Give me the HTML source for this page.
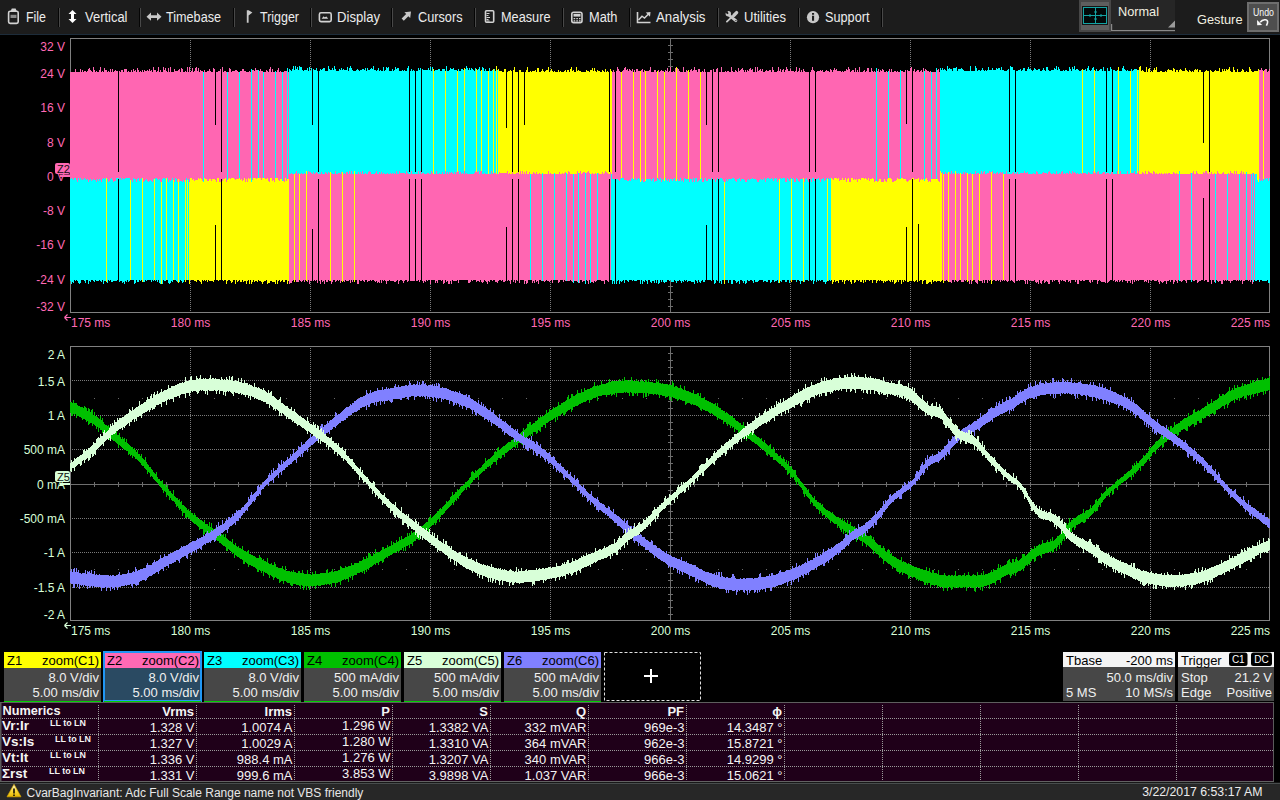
<!DOCTYPE html>
<html><head><meta charset="utf-8"><title>Scope</title>
<style>
html,body{margin:0;padding:0;background:#000;width:1280px;height:800px;overflow:hidden}
svg{position:absolute;left:0;top:0;display:block}
svg text{font-family:'Liberation Sans',sans-serif}
</style></head><body>
<svg width="1280" height="800" viewBox="0 0 1280 800">
<rect x="0" y="0" width="1280" height="34" fill="#1c1c1c"/>
<rect x="0" y="34" width="1280" height="1" fill="#1d2c3a"/>
<text x="26" y="22" font-size="14" fill="#ececec" text-anchor="start" textLength="20" lengthAdjust="spacingAndGlyphs">File</text>
<text x="85" y="22" font-size="14" fill="#ececec" text-anchor="start" textLength="42.5" lengthAdjust="spacingAndGlyphs">Vertical</text>
<text x="166" y="22" font-size="14" fill="#ececec" text-anchor="start" textLength="55" lengthAdjust="spacingAndGlyphs">Timebase</text>
<text x="260" y="22" font-size="14" fill="#ececec" text-anchor="start" textLength="39" lengthAdjust="spacingAndGlyphs">Trigger</text>
<text x="337" y="22" font-size="14" fill="#ececec" text-anchor="start" textLength="43" lengthAdjust="spacingAndGlyphs">Display</text>
<text x="418" y="22" font-size="14" fill="#ececec" text-anchor="start" textLength="44.5" lengthAdjust="spacingAndGlyphs">Cursors</text>
<text x="501" y="22" font-size="14" fill="#ececec" text-anchor="start" textLength="49.5" lengthAdjust="spacingAndGlyphs">Measure</text>
<text x="589" y="22" font-size="14" fill="#ececec" text-anchor="start" textLength="28.5" lengthAdjust="spacingAndGlyphs">Math</text>
<text x="656" y="22" font-size="14" fill="#ececec" text-anchor="start" textLength="49.5" lengthAdjust="spacingAndGlyphs">Analysis</text>
<text x="744" y="22" font-size="14" fill="#ececec" text-anchor="start" textLength="42" lengthAdjust="spacingAndGlyphs">Utilities</text>
<text x="825" y="22" font-size="14" fill="#ececec" text-anchor="start" textLength="44.5" lengthAdjust="spacingAndGlyphs">Support</text>
<rect x="58" y="8" width="1" height="19" fill="#050505"/>
<rect x="59" y="8" width="1" height="19" fill="#484848"/>
<rect x="139" y="8" width="1" height="19" fill="#050505"/>
<rect x="140" y="8" width="1" height="19" fill="#484848"/>
<rect x="233" y="8" width="1" height="19" fill="#050505"/>
<rect x="234" y="8" width="1" height="19" fill="#484848"/>
<rect x="310" y="8" width="1" height="19" fill="#050505"/>
<rect x="311" y="8" width="1" height="19" fill="#484848"/>
<rect x="391" y="8" width="1" height="19" fill="#050505"/>
<rect x="392" y="8" width="1" height="19" fill="#484848"/>
<rect x="474" y="8" width="1" height="19" fill="#050505"/>
<rect x="475" y="8" width="1" height="19" fill="#484848"/>
<rect x="562" y="8" width="1" height="19" fill="#050505"/>
<rect x="563" y="8" width="1" height="19" fill="#484848"/>
<rect x="629" y="8" width="1" height="19" fill="#050505"/>
<rect x="630" y="8" width="1" height="19" fill="#484848"/>
<rect x="717" y="8" width="1" height="19" fill="#050505"/>
<rect x="718" y="8" width="1" height="19" fill="#484848"/>
<rect x="798" y="8" width="1" height="19" fill="#050505"/>
<rect x="799" y="8" width="1" height="19" fill="#484848"/>
<rect x="881" y="8" width="1" height="19" fill="#050505"/>
<rect x="882" y="8" width="1" height="19" fill="#484848"/>

<g fill="none" stroke="#d2d2d2" stroke-width="1.6">
 <rect x="8.6" y="11.2" width="9.6" height="12.2" rx="1.6"/>
 <rect x="66" y="0" width="0" height="0"/>
 <rect x="319.4" y="12.8" width="11.8" height="8.8" rx="1.6"/>
 <rect x="485.5" y="10.8" width="8.2" height="11.4" rx="1"/>
 <rect x="571.8" y="12.2" width="10.2" height="10.4" rx="1.8"/>
 <path d="M637.5 12V22.5H650.5"/>
</g>
<path fill="#d2d2d2" d="M10.3 11.8L11.8 8.6H15.6L17 11.8Z"/>
<rect x="10.5" y="14.8" width="6" height="3.2" fill="#8a8a8a"/>
<path fill="#ffffff" d="M72.5 10L76.5 14H74V19H76.5L72.5 23L68.5 19H71V14H68.5Z"/>
<path fill="#c8c8c8" d="M146.5 16.7L151 12.6V15.3H157V12.6L161.5 16.7L157 20.8V18.1H151V20.8Z"/>
<path fill="#c8c8c8" d="M246.8 10.2H248.6V22.8H246.8Z M248.6 10.2L252.4 12.4L248.6 15.6Z"/>
<path fill="#cfcfcf" d="M326.5 16.6L328.2 18.8H321.6L323.6 16.2L324.6 17.2Z"/>
<path fill="#c8c8c8" d="M411 11.6L410.2 18L408.3 16.2L403.8 20.8L401.6 18.6L406.2 14.1L404.4 12.2Z"/>
<path stroke="#d2d2d2" stroke-width="1" d="M486.5 13.5h3M486.5 15.5h2M486.5 17.5h3.5M486.5 19.5h2M486.5 21h3"/>
<rect x="573.5" y="13.8" width="7" height="2.8" fill="#d2d2d2"/>
<path fill="#d2d2d2" d="M573.6 18h1.6v1.3h-1.6Z M576.3 18h1.6v1.3h-1.6Z M579 18h1.6v1.3h-1.6Z M573.6 20.2h1.6v1.3h-1.6Z M576.3 20.2h1.6v1.3h-1.6Z M579 20.2h1.6v1.3h-1.6Z"/>
<path fill="none" stroke="#d2d2d2" stroke-width="1.5" d="M638.5 20L642 16.2L644.5 18L649 13.5"/>
<path fill="#d2d2d2" d="M650.5 12L650 16.8L645.8 12.6Z"/>
<path fill="none" stroke="#c8c8c8" stroke-width="3.4" stroke-linecap="round" d="M734 15.2L736.6 12.6"/>
<path fill="none" stroke="#c8c8c8" stroke-width="1.8" stroke-linecap="round" d="M726.9 21.6L733 15.8"/>
<path fill="none" stroke="#c8c8c8" stroke-width="3" stroke-linecap="round" d="M729.6 15.6L735.8 20.6"/>
<circle cx="728.3" cy="13.8" r="2.7" fill="#c8c8c8"/>
<path fill="#1c1c1c" d="M725 12.2L727.2 10.6L728.6 13.2L727.4 14.2Z"/>
<circle cx="735.9" cy="20.6" r="0.65" fill="#1c1c1c"/>
<circle cx="813" cy="17.2" r="6.1" fill="#c8c8c8"/>
<path fill="#1c1c1c" d="M812 15.8h2.1v5h-2.1Z M812 13h2.1v1.8h-2.1Z"/>

<rect x="1079" y="0" width="32" height="32" fill="#474747"/>
<rect x="1081" y="2" width="28" height="28" fill="#5e5e5e"/>
<rect x="1082" y="6" width="26" height="19" fill="#151515"/>
<rect x="1083.5" y="7.5" width="23" height="16" fill="#020808" stroke="#13a3a3" stroke-width="1"/>
<path d="M1095.5 8V23M1084 15.5H1106" stroke="#13a3a3" stroke-width="1"/>
<path d="M1094.5 11h2v2h-2Z M1094.5 18h2v2h-2Z M1089 14.5h2v2h-2Z M1100 14.5h2v2h-2Z" fill="#13a3a3"/>
<rect x="1111" y="0" width="64" height="31" fill="#262626"/>
<rect x="1111" y="30" width="64" height="1.2" fill="#8a8a8a"/>
<rect x="1111" y="24" width="1.2" height="7" fill="#8a8a8a"/>
<path d="M1175 20.5V27.5H1168Z" fill="#9a9a9a"/>
<text x="1118" y="15.5" font-size="13.5" fill="#f2f0e0" text-anchor="start" textLength="41" lengthAdjust="spacingAndGlyphs">Normal</text>
<text x="1197" y="24" font-size="13.5" fill="#f2f0e0" text-anchor="start" textLength="45.5" lengthAdjust="spacingAndGlyphs">Gesture</text>
<rect x="1247" y="2" width="32" height="30" fill="#6e6e6e"/>
<rect x="1249" y="4" width="28" height="26" fill="#4e4e4e"/>
<text x="1263.5" y="16" font-size="10" fill="#f8f8f8" text-anchor="middle" textLength="21" lengthAdjust="spacingAndGlyphs">Undo</text>
<path d="M1260.2 22.2C1262.5 19.5 1267.2 18.6 1267.6 21.6C1267.8 23.2 1267 24.4 1266.4 25.6" fill="none" stroke="#f8f8f8" stroke-width="1.6"/><path d="M1257 20L1257.2 25.2L1262.2 25Z" fill="#f8f8f8"/>
<g shape-rendering="crispEdges">
<path d="M190.5 40V312M310.5 40V312M430.5 40V312M550.5 40V312M790.5 40V312M910.5 40V312M1030.5 40V312M1150.5 40V312M72 72.5H1269M72 107.5H1269M72 141.5H1269M72 210.5H1269M72 244.5H1269M72 279.5H1269" stroke="#7a7a7a" stroke-width="1" stroke-dasharray="1 1" fill="none"/>
<path d="" fill="#6a6a6a"/>
<path d="M670 38h1V312h-1ZM70 176H1269v1H70ZM668 45h5v1h-5ZM668 52h5v1h-5ZM668 59h5v1h-5ZM668 66h5v1h-5ZM668 72h5v1h-5ZM668 79h5v1h-5ZM668 86h5v1h-5ZM668 93h5v1h-5ZM668 100h5v1h-5ZM668 107h5v1h-5ZM668 114h5v1h-5ZM668 121h5v1h-5ZM668 127h5v1h-5ZM668 134h5v1h-5ZM668 141h5v1h-5ZM668 148h5v1h-5ZM668 155h5v1h-5ZM668 162h5v1h-5ZM668 169h5v1h-5ZM668 176h5v1h-5ZM668 182h5v1h-5ZM668 189h5v1h-5ZM668 196h5v1h-5ZM668 203h5v1h-5ZM668 210h5v1h-5ZM668 217h5v1h-5ZM668 224h5v1h-5ZM668 231h5v1h-5ZM668 237h5v1h-5ZM668 244h5v1h-5ZM668 251h5v1h-5ZM668 258h5v1h-5ZM668 265h5v1h-5ZM668 272h5v1h-5ZM668 279h5v1h-5ZM668 286h5v1h-5ZM668 292h5v1h-5ZM668 299h5v1h-5ZM668 306h5v1h-5ZM94 174h1v5h-1ZM118 174h1v5h-1ZM142 174h1v5h-1ZM166 174h1v5h-1ZM190 174h1v5h-1ZM214 174h1v5h-1ZM238 174h1v5h-1ZM262 174h1v5h-1ZM286 174h1v5h-1ZM310 174h1v5h-1ZM334 174h1v5h-1ZM358 174h1v5h-1ZM382 174h1v5h-1ZM406 174h1v5h-1ZM430 174h1v5h-1ZM454 174h1v5h-1ZM478 174h1v5h-1ZM502 174h1v5h-1ZM526 174h1v5h-1ZM550 174h1v5h-1ZM574 174h1v5h-1ZM598 174h1v5h-1ZM622 174h1v5h-1ZM646 174h1v5h-1ZM670 174h1v5h-1ZM694 174h1v5h-1ZM718 174h1v5h-1ZM742 174h1v5h-1ZM766 174h1v5h-1ZM790 174h1v5h-1ZM814 174h1v5h-1ZM838 174h1v5h-1ZM862 174h1v5h-1ZM886 174h1v5h-1ZM910 174h1v5h-1ZM934 174h1v5h-1ZM958 174h1v5h-1ZM982 174h1v5h-1ZM1006 174h1v5h-1ZM1030 174h1v5h-1ZM1054 174h1v5h-1ZM1078 174h1v5h-1ZM1102 174h1v5h-1ZM1126 174h1v5h-1ZM1150 174h1v5h-1ZM1174 174h1v5h-1ZM1198 174h1v5h-1ZM1222 174h1v5h-1ZM1246 174h1v5h-1Z" fill="#6e6e6e"/>
<rect x="70.5" y="38.5" width="1199" height="274" fill="none" stroke="#808080" stroke-width="1"/>
<path fill="#ff66b2" d="M289 168h1V284h-1ZM290 168h1V283h-1ZM291 168h1V283h-1ZM292 168h1V281h-1ZM293 168h1V280h-1ZM295 168h1V280h-1ZM296 168h1V282h-1ZM297 168h1V282h-1ZM298 168h1V282h-1ZM300 168h1V281h-1ZM301 168h1V282h-1ZM302 168h1V281h-1ZM303 168h1V280h-1ZM304 168h1V282h-1ZM305 168h1V280h-1ZM307 168h1V282h-1ZM308 168h1V280h-1ZM309 168h1V284h-1ZM310 168h1V281h-1ZM311 168h1V281h-1ZM312 168h1V280h-1ZM313 168h1V281h-1ZM314 168h1V280h-1ZM315 168h1V281h-1ZM316 168h1V280h-1ZM317 168h1V283h-1ZM318 168h1V281h-1ZM319 168h1V281h-1ZM320 168h1V284h-1ZM321 168h1V280h-1ZM322 168h1V282h-1ZM323 168h1V281h-1ZM324 168h1V284h-1ZM325 168h1V280h-1ZM326 168h1V282h-1ZM327 168h1V282h-1ZM328 168h1V280h-1ZM329 168h1V281h-1ZM331 168h1V284h-1ZM332 168h1V282h-1ZM333 168h1V280h-1ZM334 168h1V280h-1ZM335 168h1V282h-1ZM336 168h1V281h-1ZM337 168h1V280h-1ZM338 168h1V281h-1ZM339 168h1V280h-1ZM340 168h1V283h-1ZM341 168h1V281h-1ZM343 168h1V281h-1ZM344 168h1V282h-1ZM345 168h1V280h-1ZM346 168h1V281h-1ZM347 168h1V281h-1ZM348 168h1V281h-1ZM349 168h1V280h-1ZM350 168h1V283h-1ZM351 168h1V280h-1ZM352 168h1V282h-1ZM353 168h1V280h-1ZM355 168h1V280h-1ZM356 168h1V280h-1ZM357 168h1V284h-1ZM358 168h1V284h-1ZM359 168h1V280h-1ZM360 168h1V281h-1ZM361 168h1V281h-1ZM362 168h1V280h-1ZM363 168h1V281h-1ZM364 168h1V282h-1ZM365 168h1V280h-1ZM366 168h1V280h-1ZM367 168h1V282h-1ZM368 168h1V281h-1ZM369 168h1V281h-1ZM370 168h1V280h-1ZM371 168h1V281h-1ZM372 168h1V280h-1ZM373 168h1V280h-1ZM374 168h1V281h-1ZM375 168h1V282h-1ZM376 168h1V281h-1ZM377 168h1V283h-1ZM378 168h1V282h-1ZM379 168h1V283h-1ZM380 168h1V280h-1ZM381 168h1V283h-1ZM382 168h1V280h-1ZM383 168h1V281h-1ZM384 168h1V280h-1ZM385 168h1V281h-1ZM386 168h1V284h-1ZM387 168h1V281h-1ZM388 168h1V281h-1ZM389 168h1V280h-1ZM390 168h1V281h-1ZM391 168h1V281h-1ZM392 168h1V281h-1ZM393 168h1V281h-1ZM394 168h1V282h-1ZM395 168h1V282h-1ZM396 168h1V281h-1ZM397 168h1V280h-1ZM398 168h1V284h-1ZM399 168h1V281h-1ZM400 168h1V280h-1ZM401 168h1V280h-1ZM402 168h1V281h-1ZM403 168h1V283h-1ZM404 168h1V281h-1ZM405 168h1V280h-1ZM406 168h1V280h-1ZM407 168h1V282h-1ZM408 168h1V281h-1ZM409 168h1V282h-1ZM410 168h1V281h-1ZM411 168h1V281h-1ZM412 168h1V281h-1ZM413 168h1V281h-1ZM414 168h1V281h-1ZM415 168h1V282h-1ZM416 168h1V281h-1ZM417 168h1V281h-1ZM418 168h1V280h-1ZM419 168h1V282h-1ZM420 168h1V280h-1ZM421 168h1V283h-1ZM422 168h1V281h-1ZM423 168h1V283h-1ZM424 168h1V281h-1ZM425 168h1V282h-1ZM426 168h1V280h-1ZM427 168h1V281h-1ZM428 168h1V280h-1ZM429 168h1V280h-1ZM430 168h1V284h-1ZM431 168h1V280h-1ZM432 168h1V280h-1ZM433 168h1V280h-1ZM434 168h1V280h-1ZM435 168h1V283h-1ZM436 168h1V281h-1ZM437 168h1V283h-1ZM438 168h1V280h-1ZM439 168h1V280h-1ZM440 168h1V280h-1ZM441 168h1V281h-1ZM442 168h1V280h-1ZM443 168h1V284h-1ZM444 168h1V283h-1ZM445 168h1V280h-1ZM446 168h1V282h-1ZM447 168h1V281h-1ZM448 168h1V284h-1ZM449 168h1V284h-1ZM450 168h1V281h-1ZM451 168h1V284h-1ZM452 168h1V280h-1ZM453 168h1V281h-1ZM454 168h1V281h-1ZM455 168h1V281h-1ZM456 168h1V281h-1ZM457 168h1V280h-1ZM458 168h1V283h-1ZM459 168h1V280h-1ZM460 168h1V280h-1ZM461 168h1V280h-1ZM462 168h1V280h-1ZM463 168h1V280h-1ZM464 168h1V280h-1ZM465 168h1V280h-1ZM466 168h1V280h-1ZM467 168h1V280h-1ZM468 168h1V283h-1ZM469 168h1V283h-1ZM470 168h1V282h-1ZM471 168h1V280h-1ZM472 168h1V281h-1ZM473 168h1V280h-1ZM474 168h1V280h-1ZM475 168h1V280h-1ZM476 168h1V282h-1ZM477 168h1V281h-1ZM478 168h1V281h-1ZM479 168h1V282h-1ZM480 168h1V280h-1ZM481 168h1V282h-1ZM482 168h1V283h-1ZM483 168h1V282h-1ZM484 168h1V280h-1ZM485 168h1V281h-1ZM486 168h1V282h-1ZM487 168h1V284h-1ZM488 168h1V281h-1ZM489 168h1V282h-1ZM490 168h1V280h-1ZM491 168h1V280h-1ZM492 168h1V281h-1ZM493 168h1V280h-1ZM494 168h1V280h-1ZM495 168h1V282h-1ZM496 168h1V282h-1ZM497 168h1V283h-1ZM498 168h1V281h-1ZM499 168h1V280h-1ZM500 168h1V280h-1ZM501 168h1V281h-1ZM502 168h1V280h-1ZM503 168h1V282h-1ZM504 168h1V282h-1ZM505 168h1V281h-1ZM506 168h1V283h-1ZM507 168h1V281h-1ZM508 168h1V280h-1ZM509 168h1V281h-1ZM510 168h1V284h-1ZM511 168h1V280h-1ZM512 168h1V281h-1ZM513 168h1V282h-1ZM514 168h1V280h-1ZM515 168h1V283h-1ZM516 168h1V280h-1ZM517 168h1V281h-1ZM518 168h1V282h-1ZM519 168h1V283h-1ZM520 168h1V280h-1ZM521 168h1V280h-1ZM522 168h1V280h-1ZM523 168h1V280h-1ZM524 168h1V284h-1ZM525 168h1V281h-1ZM526 168h1V284h-1ZM527 168h1V283h-1ZM528 168h1V280h-1ZM529 168h1V280h-1ZM531 168h1V280h-1ZM532 168h1V283h-1ZM533 168h1V281h-1ZM534 168h1V283h-1ZM535 168h1V280h-1ZM536 168h1V282h-1ZM537 168h1V281h-1ZM538 168h1V284h-1ZM539 168h1V280h-1ZM540 168h1V280h-1ZM541 168h1V281h-1ZM543 168h1V281h-1ZM544 168h1V282h-1ZM545 168h1V281h-1ZM546 168h1V280h-1ZM547 168h1V281h-1ZM548 168h1V281h-1ZM549 168h1V282h-1ZM550 168h1V281h-1ZM551 168h1V280h-1ZM552 168h1V283h-1ZM553 168h1V280h-1ZM555 168h1V280h-1ZM556 168h1V280h-1ZM557 168h1V280h-1ZM558 168h1V283h-1ZM559 168h1V282h-1ZM560 168h1V280h-1ZM561 168h1V280h-1ZM562 168h1V280h-1ZM563 168h1V282h-1ZM564 168h1V280h-1ZM565 168h1V281h-1ZM567 168h1V281h-1ZM568 168h1V281h-1ZM569 168h1V281h-1ZM570 168h1V280h-1ZM571 168h1V281h-1ZM572 168h1V282h-1ZM574 168h1V281h-1ZM575 168h1V281h-1ZM576 168h1V281h-1ZM577 168h1V282h-1ZM579 168h1V283h-1ZM580 168h1V280h-1ZM581 168h1V280h-1ZM582 168h1V282h-1ZM583 168h1V281h-1ZM584 168h1V281h-1ZM586 168h1V280h-1ZM587 168h1V281h-1ZM588 168h1V284h-1ZM589 168h1V280h-1ZM591 168h1V282h-1ZM592 168h1V282h-1ZM593 168h1V283h-1ZM594 168h1V281h-1ZM595 168h1V282h-1ZM596 168h1V281h-1ZM598 168h1V280h-1ZM599 168h1V280h-1ZM600 168h1V280h-1ZM601 168h1V281h-1ZM602 168h1V281h-1ZM603 168h1V281h-1ZM604 168h1V284h-1ZM605 168h1V280h-1ZM606 168h1V280h-1ZM607 168h1V281h-1ZM608 168h1V282h-1ZM609 168h1V281h-1ZM610 168h1V280h-1ZM942 168h1V280h-1ZM944 168h1V281h-1ZM945 168h1V281h-1ZM946 168h1V280h-1ZM947 168h1V281h-1ZM949 168h1V282h-1ZM950 168h1V282h-1ZM951 168h1V283h-1ZM952 168h1V280h-1ZM953 168h1V280h-1ZM954 168h1V282h-1ZM956 168h1V281h-1ZM957 168h1V282h-1ZM958 168h1V281h-1ZM959 168h1V280h-1ZM961 168h1V282h-1ZM962 168h1V282h-1ZM963 168h1V282h-1ZM964 168h1V280h-1ZM965 168h1V281h-1ZM966 168h1V280h-1ZM968 168h1V281h-1ZM969 168h1V284h-1ZM970 168h1V280h-1ZM971 168h1V284h-1ZM973 168h1V280h-1ZM974 168h1V280h-1ZM975 168h1V282h-1ZM976 168h1V283h-1ZM977 168h1V284h-1ZM978 168h1V280h-1ZM980 168h1V281h-1ZM981 168h1V281h-1ZM982 168h1V283h-1ZM983 168h1V280h-1ZM984 168h1V283h-1ZM985 168h1V280h-1ZM986 168h1V280h-1ZM987 168h1V283h-1ZM988 168h1V280h-1ZM989 168h1V281h-1ZM990 168h1V280h-1ZM992 168h1V281h-1ZM993 168h1V280h-1ZM994 168h1V280h-1ZM995 168h1V281h-1ZM996 168h1V281h-1ZM997 168h1V280h-1ZM998 168h1V281h-1ZM999 168h1V280h-1ZM1000 168h1V282h-1ZM1001 168h1V280h-1ZM1002 168h1V281h-1ZM1004 168h1V281h-1ZM1005 168h1V280h-1ZM1006 168h1V281h-1ZM1007 168h1V282h-1ZM1008 168h1V281h-1ZM1009 168h1V281h-1ZM1010 168h1V281h-1ZM1011 168h1V280h-1ZM1012 168h1V281h-1ZM1013 168h1V282h-1ZM1014 168h1V283h-1ZM1015 168h1V280h-1ZM1016 168h1V281h-1ZM1017 168h1V281h-1ZM1018 168h1V280h-1ZM1019 168h1V281h-1ZM1020 168h1V280h-1ZM1021 168h1V280h-1ZM1022 168h1V280h-1ZM1023 168h1V280h-1ZM1024 168h1V281h-1ZM1025 168h1V284h-1ZM1026 168h1V280h-1ZM1027 168h1V284h-1ZM1028 168h1V280h-1ZM1029 168h1V281h-1ZM1030 168h1V280h-1ZM1031 168h1V281h-1ZM1032 168h1V281h-1ZM1033 168h1V281h-1ZM1034 168h1V280h-1ZM1035 168h1V282h-1ZM1036 168h1V283h-1ZM1037 168h1V282h-1ZM1038 168h1V284h-1ZM1039 168h1V280h-1ZM1040 168h1V283h-1ZM1041 168h1V284h-1ZM1042 168h1V281h-1ZM1043 168h1V280h-1ZM1044 168h1V283h-1ZM1045 168h1V282h-1ZM1046 168h1V281h-1ZM1047 168h1V282h-1ZM1048 168h1V284h-1ZM1049 168h1V284h-1ZM1050 168h1V280h-1ZM1051 168h1V280h-1ZM1052 168h1V282h-1ZM1053 168h1V280h-1ZM1054 168h1V281h-1ZM1055 168h1V280h-1ZM1056 168h1V280h-1ZM1057 168h1V280h-1ZM1058 168h1V282h-1ZM1059 168h1V284h-1ZM1060 168h1V280h-1ZM1061 168h1V281h-1ZM1062 168h1V280h-1ZM1063 168h1V281h-1ZM1064 168h1V281h-1ZM1065 168h1V282h-1ZM1066 168h1V280h-1ZM1067 168h1V280h-1ZM1068 168h1V282h-1ZM1069 168h1V281h-1ZM1070 168h1V283h-1ZM1071 168h1V280h-1ZM1072 168h1V280h-1ZM1073 168h1V280h-1ZM1074 168h1V280h-1ZM1075 168h1V282h-1ZM1076 168h1V280h-1ZM1077 168h1V284h-1ZM1078 168h1V284h-1ZM1079 168h1V280h-1ZM1080 168h1V281h-1ZM1081 168h1V281h-1ZM1082 168h1V280h-1ZM1083 168h1V281h-1ZM1084 168h1V281h-1ZM1085 168h1V280h-1ZM1086 168h1V280h-1ZM1087 168h1V280h-1ZM1088 168h1V280h-1ZM1089 168h1V282h-1ZM1090 168h1V283h-1ZM1091 168h1V280h-1ZM1092 168h1V282h-1ZM1093 168h1V280h-1ZM1094 168h1V280h-1ZM1095 168h1V280h-1ZM1096 168h1V280h-1ZM1097 168h1V284h-1ZM1098 168h1V281h-1ZM1099 168h1V280h-1ZM1100 168h1V281h-1ZM1101 168h1V282h-1ZM1102 168h1V282h-1ZM1103 168h1V282h-1ZM1104 168h1V282h-1ZM1105 168h1V283h-1ZM1106 168h1V284h-1ZM1107 168h1V283h-1ZM1108 168h1V282h-1ZM1109 168h1V281h-1ZM1110 168h1V280h-1ZM1111 168h1V280h-1ZM1112 168h1V281h-1ZM1113 168h1V281h-1ZM1114 168h1V280h-1ZM1115 168h1V282h-1ZM1116 168h1V281h-1ZM1117 168h1V282h-1ZM1118 168h1V280h-1ZM1119 168h1V282h-1ZM1120 168h1V281h-1ZM1121 168h1V280h-1ZM1122 168h1V282h-1ZM1123 168h1V280h-1ZM1124 168h1V280h-1ZM1125 168h1V281h-1ZM1126 168h1V281h-1ZM1127 168h1V283h-1ZM1128 168h1V281h-1ZM1129 168h1V281h-1ZM1130 168h1V283h-1ZM1131 168h1V280h-1ZM1132 168h1V284h-1ZM1133 168h1V280h-1ZM1134 168h1V282h-1ZM1135 168h1V280h-1ZM1136 168h1V281h-1ZM1137 168h1V280h-1ZM1138 168h1V281h-1ZM1139 168h1V280h-1ZM1140 168h1V280h-1ZM1141 168h1V280h-1ZM1142 168h1V280h-1ZM1143 168h1V280h-1ZM1144 168h1V282h-1ZM1145 168h1V281h-1ZM1146 168h1V282h-1ZM1147 168h1V280h-1ZM1148 168h1V283h-1ZM1149 168h1V280h-1ZM1150 168h1V280h-1ZM1151 168h1V281h-1ZM1152 168h1V280h-1ZM1153 168h1V280h-1ZM1154 168h1V281h-1ZM1155 168h1V281h-1ZM1156 168h1V281h-1ZM1157 168h1V280h-1ZM1158 168h1V282h-1ZM1159 168h1V284h-1ZM1160 168h1V281h-1ZM1161 168h1V282h-1ZM1162 168h1V283h-1ZM1163 168h1V282h-1ZM1164 168h1V281h-1ZM1165 168h1V281h-1ZM1166 168h1V284h-1ZM1167 168h1V281h-1ZM1168 168h1V281h-1ZM1169 168h1V280h-1ZM1170 168h1V282h-1ZM1171 168h1V280h-1ZM1172 168h1V280h-1ZM1173 168h1V284h-1ZM1174 168h1V282h-1ZM1175 168h1V280h-1ZM1176 168h1V281h-1ZM1177 168h1V283h-1ZM1178 168h1V280h-1ZM1180 168h1V281h-1ZM1181 168h1V282h-1ZM1182 168h1V281h-1ZM1183 168h1V280h-1ZM1184 168h1V280h-1ZM1185 168h1V281h-1ZM1186 168h1V283h-1ZM1187 168h1V280h-1ZM1188 168h1V280h-1ZM1189 168h1V280h-1ZM1190 168h1V280h-1ZM1192 168h1V280h-1ZM1193 168h1V281h-1ZM1194 168h1V281h-1ZM1195 168h1V280h-1ZM1196 168h1V280h-1ZM1197 168h1V283h-1ZM1198 168h1V282h-1ZM1199 168h1V281h-1ZM1200 168h1V281h-1ZM1201 168h1V280h-1ZM1202 168h1V280h-1ZM1203 168h1V281h-1ZM1204 168h1V281h-1ZM1205 168h1V280h-1ZM1206 168h1V280h-1ZM1207 168h1V282h-1ZM1208 168h1V282h-1ZM1209 168h1V281h-1ZM1210 168h1V280h-1ZM1211 168h1V284h-1ZM1212 168h1V280h-1ZM1213 168h1V280h-1ZM1214 168h1V282h-1ZM1216 168h1V280h-1ZM1217 168h1V281h-1ZM1218 168h1V282h-1ZM1219 168h1V281h-1ZM1220 168h1V281h-1ZM1221 168h1V284h-1ZM1222 168h1V284h-1ZM1223 168h1V280h-1ZM1224 168h1V281h-1ZM1225 168h1V280h-1ZM1226 168h1V281h-1ZM1228 168h1V281h-1ZM1229 168h1V281h-1ZM1230 168h1V283h-1ZM1231 168h1V281h-1ZM1232 168h1V281h-1ZM1233 168h1V280h-1ZM1234 168h1V280h-1ZM1235 168h1V280h-1ZM1236 168h1V281h-1ZM1237 168h1V280h-1ZM1238 168h1V281h-1ZM1240 168h1V281h-1ZM1241 168h1V280h-1ZM1242 168h1V284h-1ZM1243 168h1V281h-1ZM1244 168h1V281h-1ZM1245 168h1V280h-1ZM1247 168h1V280h-1ZM1248 168h1V281h-1ZM1249 168h1V280h-1ZM1250 168h1V282h-1ZM1252 168h1V284h-1ZM1254 168h1V280h-1Z"/>
<path fill="#00ffff" d="M70 168h1V281h-1ZM71 168h1V284h-1ZM72 168h1V282h-1ZM73 168h1V283h-1ZM74 168h1V280h-1ZM75 168h1V281h-1ZM76 168h1V280h-1ZM77 168h1V281h-1ZM78 168h1V283h-1ZM79 168h1V284h-1ZM80 168h1V283h-1ZM81 168h1V280h-1ZM82 168h1V280h-1ZM83 168h1V280h-1ZM84 168h1V281h-1ZM85 168h1V283h-1ZM86 168h1V280h-1ZM87 168h1V280h-1ZM88 168h1V284h-1ZM89 168h1V281h-1ZM90 168h1V282h-1ZM91 168h1V280h-1ZM92 168h1V280h-1ZM93 168h1V281h-1ZM94 168h1V282h-1ZM95 168h1V280h-1ZM96 168h1V281h-1ZM97 168h1V281h-1ZM98 168h1V281h-1ZM99 168h1V280h-1ZM100 168h1V281h-1ZM101 168h1V282h-1ZM102 168h1V280h-1ZM103 168h1V284h-1ZM104 168h1V281h-1ZM105 168h1V281h-1ZM107 168h1V283h-1ZM108 168h1V280h-1ZM109 168h1V281h-1ZM110 168h1V280h-1ZM111 168h1V282h-1ZM112 168h1V282h-1ZM113 168h1V281h-1ZM114 168h1V281h-1ZM115 168h1V281h-1ZM116 168h1V281h-1ZM117 168h1V280h-1ZM118 168h1V280h-1ZM119 168h1V282h-1ZM120 168h1V281h-1ZM121 168h1V281h-1ZM122 168h1V283h-1ZM123 168h1V282h-1ZM124 168h1V284h-1ZM125 168h1V281h-1ZM126 168h1V282h-1ZM127 168h1V280h-1ZM128 168h1V282h-1ZM129 168h1V281h-1ZM131 168h1V280h-1ZM132 168h1V280h-1ZM133 168h1V280h-1ZM134 168h1V284h-1ZM135 168h1V283h-1ZM136 168h1V280h-1ZM137 168h1V282h-1ZM138 168h1V282h-1ZM139 168h1V280h-1ZM140 168h1V281h-1ZM141 168h1V280h-1ZM143 168h1V282h-1ZM144 168h1V282h-1ZM145 168h1V280h-1ZM146 168h1V281h-1ZM147 168h1V280h-1ZM148 168h1V280h-1ZM149 168h1V280h-1ZM150 168h1V280h-1ZM151 168h1V282h-1ZM152 168h1V280h-1ZM153 168h1V281h-1ZM155 168h1V281h-1ZM156 168h1V280h-1ZM157 168h1V282h-1ZM158 168h1V280h-1ZM159 168h1V283h-1ZM160 168h1V284h-1ZM162 168h1V284h-1ZM163 168h1V280h-1ZM164 168h1V281h-1ZM165 168h1V281h-1ZM167 168h1V280h-1ZM168 168h1V283h-1ZM169 168h1V284h-1ZM170 168h1V283h-1ZM171 168h1V281h-1ZM172 168h1V282h-1ZM174 168h1V280h-1ZM175 168h1V280h-1ZM176 168h1V281h-1ZM177 168h1V282h-1ZM179 168h1V282h-1ZM180 168h1V280h-1ZM181 168h1V281h-1ZM182 168h1V283h-1ZM183 168h1V282h-1ZM184 168h1V280h-1ZM186 168h1V280h-1ZM188 168h1V280h-1ZM530 168h1V280h-1ZM542 168h1V281h-1ZM554 168h1V280h-1ZM566 168h1V281h-1ZM573 168h1V283h-1ZM578 168h1V283h-1ZM585 168h1V284h-1ZM590 168h1V283h-1ZM597 168h1V280h-1ZM611 168h1V280h-1ZM612 168h1V284h-1ZM613 168h1V281h-1ZM614 168h1V284h-1ZM615 168h1V280h-1ZM616 168h1V284h-1ZM617 168h1V281h-1ZM618 168h1V280h-1ZM619 168h1V284h-1ZM620 168h1V281h-1ZM621 168h1V282h-1ZM622 168h1V281h-1ZM623 168h1V280h-1ZM624 168h1V283h-1ZM625 168h1V280h-1ZM626 168h1V280h-1ZM627 168h1V281h-1ZM628 168h1V282h-1ZM629 168h1V280h-1ZM630 168h1V280h-1ZM631 168h1V280h-1ZM632 168h1V281h-1ZM633 168h1V280h-1ZM634 168h1V281h-1ZM635 168h1V281h-1ZM636 168h1V281h-1ZM637 168h1V280h-1ZM638 168h1V280h-1ZM639 168h1V280h-1ZM640 168h1V284h-1ZM641 168h1V280h-1ZM642 168h1V284h-1ZM643 168h1V281h-1ZM644 168h1V282h-1ZM645 168h1V280h-1ZM646 168h1V281h-1ZM647 168h1V284h-1ZM648 168h1V280h-1ZM649 168h1V280h-1ZM650 168h1V282h-1ZM651 168h1V283h-1ZM652 168h1V281h-1ZM653 168h1V281h-1ZM654 168h1V283h-1ZM655 168h1V280h-1ZM656 168h1V283h-1ZM657 168h1V280h-1ZM658 168h1V284h-1ZM659 168h1V283h-1ZM660 168h1V280h-1ZM661 168h1V282h-1ZM662 168h1V280h-1ZM663 168h1V282h-1ZM664 168h1V283h-1ZM665 168h1V282h-1ZM666 168h1V282h-1ZM667 168h1V280h-1ZM668 168h1V280h-1ZM669 168h1V281h-1ZM670 168h1V280h-1ZM671 168h1V282h-1ZM672 168h1V282h-1ZM673 168h1V282h-1ZM674 168h1V280h-1ZM675 168h1V281h-1ZM676 168h1V283h-1ZM677 168h1V281h-1ZM678 168h1V281h-1ZM679 168h1V280h-1ZM680 168h1V281h-1ZM681 168h1V283h-1ZM682 168h1V281h-1ZM683 168h1V282h-1ZM684 168h1V280h-1ZM685 168h1V281h-1ZM686 168h1V280h-1ZM687 168h1V282h-1ZM688 168h1V281h-1ZM689 168h1V281h-1ZM690 168h1V281h-1ZM691 168h1V282h-1ZM692 168h1V282h-1ZM693 168h1V282h-1ZM694 168h1V284h-1ZM695 168h1V280h-1ZM696 168h1V281h-1ZM697 168h1V283h-1ZM698 168h1V280h-1ZM699 168h1V282h-1ZM700 168h1V283h-1ZM701 168h1V281h-1ZM702 168h1V280h-1ZM703 168h1V282h-1ZM704 168h1V282h-1ZM705 168h1V280h-1ZM706 168h1V280h-1ZM707 168h1V280h-1ZM708 168h1V280h-1ZM709 168h1V280h-1ZM710 168h1V280h-1ZM711 168h1V281h-1ZM712 168h1V281h-1ZM713 168h1V280h-1ZM714 168h1V284h-1ZM715 168h1V283h-1ZM716 168h1V280h-1ZM717 168h1V281h-1ZM718 168h1V280h-1ZM719 168h1V283h-1ZM720 168h1V281h-1ZM721 168h1V284h-1ZM722 168h1V280h-1ZM723 168h1V280h-1ZM725 168h1V280h-1ZM726 168h1V280h-1ZM727 168h1V280h-1ZM728 168h1V283h-1ZM729 168h1V280h-1ZM730 168h1V280h-1ZM731 168h1V284h-1ZM732 168h1V284h-1ZM733 168h1V280h-1ZM734 168h1V280h-1ZM735 168h1V281h-1ZM736 168h1V283h-1ZM737 168h1V282h-1ZM738 168h1V281h-1ZM739 168h1V284h-1ZM740 168h1V280h-1ZM741 168h1V280h-1ZM742 168h1V281h-1ZM743 168h1V283h-1ZM744 168h1V281h-1ZM745 168h1V284h-1ZM746 168h1V283h-1ZM747 168h1V280h-1ZM748 168h1V281h-1ZM749 168h1V281h-1ZM750 168h1V280h-1ZM751 168h1V280h-1ZM752 168h1V281h-1ZM753 168h1V283h-1ZM754 168h1V280h-1ZM755 168h1V282h-1ZM756 168h1V282h-1ZM757 168h1V282h-1ZM758 168h1V281h-1ZM759 168h1V280h-1ZM760 168h1V280h-1ZM761 168h1V280h-1ZM762 168h1V280h-1ZM763 168h1V282h-1ZM764 168h1V281h-1ZM765 168h1V281h-1ZM766 168h1V282h-1ZM767 168h1V282h-1ZM768 168h1V280h-1ZM769 168h1V280h-1ZM770 168h1V283h-1ZM771 168h1V282h-1ZM772 168h1V280h-1ZM773 168h1V280h-1ZM774 168h1V282h-1ZM775 168h1V281h-1ZM776 168h1V281h-1ZM777 168h1V280h-1ZM778 168h1V283h-1ZM780 168h1V281h-1ZM781 168h1V282h-1ZM782 168h1V280h-1ZM783 168h1V280h-1ZM784 168h1V280h-1ZM785 168h1V282h-1ZM786 168h1V282h-1ZM787 168h1V280h-1ZM788 168h1V280h-1ZM789 168h1V283h-1ZM790 168h1V280h-1ZM792 168h1V280h-1ZM793 168h1V280h-1ZM794 168h1V280h-1ZM795 168h1V280h-1ZM796 168h1V282h-1ZM797 168h1V280h-1ZM798 168h1V280h-1ZM799 168h1V281h-1ZM800 168h1V284h-1ZM801 168h1V281h-1ZM802 168h1V281h-1ZM804 168h1V282h-1ZM805 168h1V280h-1ZM806 168h1V280h-1ZM807 168h1V280h-1ZM808 168h1V281h-1ZM809 168h1V282h-1ZM810 168h1V280h-1ZM811 168h1V281h-1ZM812 168h1V280h-1ZM813 168h1V284h-1ZM814 168h1V281h-1ZM815 168h1V280h-1ZM816 168h1V282h-1ZM817 168h1V280h-1ZM818 168h1V281h-1ZM819 168h1V280h-1ZM820 168h1V281h-1ZM821 168h1V280h-1ZM822 168h1V280h-1ZM823 168h1V282h-1ZM824 168h1V282h-1ZM825 168h1V284h-1ZM826 168h1V282h-1ZM828 168h1V281h-1ZM829 168h1V280h-1ZM830 168h1V281h-1ZM1179 168h1V281h-1ZM1191 168h1V282h-1ZM1215 168h1V283h-1ZM1227 168h1V280h-1ZM1239 168h1V280h-1ZM1246 168h1V280h-1ZM1251 168h1V280h-1ZM1253 168h1V282h-1ZM1255 168h1V281h-1ZM1256 168h1V281h-1ZM1257 168h1V280h-1ZM1258 168h1V280h-1ZM1259 168h1V282h-1ZM1260 168h1V280h-1ZM1261 168h1V280h-1ZM1262 168h1V281h-1ZM1263 168h1V281h-1ZM1264 168h1V281h-1ZM1265 168h1V281h-1ZM1266 168h1V281h-1ZM1267 168h1V280h-1ZM1268 168h1V283h-1ZM1269 168h1V283h-1Z"/>
<path fill="#ffff00" d="M106 168h1V282h-1ZM130 168h1V280h-1ZM142 168h1V282h-1ZM154 168h1V280h-1ZM161 168h1V284h-1ZM166 168h1V280h-1ZM173 168h1V280h-1ZM178 168h1V283h-1ZM185 168h1V282h-1ZM187 168h1V280h-1ZM189 168h1V284h-1ZM190 168h1V280h-1ZM191 168h1V280h-1ZM192 168h1V280h-1ZM193 168h1V280h-1ZM194 168h1V281h-1ZM195 168h1V281h-1ZM196 168h1V282h-1ZM197 168h1V280h-1ZM198 168h1V280h-1ZM199 168h1V281h-1ZM200 168h1V282h-1ZM201 168h1V284h-1ZM202 168h1V280h-1ZM203 168h1V281h-1ZM204 168h1V280h-1ZM205 168h1V281h-1ZM206 168h1V280h-1ZM207 168h1V282h-1ZM208 168h1V280h-1ZM209 168h1V281h-1ZM210 168h1V281h-1ZM211 168h1V281h-1ZM212 168h1V281h-1ZM213 168h1V282h-1ZM214 168h1V280h-1ZM215 168h1V282h-1ZM216 168h1V280h-1ZM217 168h1V280h-1ZM218 168h1V281h-1ZM219 168h1V280h-1ZM220 168h1V280h-1ZM221 168h1V284h-1ZM222 168h1V280h-1ZM223 168h1V281h-1ZM224 168h1V280h-1ZM225 168h1V280h-1ZM226 168h1V284h-1ZM227 168h1V281h-1ZM228 168h1V280h-1ZM229 168h1V280h-1ZM230 168h1V281h-1ZM231 168h1V283h-1ZM232 168h1V282h-1ZM233 168h1V280h-1ZM234 168h1V280h-1ZM235 168h1V284h-1ZM236 168h1V280h-1ZM237 168h1V282h-1ZM238 168h1V281h-1ZM239 168h1V280h-1ZM240 168h1V282h-1ZM241 168h1V282h-1ZM242 168h1V280h-1ZM243 168h1V282h-1ZM244 168h1V281h-1ZM245 168h1V281h-1ZM246 168h1V284h-1ZM247 168h1V281h-1ZM248 168h1V280h-1ZM249 168h1V284h-1ZM250 168h1V280h-1ZM251 168h1V284h-1ZM252 168h1V282h-1ZM253 168h1V280h-1ZM254 168h1V282h-1ZM255 168h1V281h-1ZM256 168h1V281h-1ZM257 168h1V282h-1ZM258 168h1V280h-1ZM259 168h1V281h-1ZM260 168h1V281h-1ZM261 168h1V282h-1ZM262 168h1V284h-1ZM263 168h1V282h-1ZM264 168h1V281h-1ZM265 168h1V281h-1ZM266 168h1V280h-1ZM267 168h1V284h-1ZM268 168h1V283h-1ZM269 168h1V283h-1ZM270 168h1V281h-1ZM271 168h1V281h-1ZM272 168h1V282h-1ZM273 168h1V282h-1ZM274 168h1V282h-1ZM275 168h1V284h-1ZM276 168h1V280h-1ZM277 168h1V284h-1ZM278 168h1V281h-1ZM279 168h1V280h-1ZM280 168h1V282h-1ZM281 168h1V281h-1ZM282 168h1V280h-1ZM283 168h1V282h-1ZM284 168h1V282h-1ZM285 168h1V280h-1ZM286 168h1V280h-1ZM287 168h1V284h-1ZM288 168h1V281h-1ZM294 168h1V282h-1ZM299 168h1V280h-1ZM306 168h1V281h-1ZM330 168h1V281h-1ZM342 168h1V282h-1ZM354 168h1V282h-1ZM724 168h1V284h-1ZM779 168h1V283h-1ZM791 168h1V282h-1ZM803 168h1V282h-1ZM827 168h1V281h-1ZM831 168h1V280h-1ZM832 168h1V284h-1ZM833 168h1V282h-1ZM834 168h1V280h-1ZM835 168h1V282h-1ZM836 168h1V281h-1ZM837 168h1V281h-1ZM838 168h1V283h-1ZM839 168h1V280h-1ZM840 168h1V280h-1ZM841 168h1V280h-1ZM842 168h1V282h-1ZM843 168h1V280h-1ZM844 168h1V284h-1ZM845 168h1V281h-1ZM846 168h1V280h-1ZM847 168h1V280h-1ZM848 168h1V281h-1ZM849 168h1V280h-1ZM850 168h1V282h-1ZM851 168h1V284h-1ZM852 168h1V280h-1ZM853 168h1V280h-1ZM854 168h1V283h-1ZM855 168h1V282h-1ZM856 168h1V280h-1ZM857 168h1V280h-1ZM858 168h1V281h-1ZM859 168h1V280h-1ZM860 168h1V282h-1ZM861 168h1V282h-1ZM862 168h1V280h-1ZM863 168h1V283h-1ZM864 168h1V280h-1ZM865 168h1V282h-1ZM866 168h1V280h-1ZM867 168h1V280h-1ZM868 168h1V280h-1ZM869 168h1V281h-1ZM870 168h1V280h-1ZM871 168h1V280h-1ZM872 168h1V283h-1ZM873 168h1V280h-1ZM874 168h1V280h-1ZM875 168h1V280h-1ZM876 168h1V283h-1ZM877 168h1V281h-1ZM878 168h1V280h-1ZM879 168h1V281h-1ZM880 168h1V280h-1ZM881 168h1V281h-1ZM882 168h1V281h-1ZM883 168h1V283h-1ZM884 168h1V281h-1ZM885 168h1V282h-1ZM886 168h1V281h-1ZM887 168h1V281h-1ZM888 168h1V280h-1ZM889 168h1V281h-1ZM890 168h1V282h-1ZM891 168h1V280h-1ZM892 168h1V282h-1ZM893 168h1V280h-1ZM894 168h1V284h-1ZM895 168h1V283h-1ZM896 168h1V282h-1ZM897 168h1V280h-1ZM898 168h1V282h-1ZM899 168h1V280h-1ZM900 168h1V280h-1ZM901 168h1V284h-1ZM902 168h1V280h-1ZM903 168h1V282h-1ZM904 168h1V280h-1ZM905 168h1V281h-1ZM906 168h1V280h-1ZM907 168h1V282h-1ZM908 168h1V282h-1ZM909 168h1V281h-1ZM910 168h1V281h-1ZM911 168h1V281h-1ZM912 168h1V281h-1ZM913 168h1V281h-1ZM914 168h1V282h-1ZM915 168h1V281h-1ZM916 168h1V280h-1ZM917 168h1V282h-1ZM918 168h1V281h-1ZM919 168h1V281h-1ZM920 168h1V280h-1ZM921 168h1V280h-1ZM922 168h1V284h-1ZM923 168h1V281h-1ZM924 168h1V280h-1ZM925 168h1V280h-1ZM926 168h1V284h-1ZM927 168h1V284h-1ZM928 168h1V283h-1ZM929 168h1V282h-1ZM930 168h1V282h-1ZM931 168h1V284h-1ZM932 168h1V280h-1ZM933 168h1V282h-1ZM934 168h1V281h-1ZM935 168h1V281h-1ZM936 168h1V282h-1ZM937 168h1V281h-1ZM938 168h1V281h-1ZM939 168h1V281h-1ZM940 168h1V282h-1ZM941 168h1V281h-1ZM943 168h1V283h-1ZM948 168h1V282h-1ZM955 168h1V280h-1ZM960 168h1V280h-1ZM967 168h1V282h-1ZM972 168h1V281h-1ZM979 168h1V281h-1ZM991 168h1V284h-1ZM1003 168h1V280h-1Z"/>
<path fill="#ff66b2" d="M70 72h1V179h-1ZM71 72h1V178h-1ZM72 72h1V179h-1ZM73 72h1V180h-1ZM74 72h1V178h-1ZM75 69h1V178h-1ZM76 72h1V180h-1ZM77 72h1V182h-1ZM78 72h1V178h-1ZM79 72h1V180h-1ZM80 69h1V178h-1ZM81 72h1V180h-1ZM82 70h1V179h-1ZM83 72h1V180h-1ZM84 71h1V178h-1ZM85 71h1V179h-1ZM86 72h1V180h-1ZM87 71h1V179h-1ZM88 69h1V182h-1ZM89 68h1V180h-1ZM90 70h1V179h-1ZM91 71h1V181h-1ZM92 72h1V180h-1ZM93 67h1V179h-1ZM94 70h1V180h-1ZM95 72h1V180h-1ZM96 71h1V182h-1ZM97 72h1V179h-1ZM98 72h1V181h-1ZM99 70h1V179h-1ZM100 67h1V180h-1ZM101 72h1V182h-1ZM102 71h1V179h-1ZM103 72h1V178h-1ZM104 68h1V179h-1ZM105 70h1V178h-1ZM106 70h1V178h-1ZM107 72h1V179h-1ZM108 71h1V182h-1ZM109 72h1V181h-1ZM110 69h1V179h-1ZM111 72h1V178h-1ZM112 69h1V180h-1ZM113 72h1V182h-1ZM114 71h1V181h-1ZM115 70h1V181h-1ZM116 71h1V178h-1ZM117 71h1V178h-1ZM118 71h1V178h-1ZM119 71h1V179h-1ZM120 72h1V178h-1ZM121 70h1V180h-1ZM122 70h1V178h-1ZM123 72h1V179h-1ZM124 69h1V179h-1ZM125 69h1V178h-1ZM126 69h1V178h-1ZM127 72h1V178h-1ZM128 71h1V178h-1ZM129 72h1V178h-1ZM130 72h1V180h-1ZM131 70h1V180h-1ZM132 72h1V182h-1ZM133 69h1V178h-1ZM134 71h1V179h-1ZM135 70h1V179h-1ZM136 72h1V182h-1ZM137 68h1V179h-1ZM138 70h1V178h-1ZM139 72h1V181h-1ZM140 71h1V179h-1ZM141 72h1V178h-1ZM142 70h1V178h-1ZM143 72h1V182h-1ZM144 70h1V181h-1ZM145 71h1V180h-1ZM146 71h1V179h-1ZM147 70h1V181h-1ZM148 71h1V182h-1ZM149 69h1V181h-1ZM150 71h1V180h-1ZM151 70h1V181h-1ZM152 72h1V182h-1ZM153 67h1V179h-1ZM154 70h1V179h-1ZM155 70h1V178h-1ZM156 72h1V178h-1ZM157 71h1V179h-1ZM158 67h1V180h-1ZM159 72h1V179h-1ZM160 70h1V182h-1ZM161 72h1V182h-1ZM162 72h1V179h-1ZM163 67h1V178h-1ZM164 70h1V178h-1ZM165 68h1V179h-1ZM166 71h1V178h-1ZM167 72h1V178h-1ZM168 68h1V182h-1ZM169 72h1V180h-1ZM170 67h1V181h-1ZM171 72h1V180h-1ZM172 72h1V178h-1ZM173 72h1V180h-1ZM174 69h1V182h-1ZM175 71h1V178h-1ZM176 71h1V179h-1ZM177 71h1V182h-1ZM178 70h1V179h-1ZM179 69h1V182h-1ZM180 72h1V181h-1ZM181 68h1V181h-1ZM182 69h1V182h-1ZM183 72h1V180h-1ZM184 72h1V182h-1ZM185 71h1V180h-1ZM186 72h1V178h-1ZM187 67h1V180h-1ZM188 72h1V179h-1ZM189 67h1V182h-1ZM190 72h1V178h-1ZM191 71h1V178h-1ZM192 68h1V180h-1ZM193 72h1V179h-1ZM194 71h1V181h-1ZM195 68h1V180h-1ZM196 67h1V180h-1ZM197 71h1V180h-1ZM198 68h1V178h-1ZM199 72h1V179h-1ZM200 70h1V178h-1ZM201 71h1V179h-1ZM202 71h1V181h-1ZM204 70h1V178h-1ZM205 72h1V179h-1ZM206 72h1V179h-1ZM207 71h1V181h-1ZM208 71h1V181h-1ZM209 69h1V179h-1ZM210 71h1V179h-1ZM211 72h1V181h-1ZM212 72h1V179h-1ZM213 68h1V179h-1ZM214 69h1V179h-1ZM215 70h1V180h-1ZM216 72h1V182h-1ZM217 72h1V178h-1ZM218 71h1V178h-1ZM219 71h1V182h-1ZM220 69h1V182h-1ZM221 71h1V179h-1ZM222 67h1V181h-1ZM223 72h1V179h-1ZM224 71h1V179h-1ZM225 71h1V178h-1ZM226 72h1V182h-1ZM228 72h1V179h-1ZM229 68h1V178h-1ZM230 69h1V179h-1ZM231 72h1V178h-1ZM232 71h1V178h-1ZM233 71h1V178h-1ZM234 71h1V179h-1ZM235 70h1V180h-1ZM236 70h1V179h-1ZM237 71h1V179h-1ZM238 72h1V179h-1ZM240 71h1V180h-1ZM241 71h1V179h-1ZM242 69h1V181h-1ZM243 69h1V180h-1ZM244 71h1V178h-1ZM245 71h1V182h-1ZM246 72h1V179h-1ZM247 72h1V182h-1ZM248 72h1V178h-1ZM249 71h1V179h-1ZM250 72h1V178h-1ZM252 70h1V180h-1ZM253 70h1V178h-1ZM254 71h1V178h-1ZM255 68h1V178h-1ZM256 70h1V179h-1ZM257 70h1V178h-1ZM259 71h1V178h-1ZM260 69h1V178h-1ZM261 71h1V180h-1ZM262 71h1V178h-1ZM264 72h1V178h-1ZM265 72h1V179h-1ZM266 70h1V179h-1ZM267 71h1V178h-1ZM268 72h1V181h-1ZM269 69h1V182h-1ZM270 67h1V178h-1ZM271 72h1V178h-1ZM272 69h1V181h-1ZM273 72h1V180h-1ZM274 72h1V182h-1ZM276 72h1V178h-1ZM277 70h1V178h-1ZM278 68h1V180h-1ZM279 72h1V181h-1ZM280 71h1V179h-1ZM281 72h1V179h-1ZM283 72h1V181h-1ZM284 71h1V182h-1ZM285 71h1V178h-1ZM286 71h1V181h-1ZM288 72h1V179h-1ZM612 72h1V179h-1ZM613 70h1V179h-1ZM614 72h1V179h-1ZM615 69h1V181h-1ZM616 71h1V179h-1ZM617 67h1V179h-1ZM618 69h1V180h-1ZM619 71h1V181h-1ZM620 72h1V179h-1ZM622 71h1V178h-1ZM623 70h1V178h-1ZM624 68h1V180h-1ZM625 67h1V180h-1ZM626 70h1V180h-1ZM627 69h1V181h-1ZM628 71h1V181h-1ZM629 69h1V180h-1ZM630 70h1V181h-1ZM631 71h1V179h-1ZM632 69h1V178h-1ZM634 70h1V180h-1ZM635 72h1V178h-1ZM636 69h1V180h-1ZM637 69h1V179h-1ZM638 71h1V178h-1ZM639 71h1V179h-1ZM641 70h1V181h-1ZM642 69h1V179h-1ZM643 72h1V182h-1ZM644 70h1V182h-1ZM646 71h1V179h-1ZM647 71h1V179h-1ZM648 71h1V179h-1ZM649 70h1V179h-1ZM650 67h1V179h-1ZM651 72h1V181h-1ZM652 72h1V179h-1ZM653 72h1V178h-1ZM654 70h1V182h-1ZM655 70h1V181h-1ZM656 72h1V181h-1ZM658 70h1V179h-1ZM659 72h1V180h-1ZM660 71h1V178h-1ZM661 70h1V182h-1ZM662 71h1V179h-1ZM663 71h1V180h-1ZM665 70h1V178h-1ZM666 71h1V180h-1ZM667 68h1V181h-1ZM668 72h1V179h-1ZM669 71h1V182h-1ZM670 67h1V179h-1ZM671 72h1V179h-1ZM672 72h1V181h-1ZM673 71h1V179h-1ZM674 72h1V178h-1ZM675 68h1V181h-1ZM677 68h1V179h-1ZM678 69h1V181h-1ZM679 71h1V181h-1ZM680 72h1V178h-1ZM681 72h1V181h-1ZM682 72h1V180h-1ZM683 67h1V182h-1ZM684 72h1V178h-1ZM685 72h1V179h-1ZM686 70h1V179h-1ZM687 71h1V179h-1ZM689 72h1V182h-1ZM690 70h1V179h-1ZM691 69h1V179h-1ZM692 71h1V182h-1ZM693 70h1V178h-1ZM694 67h1V182h-1ZM695 70h1V178h-1ZM696 70h1V178h-1ZM697 72h1V182h-1ZM698 69h1V181h-1ZM699 69h1V180h-1ZM701 72h1V178h-1ZM702 71h1V182h-1ZM703 72h1V182h-1ZM704 69h1V180h-1ZM705 72h1V178h-1ZM706 68h1V181h-1ZM707 72h1V181h-1ZM708 72h1V179h-1ZM709 72h1V179h-1ZM710 70h1V180h-1ZM711 70h1V178h-1ZM712 72h1V179h-1ZM713 69h1V180h-1ZM714 72h1V179h-1ZM715 72h1V182h-1ZM716 69h1V180h-1ZM717 68h1V178h-1ZM718 69h1V180h-1ZM719 72h1V179h-1ZM720 72h1V178h-1ZM721 67h1V178h-1ZM722 72h1V179h-1ZM723 72h1V181h-1ZM724 72h1V182h-1ZM725 71h1V182h-1ZM726 72h1V179h-1ZM727 71h1V181h-1ZM728 71h1V179h-1ZM729 72h1V179h-1ZM730 72h1V179h-1ZM731 67h1V179h-1ZM732 71h1V178h-1ZM733 72h1V178h-1ZM734 72h1V179h-1ZM735 70h1V181h-1ZM736 71h1V182h-1ZM737 72h1V179h-1ZM738 68h1V179h-1ZM739 71h1V178h-1ZM740 70h1V181h-1ZM741 69h1V179h-1ZM742 68h1V179h-1ZM743 70h1V179h-1ZM744 72h1V180h-1ZM745 70h1V182h-1ZM746 72h1V182h-1ZM747 70h1V180h-1ZM748 71h1V179h-1ZM749 69h1V180h-1ZM750 68h1V179h-1ZM751 70h1V179h-1ZM752 69h1V178h-1ZM753 72h1V179h-1ZM754 72h1V179h-1ZM755 67h1V179h-1ZM756 72h1V180h-1ZM757 67h1V182h-1ZM758 71h1V182h-1ZM759 70h1V180h-1ZM760 69h1V179h-1ZM761 71h1V180h-1ZM762 69h1V179h-1ZM763 72h1V180h-1ZM764 72h1V178h-1ZM765 71h1V182h-1ZM766 70h1V179h-1ZM767 71h1V178h-1ZM768 71h1V178h-1ZM769 70h1V179h-1ZM770 70h1V179h-1ZM771 72h1V178h-1ZM772 67h1V179h-1ZM773 70h1V181h-1ZM774 72h1V178h-1ZM775 72h1V179h-1ZM776 72h1V178h-1ZM777 71h1V182h-1ZM778 67h1V180h-1ZM779 71h1V179h-1ZM780 69h1V178h-1ZM781 72h1V179h-1ZM782 70h1V178h-1ZM783 69h1V178h-1ZM784 72h1V178h-1ZM785 70h1V182h-1ZM786 67h1V182h-1ZM787 69h1V178h-1ZM788 71h1V179h-1ZM789 71h1V181h-1ZM790 69h1V178h-1ZM791 71h1V179h-1ZM792 71h1V178h-1ZM793 71h1V179h-1ZM794 72h1V182h-1ZM795 71h1V182h-1ZM796 67h1V178h-1ZM797 72h1V179h-1ZM798 71h1V181h-1ZM799 68h1V182h-1ZM800 72h1V179h-1ZM801 70h1V179h-1ZM802 72h1V179h-1ZM803 69h1V178h-1ZM804 71h1V182h-1ZM805 72h1V179h-1ZM806 72h1V178h-1ZM807 72h1V180h-1ZM808 72h1V182h-1ZM809 72h1V179h-1ZM810 72h1V179h-1ZM811 70h1V182h-1ZM812 67h1V178h-1ZM813 70h1V178h-1ZM814 71h1V181h-1ZM815 71h1V181h-1ZM816 72h1V179h-1ZM817 71h1V179h-1ZM818 71h1V178h-1ZM819 71h1V180h-1ZM820 70h1V182h-1ZM821 71h1V179h-1ZM822 70h1V179h-1ZM823 72h1V178h-1ZM824 72h1V181h-1ZM825 71h1V180h-1ZM826 70h1V178h-1ZM827 71h1V179h-1ZM828 71h1V178h-1ZM829 72h1V179h-1ZM830 69h1V178h-1ZM831 70h1V178h-1ZM832 72h1V179h-1ZM833 70h1V180h-1ZM834 68h1V178h-1ZM835 70h1V178h-1ZM836 69h1V178h-1ZM837 71h1V179h-1ZM838 71h1V178h-1ZM839 71h1V181h-1ZM840 71h1V180h-1ZM841 72h1V180h-1ZM842 71h1V178h-1ZM843 72h1V180h-1ZM844 71h1V180h-1ZM845 71h1V178h-1ZM846 69h1V182h-1ZM847 70h1V179h-1ZM848 67h1V178h-1ZM849 69h1V182h-1ZM850 72h1V182h-1ZM851 71h1V178h-1ZM852 70h1V178h-1ZM853 70h1V180h-1ZM854 72h1V179h-1ZM855 68h1V180h-1ZM856 72h1V179h-1ZM857 70h1V182h-1ZM858 72h1V179h-1ZM859 67h1V179h-1ZM860 72h1V180h-1ZM861 72h1V178h-1ZM862 72h1V178h-1ZM863 71h1V178h-1ZM864 70h1V179h-1ZM865 72h1V178h-1ZM866 71h1V179h-1ZM867 68h1V180h-1ZM868 68h1V178h-1ZM869 72h1V181h-1ZM870 72h1V179h-1ZM871 68h1V179h-1ZM872 71h1V178h-1ZM873 72h1V179h-1ZM874 71h1V182h-1ZM875 72h1V181h-1ZM877 71h1V182h-1ZM878 69h1V181h-1ZM879 72h1V179h-1ZM880 70h1V179h-1ZM881 71h1V182h-1ZM882 69h1V182h-1ZM883 70h1V182h-1ZM884 72h1V179h-1ZM885 72h1V181h-1ZM886 71h1V182h-1ZM887 72h1V179h-1ZM889 69h1V178h-1ZM890 72h1V178h-1ZM891 69h1V179h-1ZM892 72h1V182h-1ZM893 72h1V182h-1ZM894 71h1V181h-1ZM895 71h1V181h-1ZM896 72h1V180h-1ZM897 71h1V178h-1ZM898 72h1V179h-1ZM899 72h1V179h-1ZM901 71h1V178h-1ZM902 71h1V178h-1ZM903 72h1V179h-1ZM904 72h1V179h-1ZM905 70h1V179h-1ZM906 72h1V181h-1ZM907 70h1V182h-1ZM908 71h1V181h-1ZM909 71h1V180h-1ZM910 68h1V180h-1ZM911 67h1V179h-1ZM912 72h1V178h-1ZM913 71h1V178h-1ZM914 69h1V180h-1ZM915 72h1V179h-1ZM916 71h1V179h-1ZM917 70h1V179h-1ZM918 70h1V178h-1ZM919 72h1V182h-1ZM920 71h1V180h-1ZM921 70h1V179h-1ZM922 72h1V180h-1ZM923 68h1V179h-1ZM925 69h1V179h-1ZM926 70h1V178h-1ZM927 71h1V180h-1ZM928 71h1V182h-1ZM929 72h1V181h-1ZM930 71h1V182h-1ZM932 72h1V179h-1ZM933 72h1V179h-1ZM934 72h1V179h-1ZM935 72h1V179h-1ZM937 70h1V179h-1ZM938 69h1V181h-1ZM939 72h1V182h-1ZM1259 70h1V179h-1ZM1260 70h1V181h-1ZM1261 68h1V180h-1ZM1262 70h1V181h-1ZM1264 70h1V180h-1ZM1265 69h1V178h-1ZM1266 69h1V179h-1ZM1267 72h1V178h-1ZM1268 71h1V181h-1ZM1269 69h1V178h-1Z"/>
<path fill="#00ffff" d="M203 72h1V182h-1ZM227 72h1V180h-1ZM239 72h1V178h-1ZM251 69h1V182h-1ZM258 70h1V178h-1ZM263 72h1V178h-1ZM275 71h1V178h-1ZM282 72h1V181h-1ZM287 68h1V179h-1ZM289 69h1V174h-1ZM290 70h1V174h-1ZM291 71h1V173h-1ZM292 69h1V174h-1ZM293 66h1V174h-1ZM294 70h1V174h-1ZM295 66h1V173h-1ZM296 69h1V171h-1ZM297 67h1V174h-1ZM298 70h1V173h-1ZM299 66h1V174h-1ZM300 67h1V174h-1ZM301 67h1V173h-1ZM302 70h1V174h-1ZM303 71h1V174h-1ZM304 70h1V173h-1ZM305 70h1V174h-1ZM306 70h1V171h-1ZM307 68h1V174h-1ZM308 71h1V171h-1ZM309 67h1V172h-1ZM310 71h1V172h-1ZM311 68h1V173h-1ZM312 69h1V174h-1ZM313 69h1V172h-1ZM314 70h1V174h-1ZM315 70h1V173h-1ZM316 68h1V172h-1ZM317 71h1V173h-1ZM318 70h1V174h-1ZM319 71h1V174h-1ZM320 69h1V174h-1ZM321 70h1V172h-1ZM322 69h1V174h-1ZM323 68h1V174h-1ZM324 68h1V174h-1ZM325 71h1V172h-1ZM326 71h1V173h-1ZM327 71h1V174h-1ZM328 66h1V172h-1ZM329 69h1V173h-1ZM330 70h1V172h-1ZM331 70h1V173h-1ZM332 68h1V174h-1ZM333 70h1V174h-1ZM334 66h1V174h-1ZM335 69h1V171h-1ZM336 71h1V174h-1ZM337 71h1V174h-1ZM338 71h1V173h-1ZM339 69h1V173h-1ZM340 70h1V174h-1ZM341 68h1V172h-1ZM342 70h1V172h-1ZM343 69h1V174h-1ZM344 70h1V173h-1ZM345 70h1V174h-1ZM346 70h1V172h-1ZM347 67h1V172h-1ZM348 71h1V174h-1ZM349 68h1V171h-1ZM350 66h1V174h-1ZM351 68h1V171h-1ZM352 70h1V174h-1ZM353 71h1V174h-1ZM354 71h1V171h-1ZM355 71h1V174h-1ZM356 70h1V174h-1ZM357 69h1V174h-1ZM358 70h1V172h-1ZM359 71h1V174h-1ZM360 70h1V172h-1ZM361 70h1V174h-1ZM362 69h1V171h-1ZM363 69h1V174h-1ZM364 70h1V174h-1ZM365 68h1V173h-1ZM366 71h1V174h-1ZM367 68h1V174h-1ZM368 70h1V172h-1ZM369 70h1V171h-1ZM370 69h1V172h-1ZM371 68h1V174h-1ZM372 69h1V174h-1ZM373 66h1V174h-1ZM374 70h1V174h-1ZM375 70h1V173h-1ZM376 71h1V171h-1ZM377 70h1V174h-1ZM378 68h1V174h-1ZM379 71h1V172h-1ZM380 70h1V174h-1ZM381 71h1V172h-1ZM382 71h1V174h-1ZM383 67h1V173h-1ZM384 71h1V174h-1ZM385 70h1V174h-1ZM386 67h1V174h-1ZM387 68h1V173h-1ZM388 67h1V174h-1ZM389 71h1V174h-1ZM390 71h1V173h-1ZM391 71h1V174h-1ZM392 69h1V173h-1ZM393 71h1V174h-1ZM394 70h1V173h-1ZM395 67h1V174h-1ZM396 69h1V171h-1ZM397 68h1V174h-1ZM398 68h1V174h-1ZM399 71h1V171h-1ZM400 71h1V173h-1ZM401 71h1V173h-1ZM402 70h1V173h-1ZM403 71h1V173h-1ZM404 70h1V173h-1ZM405 71h1V174h-1ZM406 71h1V171h-1ZM407 68h1V173h-1ZM408 66h1V174h-1ZM409 70h1V174h-1ZM410 71h1V174h-1ZM411 69h1V171h-1ZM412 71h1V174h-1ZM413 70h1V174h-1ZM414 71h1V174h-1ZM415 69h1V174h-1ZM416 71h1V174h-1ZM417 71h1V174h-1ZM418 68h1V171h-1ZM419 70h1V174h-1ZM420 68h1V171h-1ZM421 70h1V174h-1ZM422 69h1V173h-1ZM423 70h1V173h-1ZM424 70h1V174h-1ZM425 70h1V174h-1ZM426 70h1V174h-1ZM427 70h1V173h-1ZM428 68h1V173h-1ZM429 70h1V174h-1ZM430 67h1V174h-1ZM431 71h1V171h-1ZM432 67h1V173h-1ZM434 71h1V174h-1ZM435 70h1V174h-1ZM436 70h1V171h-1ZM437 70h1V174h-1ZM438 69h1V174h-1ZM439 69h1V173h-1ZM440 71h1V174h-1ZM441 71h1V174h-1ZM442 69h1V172h-1ZM443 69h1V174h-1ZM444 69h1V174h-1ZM446 66h1V174h-1ZM447 71h1V172h-1ZM448 71h1V174h-1ZM449 70h1V172h-1ZM450 68h1V173h-1ZM451 69h1V172h-1ZM452 69h1V173h-1ZM453 68h1V174h-1ZM454 70h1V172h-1ZM455 70h1V174h-1ZM456 70h1V172h-1ZM458 69h1V171h-1ZM459 71h1V174h-1ZM460 71h1V172h-1ZM461 69h1V174h-1ZM462 69h1V173h-1ZM463 70h1V174h-1ZM465 69h1V174h-1ZM466 66h1V173h-1ZM467 68h1V174h-1ZM468 70h1V174h-1ZM469 68h1V174h-1ZM470 70h1V174h-1ZM471 68h1V174h-1ZM472 69h1V174h-1ZM473 70h1V174h-1ZM474 71h1V173h-1ZM475 68h1V171h-1ZM477 70h1V172h-1ZM478 69h1V171h-1ZM479 67h1V174h-1ZM480 71h1V171h-1ZM482 67h1V174h-1ZM483 68h1V174h-1ZM484 71h1V173h-1ZM485 69h1V174h-1ZM486 71h1V174h-1ZM487 71h1V174h-1ZM489 68h1V174h-1ZM490 71h1V174h-1ZM491 71h1V171h-1ZM492 70h1V174h-1ZM494 69h1V173h-1ZM495 71h1V173h-1ZM497 70h1V174h-1ZM876 68h1V181h-1ZM888 71h1V178h-1ZM900 70h1V179h-1ZM924 71h1V181h-1ZM931 72h1V179h-1ZM936 68h1V179h-1ZM940 68h1V171h-1ZM941 70h1V173h-1ZM942 68h1V172h-1ZM943 70h1V174h-1ZM944 69h1V174h-1ZM945 70h1V172h-1ZM946 71h1V174h-1ZM947 66h1V173h-1ZM948 69h1V172h-1ZM949 68h1V172h-1ZM950 69h1V174h-1ZM951 69h1V171h-1ZM952 71h1V174h-1ZM953 68h1V173h-1ZM954 68h1V174h-1ZM955 68h1V171h-1ZM956 67h1V173h-1ZM957 71h1V174h-1ZM958 69h1V173h-1ZM959 69h1V174h-1ZM960 69h1V173h-1ZM961 68h1V174h-1ZM962 69h1V174h-1ZM963 70h1V172h-1ZM964 71h1V174h-1ZM965 71h1V172h-1ZM966 71h1V173h-1ZM967 71h1V173h-1ZM968 71h1V174h-1ZM969 71h1V174h-1ZM970 66h1V173h-1ZM971 71h1V174h-1ZM972 71h1V174h-1ZM973 71h1V174h-1ZM974 71h1V174h-1ZM975 66h1V171h-1ZM976 68h1V174h-1ZM977 71h1V173h-1ZM978 70h1V173h-1ZM979 70h1V174h-1ZM980 71h1V174h-1ZM981 70h1V171h-1ZM982 68h1V174h-1ZM983 70h1V172h-1ZM984 71h1V171h-1ZM985 70h1V174h-1ZM986 71h1V174h-1ZM987 70h1V173h-1ZM988 67h1V173h-1ZM989 70h1V171h-1ZM990 70h1V172h-1ZM991 70h1V172h-1ZM992 68h1V171h-1ZM993 70h1V174h-1ZM994 70h1V173h-1ZM995 70h1V174h-1ZM996 68h1V173h-1ZM997 69h1V172h-1ZM998 68h1V174h-1ZM999 68h1V173h-1ZM1000 70h1V172h-1ZM1001 67h1V173h-1ZM1002 70h1V172h-1ZM1003 70h1V174h-1ZM1004 71h1V174h-1ZM1005 71h1V174h-1ZM1006 71h1V171h-1ZM1007 70h1V174h-1ZM1008 69h1V174h-1ZM1009 68h1V174h-1ZM1010 66h1V174h-1ZM1011 67h1V174h-1ZM1012 67h1V173h-1ZM1013 70h1V172h-1ZM1014 70h1V174h-1ZM1015 71h1V173h-1ZM1016 71h1V174h-1ZM1017 71h1V172h-1ZM1018 70h1V174h-1ZM1019 70h1V174h-1ZM1020 69h1V173h-1ZM1021 71h1V173h-1ZM1022 70h1V173h-1ZM1023 68h1V173h-1ZM1024 68h1V171h-1ZM1025 71h1V173h-1ZM1026 71h1V173h-1ZM1027 69h1V172h-1ZM1028 67h1V174h-1ZM1029 69h1V174h-1ZM1030 69h1V174h-1ZM1031 70h1V174h-1ZM1032 71h1V174h-1ZM1033 70h1V173h-1ZM1034 68h1V174h-1ZM1035 69h1V174h-1ZM1036 70h1V171h-1ZM1037 70h1V172h-1ZM1038 69h1V174h-1ZM1039 69h1V174h-1ZM1040 71h1V174h-1ZM1041 71h1V174h-1ZM1042 70h1V173h-1ZM1043 68h1V172h-1ZM1044 70h1V173h-1ZM1045 71h1V173h-1ZM1046 67h1V173h-1ZM1047 67h1V174h-1ZM1048 70h1V172h-1ZM1049 71h1V171h-1ZM1050 71h1V173h-1ZM1051 70h1V174h-1ZM1052 70h1V174h-1ZM1053 70h1V173h-1ZM1054 68h1V174h-1ZM1055 69h1V174h-1ZM1056 66h1V171h-1ZM1057 70h1V174h-1ZM1058 67h1V174h-1ZM1059 69h1V173h-1ZM1060 71h1V174h-1ZM1061 71h1V172h-1ZM1062 71h1V171h-1ZM1063 70h1V174h-1ZM1064 71h1V173h-1ZM1065 70h1V174h-1ZM1066 70h1V173h-1ZM1067 71h1V173h-1ZM1068 71h1V174h-1ZM1069 67h1V171h-1ZM1070 69h1V173h-1ZM1071 71h1V174h-1ZM1072 67h1V171h-1ZM1073 69h1V173h-1ZM1074 66h1V172h-1ZM1075 70h1V173h-1ZM1076 69h1V174h-1ZM1077 69h1V173h-1ZM1078 70h1V174h-1ZM1079 71h1V174h-1ZM1080 71h1V173h-1ZM1081 70h1V174h-1ZM1083 70h1V173h-1ZM1084 70h1V173h-1ZM1085 69h1V173h-1ZM1086 71h1V174h-1ZM1087 68h1V174h-1ZM1088 66h1V172h-1ZM1089 70h1V173h-1ZM1090 71h1V174h-1ZM1091 70h1V174h-1ZM1092 68h1V174h-1ZM1093 67h1V171h-1ZM1095 71h1V172h-1ZM1096 69h1V174h-1ZM1097 71h1V172h-1ZM1098 71h1V171h-1ZM1099 70h1V174h-1ZM1100 69h1V174h-1ZM1101 69h1V174h-1ZM1102 71h1V173h-1ZM1103 67h1V172h-1ZM1104 71h1V172h-1ZM1105 71h1V174h-1ZM1106 69h1V173h-1ZM1107 68h1V173h-1ZM1108 71h1V173h-1ZM1109 71h1V174h-1ZM1110 67h1V174h-1ZM1111 69h1V172h-1ZM1112 70h1V171h-1ZM1113 70h1V174h-1ZM1114 70h1V174h-1ZM1115 71h1V174h-1ZM1116 71h1V174h-1ZM1117 70h1V171h-1ZM1119 71h1V174h-1ZM1120 71h1V171h-1ZM1121 71h1V174h-1ZM1122 68h1V174h-1ZM1123 66h1V174h-1ZM1124 69h1V174h-1ZM1125 70h1V174h-1ZM1126 71h1V174h-1ZM1127 70h1V171h-1ZM1128 71h1V174h-1ZM1129 71h1V174h-1ZM1131 69h1V173h-1ZM1132 71h1V173h-1ZM1133 70h1V173h-1ZM1134 69h1V171h-1ZM1135 69h1V174h-1ZM1136 69h1V174h-1ZM1138 70h1V171h-1Z"/>
<path fill="#ffff00" d="M433 69h1V174h-1ZM445 71h1V171h-1ZM457 71h1V172h-1ZM464 68h1V171h-1ZM476 69h1V172h-1ZM481 70h1V171h-1ZM488 71h1V174h-1ZM493 69h1V173h-1ZM496 66h1V174h-1ZM498 69h1V174h-1ZM499 71h1V172h-1ZM500 71h1V173h-1ZM501 71h1V173h-1ZM502 72h1V173h-1ZM503 72h1V173h-1ZM504 69h1V173h-1ZM505 69h1V173h-1ZM506 72h1V173h-1ZM507 72h1V171h-1ZM508 71h1V174h-1ZM509 71h1V173h-1ZM510 70h1V174h-1ZM511 71h1V174h-1ZM512 69h1V172h-1ZM513 70h1V174h-1ZM514 67h1V174h-1ZM515 72h1V174h-1ZM516 72h1V173h-1ZM517 72h1V173h-1ZM518 71h1V172h-1ZM519 70h1V174h-1ZM520 70h1V171h-1ZM521 72h1V174h-1ZM522 72h1V171h-1ZM523 72h1V174h-1ZM524 71h1V172h-1ZM525 72h1V174h-1ZM526 70h1V171h-1ZM527 67h1V174h-1ZM528 72h1V174h-1ZM529 72h1V172h-1ZM530 71h1V174h-1ZM531 72h1V174h-1ZM532 71h1V174h-1ZM533 71h1V172h-1ZM534 71h1V173h-1ZM535 70h1V174h-1ZM536 72h1V172h-1ZM537 68h1V174h-1ZM538 68h1V174h-1ZM539 72h1V173h-1ZM540 72h1V174h-1ZM541 71h1V174h-1ZM542 69h1V173h-1ZM543 71h1V174h-1ZM544 72h1V174h-1ZM545 71h1V174h-1ZM546 70h1V174h-1ZM547 70h1V174h-1ZM548 67h1V171h-1ZM549 72h1V174h-1ZM550 71h1V173h-1ZM551 69h1V174h-1ZM552 71h1V174h-1ZM553 72h1V174h-1ZM554 71h1V173h-1ZM555 72h1V174h-1ZM556 72h1V174h-1ZM557 72h1V174h-1ZM558 70h1V174h-1ZM559 72h1V172h-1ZM560 71h1V174h-1ZM561 72h1V174h-1ZM562 72h1V173h-1ZM563 72h1V174h-1ZM564 71h1V173h-1ZM565 70h1V172h-1ZM566 72h1V173h-1ZM567 70h1V174h-1ZM568 70h1V171h-1ZM569 72h1V172h-1ZM570 69h1V174h-1ZM571 67h1V174h-1ZM572 71h1V174h-1ZM573 70h1V174h-1ZM574 72h1V174h-1ZM575 72h1V174h-1ZM576 67h1V174h-1ZM577 71h1V171h-1ZM578 70h1V173h-1ZM579 71h1V173h-1ZM580 71h1V171h-1ZM581 72h1V174h-1ZM582 72h1V173h-1ZM583 72h1V172h-1ZM584 72h1V172h-1ZM585 72h1V173h-1ZM586 70h1V173h-1ZM587 71h1V172h-1ZM588 71h1V171h-1ZM589 72h1V173h-1ZM590 70h1V174h-1ZM591 70h1V174h-1ZM592 68h1V173h-1ZM593 71h1V174h-1ZM594 68h1V174h-1ZM595 71h1V173h-1ZM596 72h1V174h-1ZM597 70h1V173h-1ZM598 71h1V173h-1ZM599 71h1V174h-1ZM600 72h1V174h-1ZM601 72h1V174h-1ZM602 70h1V172h-1ZM603 71h1V174h-1ZM604 72h1V173h-1ZM605 69h1V171h-1ZM606 72h1V172h-1ZM607 71h1V173h-1ZM608 72h1V174h-1ZM609 69h1V174h-1ZM610 69h1V172h-1ZM611 71h1V174h-1ZM621 72h1V178h-1ZM633 72h1V179h-1ZM640 71h1V182h-1ZM645 71h1V181h-1ZM657 71h1V178h-1ZM664 72h1V181h-1ZM676 67h1V181h-1ZM688 70h1V179h-1ZM700 72h1V179h-1ZM1082 69h1V173h-1ZM1094 70h1V173h-1ZM1118 67h1V174h-1ZM1130 71h1V173h-1ZM1137 70h1V173h-1ZM1139 67h1V174h-1ZM1140 66h1V174h-1ZM1141 71h1V174h-1ZM1142 70h1V172h-1ZM1143 71h1V173h-1ZM1144 72h1V174h-1ZM1145 72h1V171h-1ZM1146 67h1V174h-1ZM1147 72h1V174h-1ZM1148 69h1V171h-1ZM1149 68h1V172h-1ZM1150 72h1V173h-1ZM1151 71h1V173h-1ZM1152 72h1V174h-1ZM1153 70h1V171h-1ZM1154 68h1V172h-1ZM1155 70h1V174h-1ZM1156 67h1V173h-1ZM1157 72h1V174h-1ZM1158 72h1V174h-1ZM1159 72h1V173h-1ZM1160 71h1V174h-1ZM1161 71h1V173h-1ZM1162 72h1V174h-1ZM1163 72h1V174h-1ZM1164 72h1V173h-1ZM1165 71h1V174h-1ZM1166 72h1V173h-1ZM1167 70h1V174h-1ZM1168 69h1V173h-1ZM1169 70h1V173h-1ZM1170 70h1V174h-1ZM1171 70h1V174h-1ZM1172 71h1V174h-1ZM1173 68h1V172h-1ZM1174 69h1V173h-1ZM1175 72h1V174h-1ZM1176 70h1V173h-1ZM1177 70h1V174h-1ZM1178 72h1V174h-1ZM1179 70h1V171h-1ZM1180 69h1V174h-1ZM1181 70h1V174h-1ZM1182 71h1V174h-1ZM1183 71h1V174h-1ZM1184 71h1V174h-1ZM1185 68h1V174h-1ZM1186 70h1V174h-1ZM1187 71h1V174h-1ZM1188 72h1V174h-1ZM1189 70h1V174h-1ZM1190 71h1V173h-1ZM1191 72h1V173h-1ZM1192 71h1V173h-1ZM1193 72h1V171h-1ZM1194 70h1V174h-1ZM1195 69h1V174h-1ZM1196 70h1V171h-1ZM1197 69h1V173h-1ZM1198 72h1V174h-1ZM1199 70h1V174h-1ZM1200 70h1V174h-1ZM1201 72h1V174h-1ZM1202 72h1V174h-1ZM1203 70h1V172h-1ZM1204 72h1V173h-1ZM1205 71h1V171h-1ZM1206 70h1V171h-1ZM1207 71h1V173h-1ZM1208 71h1V174h-1ZM1209 72h1V171h-1ZM1210 70h1V174h-1ZM1211 71h1V172h-1ZM1212 72h1V174h-1ZM1213 72h1V174h-1ZM1214 71h1V173h-1ZM1215 70h1V174h-1ZM1216 71h1V174h-1ZM1217 71h1V171h-1ZM1218 71h1V173h-1ZM1219 68h1V174h-1ZM1220 72h1V174h-1ZM1221 72h1V174h-1ZM1222 69h1V173h-1ZM1223 71h1V172h-1ZM1224 69h1V174h-1ZM1225 71h1V174h-1ZM1226 69h1V174h-1ZM1227 70h1V174h-1ZM1228 69h1V173h-1ZM1229 67h1V174h-1ZM1230 71h1V171h-1ZM1231 72h1V173h-1ZM1232 72h1V173h-1ZM1233 67h1V174h-1ZM1234 70h1V171h-1ZM1235 72h1V174h-1ZM1236 72h1V171h-1ZM1237 69h1V174h-1ZM1238 72h1V174h-1ZM1239 72h1V174h-1ZM1240 72h1V173h-1ZM1241 71h1V171h-1ZM1242 69h1V174h-1ZM1243 70h1V172h-1ZM1244 72h1V174h-1ZM1245 72h1V174h-1ZM1246 71h1V172h-1ZM1247 72h1V174h-1ZM1248 72h1V174h-1ZM1249 67h1V174h-1ZM1250 69h1V174h-1ZM1251 71h1V174h-1ZM1252 72h1V173h-1ZM1253 72h1V173h-1ZM1254 71h1V174h-1ZM1255 71h1V174h-1ZM1256 71h1V174h-1ZM1257 71h1V180h-1ZM1258 69h1V182h-1ZM1263 71h1V179h-1Z"/>
<path fill="#000" d="M118 68h1V172h-1Z M118 179h1V285h-1ZM221 68h1V172h-1Z M221 179h1V285h-1ZM318 68h1V172h-1Z M318 179h1V285h-1ZM409 68h1V172h-1Z M409 179h1V285h-1ZM415 68h1V172h-1Z M415 179h1V285h-1ZM421 68h1V172h-1Z M421 179h1V285h-1ZM512 68h1V172h-1Z M512 179h1V285h-1ZM518 68h1V172h-1Z M518 179h1V285h-1ZM609 68h1V172h-1Z M609 179h1V285h-1ZM615 68h1V172h-1Z M615 179h1V285h-1ZM712 68h1V172h-1Z M712 179h1V285h-1ZM718 68h1V172h-1Z M718 179h1V285h-1ZM809 68h1V172h-1Z M809 179h1V285h-1ZM815 68h1V172h-1Z M815 179h1V285h-1ZM912 68h1V172h-1Z M912 179h1V285h-1ZM1009 68h1V172h-1Z M1009 179h1V285h-1ZM1015 68h1V172h-1Z M1015 179h1V285h-1ZM1106 68h1V172h-1Z M1106 179h1V285h-1ZM1112 68h1V172h-1Z M1112 179h1V285h-1ZM1209 68h1V172h-1Z M1209 179h1V285h-1ZM215 68h1V125h-1Z M215 225h1V285h-1ZM312 68h1V125h-1Z M312 229h1V285h-1ZM506 68h1V128h-1Z M506 227h1V285h-1ZM706 68h1V125h-1Z M706 225h1V285h-1ZM906 68h1V124h-1Z M906 227h1V285h-1ZM1203 68h1V143h-1Z M1203 198h1V285h-1ZM524 68h1V125h-1ZM918 224h1V285h-1Z"/>
<path d="M190.5 348V620M310.5 348V620M430.5 348V620M550.5 348V620M790.5 348V620M910.5 348V620M1030.5 348V620M1150.5 348V620M72 380.5H1269M72 415.5H1269M72 449.5H1269M72 518.5H1269M72 552.5H1269M72 587.5H1269" stroke="#7a7a7a" stroke-width="1" stroke-dasharray="1 1" fill="none"/>
<path d="M94 398h1v1h-1ZM118 398h1v1h-1ZM142 398h1v1h-1ZM166 398h1v1h-1ZM190 398h1v1h-1ZM214 398h1v1h-1ZM238 398h1v1h-1ZM262 398h1v1h-1ZM286 398h1v1h-1ZM310 398h1v1h-1ZM334 398h1v1h-1ZM358 398h1v1h-1ZM382 398h1v1h-1ZM406 398h1v1h-1ZM430 398h1v1h-1ZM454 398h1v1h-1ZM478 398h1v1h-1ZM502 398h1v1h-1ZM526 398h1v1h-1ZM550 398h1v1h-1ZM574 398h1v1h-1ZM598 398h1v1h-1ZM622 398h1v1h-1ZM646 398h1v1h-1ZM670 398h1v1h-1ZM694 398h1v1h-1ZM718 398h1v1h-1ZM742 398h1v1h-1ZM766 398h1v1h-1ZM790 398h1v1h-1ZM814 398h1v1h-1ZM838 398h1v1h-1ZM862 398h1v1h-1ZM886 398h1v1h-1ZM910 398h1v1h-1ZM934 398h1v1h-1ZM958 398h1v1h-1ZM982 398h1v1h-1ZM1006 398h1v1h-1ZM1030 398h1v1h-1ZM1054 398h1v1h-1ZM1078 398h1v1h-1ZM1102 398h1v1h-1ZM1126 398h1v1h-1ZM1150 398h1v1h-1ZM1174 398h1v1h-1ZM1198 398h1v1h-1ZM1222 398h1v1h-1ZM1246 398h1v1h-1ZM94 569h1v1h-1ZM118 569h1v1h-1ZM142 569h1v1h-1ZM166 569h1v1h-1ZM190 569h1v1h-1ZM214 569h1v1h-1ZM238 569h1v1h-1ZM262 569h1v1h-1ZM286 569h1v1h-1ZM310 569h1v1h-1ZM334 569h1v1h-1ZM358 569h1v1h-1ZM382 569h1v1h-1ZM406 569h1v1h-1ZM430 569h1v1h-1ZM454 569h1v1h-1ZM478 569h1v1h-1ZM502 569h1v1h-1ZM526 569h1v1h-1ZM550 569h1v1h-1ZM574 569h1v1h-1ZM598 569h1v1h-1ZM622 569h1v1h-1ZM646 569h1v1h-1ZM670 569h1v1h-1ZM694 569h1v1h-1ZM718 569h1v1h-1ZM742 569h1v1h-1ZM766 569h1v1h-1ZM790 569h1v1h-1ZM814 569h1v1h-1ZM838 569h1v1h-1ZM862 569h1v1h-1ZM886 569h1v1h-1ZM910 569h1v1h-1ZM934 569h1v1h-1ZM958 569h1v1h-1ZM982 569h1v1h-1ZM1006 569h1v1h-1ZM1030 569h1v1h-1ZM1054 569h1v1h-1ZM1078 569h1v1h-1ZM1102 569h1v1h-1ZM1126 569h1v1h-1ZM1150 569h1v1h-1ZM1174 569h1v1h-1ZM1198 569h1v1h-1ZM1222 569h1v1h-1ZM1246 569h1v1h-1Z" fill="#6a6a6a"/>
<path d="M670 346h1V620h-1ZM70 484H1269v1H70ZM668 353h5v1h-5ZM668 360h5v1h-5ZM668 367h5v1h-5ZM668 374h5v1h-5ZM668 380h5v1h-5ZM668 387h5v1h-5ZM668 394h5v1h-5ZM668 401h5v1h-5ZM668 408h5v1h-5ZM668 415h5v1h-5ZM668 422h5v1h-5ZM668 429h5v1h-5ZM668 435h5v1h-5ZM668 442h5v1h-5ZM668 449h5v1h-5ZM668 456h5v1h-5ZM668 463h5v1h-5ZM668 470h5v1h-5ZM668 477h5v1h-5ZM668 484h5v1h-5ZM668 490h5v1h-5ZM668 497h5v1h-5ZM668 504h5v1h-5ZM668 511h5v1h-5ZM668 518h5v1h-5ZM668 525h5v1h-5ZM668 532h5v1h-5ZM668 539h5v1h-5ZM668 545h5v1h-5ZM668 552h5v1h-5ZM668 559h5v1h-5ZM668 566h5v1h-5ZM668 573h5v1h-5ZM668 580h5v1h-5ZM668 587h5v1h-5ZM668 594h5v1h-5ZM668 600h5v1h-5ZM668 607h5v1h-5ZM668 614h5v1h-5ZM94 482h1v5h-1ZM118 482h1v5h-1ZM142 482h1v5h-1ZM166 482h1v5h-1ZM190 482h1v5h-1ZM214 482h1v5h-1ZM238 482h1v5h-1ZM262 482h1v5h-1ZM286 482h1v5h-1ZM310 482h1v5h-1ZM334 482h1v5h-1ZM358 482h1v5h-1ZM382 482h1v5h-1ZM406 482h1v5h-1ZM430 482h1v5h-1ZM454 482h1v5h-1ZM478 482h1v5h-1ZM502 482h1v5h-1ZM526 482h1v5h-1ZM550 482h1v5h-1ZM574 482h1v5h-1ZM598 482h1v5h-1ZM622 482h1v5h-1ZM646 482h1v5h-1ZM670 482h1v5h-1ZM694 482h1v5h-1ZM718 482h1v5h-1ZM742 482h1v5h-1ZM766 482h1v5h-1ZM790 482h1v5h-1ZM814 482h1v5h-1ZM838 482h1v5h-1ZM862 482h1v5h-1ZM886 482h1v5h-1ZM910 482h1v5h-1ZM934 482h1v5h-1ZM958 482h1v5h-1ZM982 482h1v5h-1ZM1006 482h1v5h-1ZM1030 482h1v5h-1ZM1054 482h1v5h-1ZM1078 482h1v5h-1ZM1102 482h1v5h-1ZM1126 482h1v5h-1ZM1150 482h1v5h-1ZM1174 482h1v5h-1ZM1198 482h1v5h-1ZM1222 482h1v5h-1ZM1246 482h1v5h-1Z" fill="#6e6e6e"/>
<rect x="70.5" y="346.5" width="1199" height="274" fill="none" stroke="#808080" stroke-width="1"/>
<path fill="#00c000" d="M70 401.8h1V412.6h-1ZM71 402.3h1V416.1h-1ZM72 402.5h1V415.9h-1ZM73 399.5h1V413.5h-1ZM74 403.3h1V414.7h-1ZM75 402.9h1V414.4h-1ZM76 402.7h1V418.2h-1ZM77 404.9h1V416.0h-1ZM78 405.6h1V416.0h-1ZM79 405.6h1V417.0h-1ZM80 407.0h1V416.7h-1ZM81 407.3h1V417.5h-1ZM82 407.3h1V420.2h-1ZM83 408.3h1V418.5h-1ZM84 405.5h1V418.8h-1ZM85 406.9h1V419.9h-1ZM86 407.7h1V421.7h-1ZM87 410.8h1V420.7h-1ZM88 407.5h1V424.6h-1ZM89 409.0h1V424.1h-1ZM90 412.0h1V423.0h-1ZM91 410.4h1V423.3h-1ZM92 409.4h1V426.0h-1ZM93 414.7h1V424.0h-1ZM94 412.0h1V425.3h-1ZM95 416.0h1V425.9h-1ZM96 416.3h1V428.5h-1ZM97 417.1h1V427.0h-1ZM98 417.8h1V432.4h-1ZM99 419.0h1V428.4h-1ZM100 415.6h1V429.9h-1ZM101 420.4h1V430.2h-1ZM102 418.0h1V433.3h-1ZM103 422.0h1V431.7h-1ZM104 423.6h1V435.0h-1ZM105 424.7h1V436.1h-1ZM106 425.4h1V434.9h-1ZM107 425.7h1V435.3h-1ZM108 425.2h1V440.2h-1ZM109 427.1h1V440.2h-1ZM110 428.2h1V438.3h-1ZM111 426.3h1V439.0h-1ZM112 430.0h1V439.9h-1ZM113 430.9h1V440.6h-1ZM114 431.6h1V441.1h-1ZM115 433.0h1V441.9h-1ZM116 430.4h1V443.1h-1ZM117 434.7h1V443.5h-1ZM118 435.0h1V447.9h-1ZM119 433.1h1V444.7h-1ZM120 437.1h1V446.4h-1ZM121 438.6h1V446.9h-1ZM122 436.9h1V447.6h-1ZM123 439.2h1V448.5h-1ZM124 437.8h1V449.6h-1ZM125 441.5h1V449.6h-1ZM126 439.4h1V451.1h-1ZM127 442.6h1V451.1h-1ZM128 444.3h1V455.0h-1ZM129 444.9h1V453.6h-1ZM130 445.8h1V455.5h-1ZM131 447.2h1V454.9h-1ZM132 447.2h1V457.5h-1ZM133 449.1h1V456.3h-1ZM134 447.9h1V457.4h-1ZM135 450.2h1V458.9h-1ZM136 451.7h1V458.9h-1ZM137 449.5h1V459.8h-1ZM138 453.5h1V461.2h-1ZM139 454.1h1V462.4h-1ZM140 455.9h1V463.3h-1ZM141 453.7h1V464.6h-1ZM142 457.5h1V465.5h-1ZM143 458.8h1V465.8h-1ZM144 459.5h1V467.6h-1ZM145 457.1h1V469.1h-1ZM146 462.1h1V470.2h-1ZM147 463.9h1V473.6h-1ZM148 464.7h1V471.5h-1ZM149 466.9h1V473.0h-1ZM150 467.3h1V476.5h-1ZM151 468.7h1V476.1h-1ZM152 470.3h1V476.6h-1ZM153 471.6h1V478.7h-1ZM154 473.0h1V479.7h-1ZM155 474.4h1V481.3h-1ZM156 471.6h1V482.1h-1ZM157 477.2h1V483.3h-1ZM158 478.7h1V484.4h-1ZM159 478.9h1V485.6h-1ZM160 481.0h1V486.6h-1ZM161 481.1h1V487.8h-1ZM162 480.0h1V489.5h-1ZM163 484.0h1V493.4h-1ZM164 485.3h1V490.8h-1ZM165 483.9h1V492.3h-1ZM166 486.9h1V497.3h-1ZM167 485.2h1V494.5h-1ZM168 489.3h1V495.9h-1ZM169 490.7h1V500.4h-1ZM170 491.4h1V498.4h-1ZM171 492.8h1V499.8h-1ZM172 493.8h1V501.1h-1ZM173 490.3h1V501.3h-1ZM174 495.5h1V502.4h-1ZM175 496.9h1V503.6h-1ZM176 497.6h1V507.1h-1ZM177 498.4h1V505.8h-1ZM178 499.6h1V507.6h-1ZM179 499.4h1V510.0h-1ZM180 502.0h1V509.1h-1ZM181 501.0h1V511.2h-1ZM182 504.5h1V516.0h-1ZM183 504.7h1V512.7h-1ZM184 506.1h1V513.2h-1ZM185 506.6h1V517.6h-1ZM186 508.1h1V517.8h-1ZM187 509.5h1V517.3h-1ZM188 509.4h1V517.8h-1ZM189 510.8h1V519.2h-1ZM190 511.2h1V520.2h-1ZM191 512.7h1V521.3h-1ZM192 513.2h1V521.6h-1ZM193 514.9h1V522.6h-1ZM194 512.7h1V523.7h-1ZM195 515.4h1V524.2h-1ZM196 516.7h1V525.1h-1ZM197 517.3h1V526.3h-1ZM198 518.8h1V527.1h-1ZM199 519.1h1V529.6h-1ZM200 520.2h1V528.8h-1ZM201 520.4h1V529.2h-1ZM202 520.9h1V529.3h-1ZM203 521.5h1V534.8h-1ZM204 519.7h1V534.2h-1ZM205 523.7h1V531.9h-1ZM206 523.7h1V532.5h-1ZM207 524.4h1V533.7h-1ZM208 525.8h1V533.6h-1ZM209 522.2h1V535.3h-1ZM210 527.1h1V536.1h-1ZM211 523.1h1V536.3h-1ZM212 528.2h1V537.5h-1ZM213 528.6h1V538.1h-1ZM214 529.7h1V538.4h-1ZM215 528.4h1V538.8h-1ZM216 530.5h1V539.7h-1ZM217 531.6h1V540.8h-1ZM218 531.7h1V541.3h-1ZM219 528.9h1V542.5h-1ZM220 534.0h1V543.3h-1ZM221 534.3h1V543.6h-1ZM222 534.6h1V545.2h-1ZM223 534.4h1V545.5h-1ZM224 537.2h1V545.9h-1ZM225 534.1h1V547.4h-1ZM226 538.3h1V550.5h-1ZM227 538.6h1V550.6h-1ZM228 539.6h1V549.3h-1ZM229 540.8h1V550.3h-1ZM230 540.7h1V551.3h-1ZM231 541.5h1V551.8h-1ZM232 538.7h1V554.4h-1ZM233 543.5h1V553.3h-1ZM234 544.7h1V557.7h-1ZM235 542.6h1V555.3h-1ZM236 546.0h1V556.1h-1ZM237 546.7h1V556.6h-1ZM238 546.4h1V557.2h-1ZM239 547.8h1V557.8h-1ZM240 547.8h1V558.5h-1ZM241 549.0h1V559.2h-1ZM242 546.4h1V560.0h-1ZM243 550.0h1V564.3h-1ZM244 551.0h1V564.2h-1ZM245 551.2h1V562.1h-1ZM246 552.4h1V562.8h-1ZM247 550.8h1V563.6h-1ZM248 549.7h1V567.3h-1ZM249 553.9h1V564.6h-1ZM250 553.8h1V564.7h-1ZM251 554.5h1V565.5h-1ZM252 555.0h1V565.9h-1ZM253 555.5h1V567.0h-1ZM254 555.8h1V567.3h-1ZM255 556.5h1V567.6h-1ZM256 557.7h1V568.8h-1ZM257 558.2h1V571.5h-1ZM258 557.7h1V571.6h-1ZM259 555.4h1V569.5h-1ZM260 556.5h1V570.9h-1ZM261 558.0h1V572.9h-1ZM262 560.0h1V571.0h-1ZM263 558.5h1V575.6h-1ZM264 561.1h1V572.4h-1ZM265 561.2h1V572.7h-1ZM266 561.6h1V573.0h-1ZM267 558.3h1V573.7h-1ZM268 563.0h1V574.9h-1ZM269 563.8h1V577.6h-1ZM270 563.6h1V575.4h-1ZM271 562.5h1V575.5h-1ZM272 564.8h1V576.9h-1ZM273 565.2h1V580.4h-1ZM274 561.9h1V577.6h-1ZM275 563.9h1V577.2h-1ZM276 566.6h1V578.2h-1ZM277 567.2h1V578.5h-1ZM278 567.9h1V578.6h-1ZM279 567.8h1V583.3h-1ZM280 568.4h1V582.2h-1ZM281 568.3h1V580.5h-1ZM282 566.4h1V581.2h-1ZM283 569.1h1V583.6h-1ZM284 570.0h1V581.3h-1ZM285 565.6h1V581.4h-1ZM286 570.6h1V582.1h-1ZM287 570.8h1V582.6h-1ZM288 571.3h1V582.5h-1ZM289 571.1h1V582.8h-1ZM290 571.9h1V585.0h-1ZM291 571.4h1V586.2h-1ZM292 571.8h1V585.9h-1ZM293 570.4h1V583.5h-1ZM294 572.4h1V584.4h-1ZM295 572.2h1V584.3h-1ZM296 573.3h1V584.9h-1ZM297 572.6h1V585.0h-1ZM298 570.7h1V585.2h-1ZM299 570.7h1V585.5h-1ZM300 573.2h1V589.0h-1ZM301 573.4h1V585.4h-1ZM302 570.1h1V585.6h-1ZM303 573.3h1V589.9h-1ZM304 574.2h1V587.9h-1ZM305 573.6h1V586.4h-1ZM306 574.0h1V590.2h-1ZM307 569.9h1V586.1h-1ZM308 574.3h1V586.6h-1ZM309 574.0h1V589.9h-1ZM310 573.6h1V586.2h-1ZM311 574.5h1V585.6h-1ZM312 572.2h1V586.6h-1ZM313 574.3h1V586.4h-1ZM314 574.0h1V585.5h-1ZM315 571.2h1V588.6h-1ZM316 574.4h1V585.7h-1ZM317 574.1h1V585.3h-1ZM318 574.3h1V585.9h-1ZM319 573.9h1V586.0h-1ZM320 573.3h1V586.2h-1ZM321 573.1h1V585.4h-1ZM322 572.9h1V585.4h-1ZM323 572.8h1V584.7h-1ZM324 572.6h1V585.2h-1ZM325 573.2h1V584.4h-1ZM326 570.0h1V584.6h-1ZM327 569.1h1V584.2h-1ZM328 572.5h1V583.8h-1ZM329 571.6h1V584.5h-1ZM330 571.6h1V584.1h-1ZM331 571.3h1V587.4h-1ZM332 568.5h1V582.7h-1ZM333 571.5h1V582.6h-1ZM334 570.6h1V582.6h-1ZM335 571.3h1V586.6h-1ZM336 570.5h1V582.8h-1ZM337 570.5h1V582.5h-1ZM338 570.3h1V581.5h-1ZM339 570.0h1V581.9h-1ZM340 566.0h1V585.0h-1ZM341 567.3h1V580.5h-1ZM342 568.2h1V579.9h-1ZM343 567.8h1V579.5h-1ZM344 568.2h1V579.2h-1ZM345 565.5h1V579.6h-1ZM346 567.1h1V578.9h-1ZM347 567.1h1V578.6h-1ZM348 566.3h1V582.3h-1ZM349 566.0h1V577.0h-1ZM350 565.9h1V577.5h-1ZM351 563.0h1V576.4h-1ZM352 564.7h1V580.3h-1ZM353 564.9h1V576.1h-1ZM354 563.4h1V574.9h-1ZM355 563.3h1V575.0h-1ZM356 563.0h1V574.7h-1ZM357 562.5h1V573.4h-1ZM358 562.5h1V573.0h-1ZM359 561.3h1V573.2h-1ZM360 561.2h1V572.4h-1ZM361 561.2h1V572.1h-1ZM362 559.7h1V573.2h-1ZM363 556.8h1V570.7h-1ZM364 558.9h1V574.4h-1ZM365 558.7h1V569.5h-1ZM366 555.9h1V571.6h-1ZM367 557.7h1V568.8h-1ZM368 553.4h1V570.4h-1ZM369 553.3h1V568.0h-1ZM370 553.6h1V566.8h-1ZM371 556.3h1V566.9h-1ZM372 555.6h1V566.3h-1ZM373 552.5h1V565.0h-1ZM374 554.3h1V564.4h-1ZM375 549.2h1V564.6h-1ZM376 553.3h1V563.4h-1ZM377 551.9h1V562.9h-1ZM378 551.8h1V565.1h-1ZM379 551.9h1V562.2h-1ZM380 550.7h1V561.3h-1ZM381 549.8h1V561.1h-1ZM382 547.2h1V563.2h-1ZM383 547.1h1V562.4h-1ZM384 548.6h1V559.2h-1ZM385 548.3h1V557.8h-1ZM386 547.6h1V557.2h-1ZM387 544.7h1V557.7h-1ZM388 546.6h1V556.2h-1ZM389 545.9h1V556.2h-1ZM390 545.8h1V555.3h-1ZM391 540.6h1V555.1h-1ZM392 544.6h1V553.9h-1ZM393 541.7h1V553.1h-1ZM394 543.1h1V552.7h-1ZM395 542.8h1V552.8h-1ZM396 540.0h1V552.3h-1ZM397 541.6h1V551.1h-1ZM398 541.2h1V552.5h-1ZM399 537.2h1V550.8h-1ZM400 540.2h1V550.4h-1ZM401 536.0h1V549.9h-1ZM402 539.3h1V548.3h-1ZM403 538.5h1V550.8h-1ZM404 537.9h1V547.2h-1ZM405 537.4h1V550.5h-1ZM406 537.3h1V546.4h-1ZM407 533.1h1V546.0h-1ZM408 536.3h1V545.1h-1ZM409 532.5h1V547.6h-1ZM410 534.5h1V543.7h-1ZM411 531.4h1V543.5h-1ZM412 533.0h1V545.5h-1ZM413 532.0h1V542.1h-1ZM414 531.6h1V541.4h-1ZM415 531.3h1V540.9h-1ZM416 530.6h1V539.2h-1ZM417 526.8h1V538.8h-1ZM418 529.4h1V540.3h-1ZM419 528.5h1V540.4h-1ZM420 527.7h1V536.7h-1ZM421 526.4h1V536.0h-1ZM422 525.9h1V535.2h-1ZM423 524.6h1V534.1h-1ZM424 523.6h1V536.2h-1ZM425 523.1h1V531.7h-1ZM426 522.2h1V530.8h-1ZM427 521.8h1V529.7h-1ZM428 518.9h1V532.7h-1ZM429 516.8h1V528.2h-1ZM430 514.6h1V526.7h-1ZM431 517.7h1V526.1h-1ZM432 517.1h1V525.0h-1ZM433 515.5h1V524.6h-1ZM434 514.9h1V523.3h-1ZM435 513.5h1V524.7h-1ZM436 513.2h1V522.6h-1ZM437 511.4h1V519.7h-1ZM438 511.1h1V518.9h-1ZM439 509.4h1V521.6h-1ZM440 507.5h1V517.3h-1ZM441 508.5h1V515.4h-1ZM442 507.1h1V514.7h-1ZM443 505.6h1V513.7h-1ZM444 504.7h1V512.6h-1ZM445 503.9h1V511.2h-1ZM446 501.2h1V510.2h-1ZM447 502.3h1V508.8h-1ZM448 501.2h1V507.9h-1ZM449 499.7h1V506.8h-1ZM450 497.0h1V505.7h-1ZM451 495.5h1V505.3h-1ZM452 492.4h1V503.4h-1ZM453 495.4h1V505.4h-1ZM454 494.0h1V501.7h-1ZM455 492.4h1V500.4h-1ZM456 492.3h1V500.8h-1ZM457 489.2h1V498.0h-1ZM458 489.7h1V498.6h-1ZM459 489.2h1V495.7h-1ZM460 487.3h1V494.6h-1ZM461 486.2h1V492.6h-1ZM462 485.6h1V491.7h-1ZM463 485.0h1V490.5h-1ZM464 483.5h1V490.1h-1ZM465 482.2h1V488.4h-1ZM466 481.6h1V490.0h-1ZM467 480.7h1V486.6h-1ZM468 479.7h1V487.4h-1ZM469 478.3h1V487.5h-1ZM470 477.4h1V484.2h-1ZM471 472.1h1V482.9h-1ZM472 470.8h1V482.2h-1ZM473 471.5h1V480.3h-1ZM474 472.9h1V479.5h-1ZM475 469.6h1V478.4h-1ZM476 471.2h1V477.5h-1ZM477 469.6h1V477.1h-1ZM478 469.0h1V479.9h-1ZM479 468.2h1V474.9h-1ZM480 467.5h1V474.2h-1ZM481 466.7h1V473.1h-1ZM482 465.1h1V471.9h-1ZM483 463.6h1V471.1h-1ZM484 462.7h1V470.9h-1ZM485 457.9h1V469.3h-1ZM486 461.2h1V469.1h-1ZM487 460.4h1V467.3h-1ZM488 459.3h1V467.3h-1ZM489 458.5h1V465.7h-1ZM490 457.5h1V468.3h-1ZM491 456.8h1V464.7h-1ZM492 455.6h1V464.0h-1ZM493 455.4h1V462.2h-1ZM494 451.7h1V462.2h-1ZM495 451.3h1V461.5h-1ZM496 451.9h1V464.6h-1ZM497 448.3h1V459.7h-1ZM498 447.3h1V458.1h-1ZM499 450.1h1V457.6h-1ZM500 448.8h1V458.8h-1ZM501 448.3h1V458.0h-1ZM502 447.3h1V455.2h-1ZM503 446.4h1V454.6h-1ZM504 445.9h1V457.3h-1ZM505 444.6h1V453.2h-1ZM506 443.6h1V452.7h-1ZM507 443.3h1V452.2h-1ZM508 442.2h1V450.9h-1ZM509 441.9h1V450.4h-1ZM510 441.5h1V449.2h-1ZM511 439.7h1V449.0h-1ZM512 439.7h1V447.6h-1ZM513 438.9h1V447.1h-1ZM514 437.4h1V446.6h-1ZM515 432.9h1V448.2h-1ZM516 436.0h1V444.8h-1ZM517 434.9h1V447.5h-1ZM518 434.8h1V443.3h-1ZM519 433.7h1V443.3h-1ZM520 433.2h1V442.2h-1ZM521 431.6h1V444.0h-1ZM522 431.3h1V444.9h-1ZM523 428.1h1V442.3h-1ZM524 430.4h1V442.4h-1ZM525 428.8h1V438.6h-1ZM526 428.0h1V440.3h-1ZM527 423.5h1V437.3h-1ZM528 424.3h1V436.1h-1ZM529 422.2h1V435.3h-1ZM530 422.1h1V436.3h-1ZM531 424.7h1V433.6h-1ZM532 424.2h1V435.9h-1ZM533 422.9h1V432.0h-1ZM534 422.5h1V431.7h-1ZM535 421.2h1V431.6h-1ZM536 421.2h1V434.2h-1ZM537 419.6h1V432.6h-1ZM538 417.4h1V429.5h-1ZM539 418.0h1V430.9h-1ZM540 415.5h1V431.7h-1ZM541 417.0h1V427.3h-1ZM542 416.2h1V426.7h-1ZM543 415.8h1V425.2h-1ZM544 414.9h1V424.7h-1ZM545 414.2h1V428.1h-1ZM546 410.4h1V423.4h-1ZM547 413.2h1V422.6h-1ZM548 412.3h1V422.2h-1ZM549 408.7h1V420.9h-1ZM550 410.0h1V421.0h-1ZM551 410.1h1V420.3h-1ZM552 409.2h1V419.9h-1ZM553 406.9h1V418.7h-1ZM554 408.0h1V418.2h-1ZM555 407.0h1V422.0h-1ZM556 406.7h1V417.4h-1ZM557 405.7h1V420.1h-1ZM558 402.0h1V416.3h-1ZM559 405.2h1V415.5h-1ZM560 404.5h1V414.5h-1ZM561 402.7h1V413.5h-1ZM562 402.8h1V413.3h-1ZM563 402.2h1V415.2h-1ZM564 402.0h1V416.2h-1ZM565 400.8h1V413.5h-1ZM566 399.7h1V411.7h-1ZM567 397.0h1V411.0h-1ZM568 395.1h1V409.5h-1ZM569 398.7h1V410.0h-1ZM570 397.7h1V409.3h-1ZM571 393.7h1V411.6h-1ZM572 394.4h1V410.3h-1ZM573 396.2h1V407.4h-1ZM574 395.8h1V406.8h-1ZM575 395.3h1V406.0h-1ZM576 394.3h1V405.5h-1ZM577 390.2h1V405.5h-1ZM578 393.4h1V405.3h-1ZM579 393.0h1V403.9h-1ZM580 392.9h1V404.2h-1ZM581 388.5h1V403.4h-1ZM582 391.9h1V403.2h-1ZM583 391.5h1V402.0h-1ZM584 387.5h1V401.5h-1ZM585 389.9h1V402.0h-1ZM586 389.7h1V401.3h-1ZM587 388.7h1V400.4h-1ZM588 389.3h1V400.0h-1ZM589 388.6h1V402.7h-1ZM590 388.2h1V399.5h-1ZM591 387.9h1V399.5h-1ZM592 387.1h1V398.8h-1ZM593 386.3h1V398.1h-1ZM594 382.2h1V398.4h-1ZM595 386.1h1V398.0h-1ZM596 385.7h1V397.3h-1ZM597 384.9h1V401.4h-1ZM598 385.6h1V396.4h-1ZM599 385.2h1V396.3h-1ZM600 385.0h1V395.8h-1ZM601 381.1h1V396.2h-1ZM602 383.6h1V395.3h-1ZM603 384.1h1V395.3h-1ZM604 383.8h1V395.2h-1ZM605 383.7h1V395.1h-1ZM606 382.9h1V397.1h-1ZM607 382.5h1V395.2h-1ZM608 382.0h1V394.9h-1ZM609 379.4h1V394.5h-1ZM610 382.0h1V393.6h-1ZM611 381.4h1V395.6h-1ZM612 381.2h1V395.2h-1ZM613 381.4h1V393.7h-1ZM614 381.1h1V395.0h-1ZM615 380.8h1V393.2h-1ZM616 381.4h1V396.9h-1ZM617 381.0h1V392.9h-1ZM618 381.0h1V393.4h-1ZM619 379.1h1V392.9h-1ZM620 381.0h1V393.0h-1ZM621 380.8h1V393.2h-1ZM622 378.6h1V392.5h-1ZM623 380.5h1V392.8h-1ZM624 377.0h1V392.3h-1ZM625 380.1h1V392.5h-1ZM626 380.1h1V392.2h-1ZM627 380.3h1V393.0h-1ZM628 380.9h1V393.0h-1ZM629 380.3h1V395.6h-1ZM630 381.3h1V392.3h-1ZM631 376.7h1V393.3h-1ZM632 380.3h1V396.4h-1ZM633 381.2h1V396.3h-1ZM634 380.6h1V392.8h-1ZM635 381.4h1V393.5h-1ZM636 379.1h1V392.5h-1ZM637 381.4h1V396.0h-1ZM638 381.0h1V393.1h-1ZM639 381.7h1V392.6h-1ZM640 380.9h1V393.2h-1ZM641 378.9h1V393.0h-1ZM642 380.8h1V393.4h-1ZM643 381.4h1V397.6h-1ZM644 382.0h1V393.3h-1ZM645 379.6h1V397.1h-1ZM646 380.1h1V397.3h-1ZM647 381.5h1V393.2h-1ZM648 379.4h1V395.9h-1ZM649 382.0h1V393.9h-1ZM650 382.1h1V393.9h-1ZM651 381.9h1V393.7h-1ZM652 382.4h1V394.4h-1ZM653 382.6h1V394.7h-1ZM654 382.7h1V393.9h-1ZM655 382.8h1V394.0h-1ZM656 379.0h1V394.5h-1ZM657 382.1h1V394.4h-1ZM658 379.9h1V394.7h-1ZM659 382.9h1V397.7h-1ZM660 382.9h1V394.7h-1ZM661 383.7h1V394.8h-1ZM662 383.0h1V395.7h-1ZM663 383.7h1V396.0h-1ZM664 383.8h1V396.0h-1ZM665 384.2h1V397.8h-1ZM666 383.8h1V396.5h-1ZM667 384.1h1V396.6h-1ZM668 385.1h1V396.2h-1ZM669 384.4h1V399.6h-1ZM670 384.8h1V397.4h-1ZM671 385.3h1V400.6h-1ZM672 381.4h1V397.2h-1ZM673 382.5h1V398.3h-1ZM674 386.7h1V397.5h-1ZM675 386.3h1V398.7h-1ZM676 386.4h1V398.5h-1ZM677 387.4h1V400.7h-1ZM678 387.9h1V399.5h-1ZM679 387.9h1V399.2h-1ZM680 384.9h1V400.3h-1ZM681 388.1h1V399.9h-1ZM682 388.8h1V400.8h-1ZM683 389.6h1V400.8h-1ZM684 385.7h1V401.1h-1ZM685 390.4h1V404.7h-1ZM686 390.7h1V403.5h-1ZM687 390.8h1V402.5h-1ZM688 391.4h1V402.6h-1ZM689 392.1h1V403.3h-1ZM690 392.1h1V404.0h-1ZM691 392.9h1V404.5h-1ZM692 393.4h1V403.8h-1ZM693 390.4h1V405.0h-1ZM694 394.1h1V405.3h-1ZM695 394.4h1V405.1h-1ZM696 394.3h1V405.5h-1ZM697 393.1h1V406.4h-1ZM698 393.2h1V407.2h-1ZM699 396.1h1V407.6h-1ZM700 393.3h1V409.5h-1ZM701 397.9h1V411.0h-1ZM702 398.4h1V409.3h-1ZM703 398.3h1V410.0h-1ZM704 396.6h1V410.3h-1ZM705 399.6h1V410.9h-1ZM706 399.7h1V410.9h-1ZM707 400.7h1V411.3h-1ZM708 401.3h1V412.3h-1ZM709 401.8h1V412.5h-1ZM710 401.9h1V413.5h-1ZM711 402.8h1V413.4h-1ZM712 403.0h1V414.4h-1ZM713 404.0h1V415.1h-1ZM714 404.2h1V415.6h-1ZM715 402.8h1V415.7h-1ZM716 406.4h1V417.2h-1ZM717 402.5h1V420.3h-1ZM718 406.9h1V417.9h-1ZM719 407.7h1V418.5h-1ZM720 408.4h1V419.1h-1ZM721 409.8h1V419.5h-1ZM722 409.5h1V420.4h-1ZM723 410.7h1V424.3h-1ZM724 411.2h1V422.0h-1ZM725 412.6h1V422.3h-1ZM726 412.3h1V423.5h-1ZM727 413.3h1V426.0h-1ZM728 414.1h1V424.2h-1ZM729 415.2h1V424.5h-1ZM730 415.6h1V428.1h-1ZM731 416.0h1V426.1h-1ZM732 415.6h1V427.5h-1ZM733 418.1h1V427.3h-1ZM734 418.4h1V432.1h-1ZM735 419.8h1V429.0h-1ZM736 420.5h1V430.4h-1ZM737 420.9h1V430.4h-1ZM738 421.7h1V435.7h-1ZM739 422.7h1V432.6h-1ZM740 423.2h1V435.4h-1ZM741 424.5h1V434.1h-1ZM742 425.1h1V434.6h-1ZM743 422.2h1V439.0h-1ZM744 426.3h1V437.3h-1ZM745 426.6h1V436.9h-1ZM746 426.3h1V440.7h-1ZM747 426.5h1V438.2h-1ZM748 429.5h1V438.7h-1ZM749 430.5h1V439.2h-1ZM750 431.7h1V440.3h-1ZM751 432.3h1V440.8h-1ZM752 432.9h1V441.9h-1ZM753 433.2h1V442.4h-1ZM754 434.4h1V443.1h-1ZM755 435.0h1V444.4h-1ZM756 436.4h1V444.1h-1ZM757 436.5h1V445.0h-1ZM758 437.1h1V446.4h-1ZM759 438.4h1V447.0h-1ZM760 438.5h1V448.1h-1ZM761 437.8h1V448.6h-1ZM762 441.0h1V449.3h-1ZM763 442.2h1V449.5h-1ZM764 440.0h1V450.5h-1ZM765 442.9h1V452.1h-1ZM766 444.2h1V455.4h-1ZM767 444.9h1V456.1h-1ZM768 446.2h1V454.4h-1ZM769 444.9h1V454.7h-1ZM770 444.1h1V456.5h-1ZM771 449.2h1V456.5h-1ZM772 449.3h1V457.1h-1ZM773 446.7h1V460.4h-1ZM774 449.5h1V459.8h-1ZM775 452.6h1V459.8h-1ZM776 453.1h1V460.5h-1ZM777 454.3h1V461.6h-1ZM778 455.5h1V463.3h-1ZM779 456.3h1V463.9h-1ZM780 455.0h1V464.3h-1ZM781 457.7h1V465.7h-1ZM782 459.1h1V466.4h-1ZM783 457.0h1V467.3h-1ZM784 459.4h1V468.1h-1ZM785 462.3h1V469.6h-1ZM786 460.0h1V470.4h-1ZM787 464.2h1V474.6h-1ZM788 460.9h1V474.0h-1ZM789 465.5h1V473.3h-1ZM790 466.7h1V477.9h-1ZM791 466.2h1V476.5h-1ZM792 469.4h1V477.7h-1ZM793 470.4h1V476.8h-1ZM794 469.7h1V480.4h-1ZM795 470.1h1V481.9h-1ZM796 475.0h1V484.5h-1ZM797 476.5h1V482.2h-1ZM798 478.2h1V483.5h-1ZM799 479.1h1V485.5h-1ZM800 481.0h1V487.0h-1ZM801 481.6h1V487.6h-1ZM802 483.4h1V489.9h-1ZM803 484.0h1V493.6h-1ZM804 485.6h1V496.8h-1ZM805 486.8h1V494.0h-1ZM806 488.1h1V495.8h-1ZM807 489.5h1V497.3h-1ZM808 488.6h1V497.7h-1ZM809 493.1h1V499.2h-1ZM810 493.7h1V503.6h-1ZM811 494.5h1V502.0h-1ZM812 496.6h1V503.1h-1ZM813 497.6h1V506.1h-1ZM814 496.1h1V506.4h-1ZM815 500.1h1V506.6h-1ZM816 500.3h1V508.5h-1ZM817 501.7h1V508.7h-1ZM818 502.4h1V509.5h-1ZM819 502.7h1V514.1h-1ZM820 502.7h1V511.4h-1ZM821 504.9h1V513.3h-1ZM822 504.2h1V516.4h-1ZM823 506.5h1V514.9h-1ZM824 508.0h1V514.8h-1ZM825 508.9h1V517.8h-1ZM826 509.5h1V517.4h-1ZM827 510.3h1V518.1h-1ZM828 510.5h1V519.1h-1ZM829 510.8h1V519.8h-1ZM830 512.1h1V523.1h-1ZM831 512.7h1V521.0h-1ZM832 511.7h1V522.0h-1ZM833 513.9h1V522.5h-1ZM834 514.6h1V523.8h-1ZM835 515.8h1V523.8h-1ZM836 516.9h1V524.2h-1ZM837 517.4h1V528.2h-1ZM838 517.4h1V526.0h-1ZM839 517.9h1V528.4h-1ZM840 519.1h1V529.5h-1ZM841 519.5h1V531.8h-1ZM842 517.7h1V528.6h-1ZM843 521.3h1V533.6h-1ZM844 520.2h1V530.5h-1ZM845 522.0h1V532.7h-1ZM846 523.0h1V532.3h-1ZM847 520.3h1V536.6h-1ZM848 524.0h1V533.4h-1ZM849 524.4h1V536.6h-1ZM850 522.3h1V534.8h-1ZM851 525.9h1V534.5h-1ZM852 526.2h1V535.4h-1ZM853 526.8h1V535.7h-1ZM854 525.7h1V536.7h-1ZM855 528.4h1V537.0h-1ZM856 528.6h1V541.5h-1ZM857 529.2h1V538.7h-1ZM858 529.4h1V539.4h-1ZM859 530.6h1V540.0h-1ZM860 531.3h1V540.8h-1ZM861 531.3h1V541.3h-1ZM862 532.6h1V545.6h-1ZM863 533.3h1V542.0h-1ZM864 530.4h1V542.7h-1ZM865 534.1h1V544.4h-1ZM866 535.1h1V546.9h-1ZM867 536.1h1V544.9h-1ZM868 536.2h1V545.9h-1ZM869 535.7h1V547.2h-1ZM870 535.4h1V547.7h-1ZM871 536.3h1V549.3h-1ZM872 539.2h1V549.7h-1ZM873 536.8h1V553.6h-1ZM874 539.8h1V551.0h-1ZM875 542.2h1V552.9h-1ZM876 543.0h1V553.6h-1ZM877 544.4h1V554.0h-1ZM878 544.6h1V555.1h-1ZM879 545.3h1V557.8h-1ZM880 544.7h1V556.6h-1ZM881 547.5h1V557.5h-1ZM882 548.4h1V559.0h-1ZM883 546.0h1V563.6h-1ZM884 547.7h1V560.5h-1ZM885 550.8h1V560.9h-1ZM886 551.7h1V561.6h-1ZM887 550.2h1V562.9h-1ZM888 548.5h1V563.5h-1ZM889 549.7h1V564.0h-1ZM890 553.9h1V564.7h-1ZM891 553.0h1V566.2h-1ZM892 555.6h1V568.9h-1ZM893 556.0h1V567.4h-1ZM894 556.8h1V567.5h-1ZM895 557.1h1V568.1h-1ZM896 558.3h1V571.4h-1ZM897 559.0h1V572.1h-1ZM898 558.5h1V572.4h-1ZM899 559.7h1V573.7h-1ZM900 560.1h1V572.8h-1ZM901 556.8h1V571.9h-1ZM902 561.5h1V574.5h-1ZM903 561.1h1V572.6h-1ZM904 561.9h1V572.8h-1ZM905 561.8h1V574.2h-1ZM906 563.2h1V573.7h-1ZM907 563.7h1V574.5h-1ZM908 563.4h1V579.1h-1ZM909 564.1h1V577.7h-1ZM910 564.6h1V576.0h-1ZM911 565.4h1V576.6h-1ZM912 565.7h1V578.3h-1ZM913 565.7h1V577.3h-1ZM914 566.7h1V577.4h-1ZM915 566.7h1V577.5h-1ZM916 567.2h1V580.0h-1ZM917 567.9h1V578.7h-1ZM918 567.7h1V581.0h-1ZM919 568.0h1V579.5h-1ZM920 568.5h1V580.5h-1ZM921 568.6h1V580.5h-1ZM922 569.1h1V581.3h-1ZM923 570.1h1V581.5h-1ZM924 569.5h1V584.5h-1ZM925 569.8h1V585.2h-1ZM926 567.0h1V582.7h-1ZM927 570.5h1V584.9h-1ZM928 570.9h1V582.9h-1ZM929 568.1h1V583.0h-1ZM930 571.9h1V586.7h-1ZM931 572.7h1V584.7h-1ZM932 569.8h1V584.6h-1ZM933 570.4h1V584.7h-1ZM934 573.0h1V585.5h-1ZM935 572.9h1V585.0h-1ZM936 573.4h1V585.4h-1ZM937 574.0h1V587.5h-1ZM938 570.4h1V585.5h-1ZM939 574.5h1V586.7h-1ZM940 574.9h1V587.0h-1ZM941 574.6h1V586.9h-1ZM942 575.0h1V587.0h-1ZM943 574.7h1V591.2h-1ZM944 572.9h1V587.6h-1ZM945 574.7h1V587.5h-1ZM946 575.7h1V587.6h-1ZM947 575.8h1V590.9h-1ZM948 574.8h1V587.3h-1ZM949 575.1h1V587.2h-1ZM950 575.9h1V587.7h-1ZM951 575.4h1V590.2h-1ZM952 575.4h1V588.9h-1ZM953 575.7h1V587.2h-1ZM954 575.2h1V587.7h-1ZM955 571.4h1V587.8h-1ZM956 575.6h1V587.0h-1ZM957 575.9h1V588.0h-1ZM958 575.2h1V588.0h-1ZM959 574.8h1V586.8h-1ZM960 575.2h1V587.5h-1ZM961 575.9h1V587.5h-1ZM962 575.2h1V587.7h-1ZM963 575.3h1V587.2h-1ZM964 572.9h1V587.9h-1ZM965 575.5h1V586.8h-1ZM966 575.3h1V590.5h-1ZM967 574.9h1V587.9h-1ZM968 572.2h1V586.7h-1ZM969 574.8h1V587.3h-1ZM970 575.5h1V586.8h-1ZM971 575.5h1V587.7h-1ZM972 575.2h1V587.6h-1ZM973 573.5h1V587.8h-1ZM974 575.0h1V590.5h-1ZM975 575.1h1V591.6h-1ZM976 575.5h1V587.2h-1ZM977 571.8h1V586.9h-1ZM978 575.0h1V587.4h-1ZM979 574.5h1V587.7h-1ZM980 574.6h1V590.2h-1ZM981 573.2h1V586.5h-1ZM982 574.7h1V590.6h-1ZM983 570.5h1V586.6h-1ZM984 574.9h1V585.8h-1ZM985 573.6h1V585.7h-1ZM986 573.6h1V586.2h-1ZM987 573.6h1V585.2h-1ZM988 572.7h1V585.4h-1ZM989 573.2h1V589.0h-1ZM990 571.8h1V583.7h-1ZM991 570.3h1V583.9h-1ZM992 571.6h1V582.9h-1ZM993 569.4h1V582.6h-1ZM994 569.8h1V582.5h-1ZM995 570.3h1V584.8h-1ZM996 569.8h1V580.6h-1ZM997 568.3h1V580.1h-1ZM998 563.8h1V580.3h-1ZM999 568.1h1V579.7h-1ZM1000 564.8h1V582.6h-1ZM1001 567.0h1V577.7h-1ZM1002 565.8h1V577.0h-1ZM1003 566.0h1V577.3h-1ZM1004 564.6h1V576.3h-1ZM1005 565.1h1V576.0h-1ZM1006 563.6h1V575.1h-1ZM1007 560.9h1V575.1h-1ZM1008 559.9h1V574.2h-1ZM1009 558.9h1V574.9h-1ZM1010 562.2h1V577.7h-1ZM1011 562.9h1V575.6h-1ZM1012 558.5h1V573.5h-1ZM1013 558.7h1V575.1h-1ZM1014 561.6h1V573.4h-1ZM1015 559.1h1V575.5h-1ZM1016 557.1h1V572.6h-1ZM1017 560.2h1V572.3h-1ZM1018 560.6h1V570.9h-1ZM1019 559.8h1V570.6h-1ZM1020 558.7h1V570.5h-1ZM1021 558.0h1V569.7h-1ZM1022 554.4h1V568.8h-1ZM1023 554.0h1V570.8h-1ZM1024 553.6h1V567.5h-1ZM1025 555.5h1V565.8h-1ZM1026 554.5h1V565.0h-1ZM1027 554.3h1V566.1h-1ZM1028 553.3h1V563.7h-1ZM1029 551.9h1V564.9h-1ZM1030 551.0h1V561.9h-1ZM1031 548.3h1V561.2h-1ZM1032 549.3h1V559.4h-1ZM1033 548.8h1V558.7h-1ZM1034 546.4h1V562.1h-1ZM1035 547.6h1V560.6h-1ZM1036 546.4h1V557.1h-1ZM1037 545.7h1V556.4h-1ZM1038 544.9h1V556.0h-1ZM1039 544.3h1V554.8h-1ZM1040 544.7h1V556.1h-1ZM1041 544.4h1V558.0h-1ZM1042 540.1h1V553.8h-1ZM1043 543.1h1V554.2h-1ZM1044 542.8h1V553.5h-1ZM1045 543.2h1V552.8h-1ZM1046 542.3h1V552.5h-1ZM1047 540.0h1V553.0h-1ZM1048 542.2h1V552.3h-1ZM1049 541.9h1V551.6h-1ZM1050 538.8h1V552.1h-1ZM1051 541.1h1V551.0h-1ZM1052 536.9h1V552.7h-1ZM1053 540.5h1V551.6h-1ZM1054 539.8h1V549.4h-1ZM1055 538.7h1V548.3h-1ZM1056 537.6h1V551.2h-1ZM1057 536.3h1V546.7h-1ZM1058 536.1h1V545.4h-1ZM1059 534.5h1V548.6h-1ZM1060 533.6h1V543.3h-1ZM1061 532.9h1V545.0h-1ZM1062 531.1h1V540.5h-1ZM1063 529.8h1V539.3h-1ZM1064 528.6h1V541.3h-1ZM1065 527.5h1V536.5h-1ZM1066 523.3h1V534.8h-1ZM1067 525.4h1V533.6h-1ZM1068 523.2h1V536.7h-1ZM1069 518.3h1V531.4h-1ZM1070 521.7h1V532.8h-1ZM1071 520.2h1V532.3h-1ZM1072 519.6h1V528.4h-1ZM1073 518.3h1V527.2h-1ZM1074 517.6h1V530.0h-1ZM1075 517.6h1V528.0h-1ZM1076 516.8h1V524.9h-1ZM1077 516.2h1V524.9h-1ZM1078 515.0h1V523.7h-1ZM1079 514.8h1V523.6h-1ZM1080 514.1h1V523.3h-1ZM1081 514.1h1V522.3h-1ZM1082 513.4h1V522.0h-1ZM1083 508.6h1V522.7h-1ZM1084 512.6h1V522.5h-1ZM1085 511.4h1V521.8h-1ZM1086 509.6h1V519.3h-1ZM1087 510.3h1V518.7h-1ZM1088 509.5h1V517.6h-1ZM1089 509.4h1V516.9h-1ZM1090 505.2h1V515.7h-1ZM1091 507.6h1V514.6h-1ZM1092 505.9h1V514.2h-1ZM1093 504.8h1V512.6h-1ZM1094 504.0h1V511.3h-1ZM1095 499.5h1V511.9h-1ZM1096 498.7h1V511.4h-1ZM1097 500.6h1V511.4h-1ZM1098 499.1h1V506.7h-1ZM1099 497.7h1V505.1h-1ZM1100 497.3h1V507.0h-1ZM1101 492.6h1V503.3h-1ZM1102 494.1h1V501.5h-1ZM1103 493.3h1V499.9h-1ZM1104 491.7h1V498.9h-1ZM1105 491.3h1V498.3h-1ZM1106 487.2h1V496.4h-1ZM1107 489.3h1V495.5h-1ZM1108 488.2h1V494.7h-1ZM1109 487.1h1V496.7h-1ZM1110 486.5h1V492.8h-1ZM1111 485.8h1V491.4h-1ZM1112 485.0h1V495.1h-1ZM1113 483.9h1V493.7h-1ZM1114 483.5h1V488.8h-1ZM1115 481.8h1V488.1h-1ZM1116 481.0h1V487.6h-1ZM1117 478.9h1V489.7h-1ZM1118 479.8h1V486.0h-1ZM1119 479.0h1V485.2h-1ZM1120 477.5h1V484.7h-1ZM1121 477.2h1V483.2h-1ZM1122 476.7h1V482.9h-1ZM1123 475.6h1V481.8h-1ZM1124 474.2h1V481.0h-1ZM1125 473.9h1V480.7h-1ZM1126 472.5h1V480.1h-1ZM1127 472.1h1V478.5h-1ZM1128 471.2h1V477.9h-1ZM1129 470.9h1V477.0h-1ZM1130 469.8h1V476.8h-1ZM1131 468.8h1V479.5h-1ZM1132 465.4h1V474.8h-1ZM1133 466.4h1V476.7h-1ZM1134 463.4h1V473.3h-1ZM1135 464.8h1V474.3h-1ZM1136 461.0h1V471.5h-1ZM1137 462.7h1V470.5h-1ZM1138 462.6h1V469.6h-1ZM1139 460.7h1V468.0h-1ZM1140 460.3h1V471.4h-1ZM1141 458.9h1V466.4h-1ZM1142 458.3h1V465.8h-1ZM1143 455.0h1V466.2h-1ZM1144 455.7h1V464.1h-1ZM1145 454.6h1V462.9h-1ZM1146 453.1h1V461.8h-1ZM1147 452.6h1V459.6h-1ZM1148 451.0h1V458.6h-1ZM1149 446.9h1V461.3h-1ZM1150 448.0h1V456.9h-1ZM1151 446.7h1V455.6h-1ZM1152 445.8h1V453.4h-1ZM1153 444.7h1V452.2h-1ZM1154 443.8h1V451.7h-1ZM1155 442.1h1V454.1h-1ZM1156 441.2h1V450.3h-1ZM1157 440.6h1V449.4h-1ZM1158 439.7h1V448.2h-1ZM1159 439.0h1V447.4h-1ZM1160 437.3h1V445.8h-1ZM1161 434.7h1V445.0h-1ZM1162 436.2h1V447.6h-1ZM1163 435.3h1V447.3h-1ZM1164 432.2h1V442.7h-1ZM1165 433.2h1V442.0h-1ZM1166 428.5h1V441.7h-1ZM1167 428.8h1V440.1h-1ZM1168 426.5h1V440.4h-1ZM1169 429.6h1V439.0h-1ZM1170 425.7h1V438.5h-1ZM1171 426.0h1V441.2h-1ZM1172 427.8h1V436.8h-1ZM1173 426.8h1V437.6h-1ZM1174 421.7h1V435.4h-1ZM1175 425.1h1V434.1h-1ZM1176 424.3h1V434.1h-1ZM1177 423.5h1V436.1h-1ZM1178 422.9h1V434.6h-1ZM1179 422.6h1V432.4h-1ZM1180 421.3h1V431.7h-1ZM1181 420.9h1V429.9h-1ZM1182 420.4h1V430.1h-1ZM1183 419.4h1V428.7h-1ZM1184 418.3h1V428.6h-1ZM1185 418.3h1V430.0h-1ZM1186 417.5h1V430.6h-1ZM1187 416.7h1V431.1h-1ZM1188 413.4h1V425.8h-1ZM1189 416.1h1V427.2h-1ZM1190 414.9h1V425.7h-1ZM1191 414.6h1V424.8h-1ZM1192 413.7h1V423.8h-1ZM1193 409.8h1V423.6h-1ZM1194 409.2h1V426.8h-1ZM1195 412.1h1V425.0h-1ZM1196 412.2h1V424.6h-1ZM1197 411.0h1V420.9h-1ZM1198 410.2h1V420.5h-1ZM1199 410.6h1V422.7h-1ZM1200 410.0h1V423.4h-1ZM1201 409.2h1V423.2h-1ZM1202 407.8h1V418.2h-1ZM1203 407.6h1V418.5h-1ZM1204 406.6h1V417.6h-1ZM1205 406.2h1V417.6h-1ZM1206 405.5h1V416.3h-1ZM1207 402.1h1V416.4h-1ZM1208 404.4h1V414.9h-1ZM1209 404.1h1V416.9h-1ZM1210 403.1h1V413.8h-1ZM1211 398.9h1V413.8h-1ZM1212 402.5h1V412.7h-1ZM1213 400.9h1V413.6h-1ZM1214 401.2h1V414.7h-1ZM1215 399.9h1V413.9h-1ZM1216 399.5h1V409.8h-1ZM1217 398.7h1V409.7h-1ZM1218 397.8h1V409.2h-1ZM1219 394.0h1V408.6h-1ZM1220 396.0h1V408.0h-1ZM1221 396.2h1V406.6h-1ZM1222 393.5h1V406.3h-1ZM1223 394.2h1V405.6h-1ZM1224 394.5h1V409.2h-1ZM1225 393.9h1V404.5h-1ZM1226 392.8h1V403.5h-1ZM1227 392.0h1V407.7h-1ZM1228 391.4h1V404.6h-1ZM1229 387.3h1V403.0h-1ZM1230 391.0h1V402.0h-1ZM1231 389.9h1V401.1h-1ZM1232 387.9h1V400.8h-1ZM1233 389.6h1V400.1h-1ZM1234 384.5h1V403.4h-1ZM1235 388.3h1V399.3h-1ZM1236 387.9h1V399.8h-1ZM1237 384.7h1V399.5h-1ZM1238 387.4h1V398.1h-1ZM1239 387.1h1V401.2h-1ZM1240 386.6h1V397.7h-1ZM1241 386.4h1V397.5h-1ZM1242 383.3h1V396.8h-1ZM1243 385.5h1V396.4h-1ZM1244 384.3h1V398.6h-1ZM1245 384.4h1V398.4h-1ZM1246 384.5h1V399.5h-1ZM1247 383.5h1V395.4h-1ZM1248 383.5h1V395.6h-1ZM1249 383.6h1V394.6h-1ZM1250 379.8h1V398.9h-1ZM1251 383.1h1V394.7h-1ZM1252 379.8h1V394.0h-1ZM1253 379.9h1V396.7h-1ZM1254 382.1h1V394.1h-1ZM1255 381.1h1V393.7h-1ZM1256 381.3h1V392.9h-1ZM1257 378.2h1V396.4h-1ZM1258 380.5h1V392.7h-1ZM1259 380.0h1V392.6h-1ZM1260 379.5h1V392.3h-1ZM1261 379.7h1V391.6h-1ZM1262 376.7h1V391.9h-1ZM1263 379.9h1V394.7h-1ZM1264 378.9h1V390.8h-1ZM1265 378.3h1V394.3h-1ZM1266 378.6h1V390.8h-1ZM1267 378.0h1V391.0h-1ZM1268 377.9h1V389.9h-1ZM1269 375.9h1V390.7h-1Z"/>
<path fill="#8080ff" d="M70 571.4h1V583.1h-1ZM71 569.2h1V584.0h-1ZM72 571.8h1V583.9h-1ZM73 569.3h1V588.0h-1ZM74 568.3h1V587.5h-1ZM75 572.4h1V583.6h-1ZM76 568.2h1V583.8h-1ZM77 572.0h1V587.1h-1ZM78 570.3h1V584.1h-1ZM79 573.3h1V588.5h-1ZM80 573.0h1V584.8h-1ZM81 573.6h1V585.5h-1ZM82 572.9h1V584.9h-1ZM83 573.0h1V587.3h-1ZM84 573.4h1V585.3h-1ZM85 569.6h1V585.5h-1ZM86 573.7h1V585.9h-1ZM87 570.6h1V589.1h-1ZM88 571.6h1V585.9h-1ZM89 571.1h1V588.1h-1ZM90 573.4h1V586.5h-1ZM91 569.9h1V585.7h-1ZM92 573.6h1V588.3h-1ZM93 574.4h1V585.6h-1ZM94 571.1h1V586.9h-1ZM95 575.0h1V586.8h-1ZM96 574.3h1V586.6h-1ZM97 574.5h1V587.2h-1ZM98 575.1h1V587.2h-1ZM99 574.3h1V587.1h-1ZM100 575.2h1V586.7h-1ZM101 574.8h1V591.1h-1ZM102 575.4h1V587.7h-1ZM103 575.0h1V587.8h-1ZM104 575.3h1V587.8h-1ZM105 575.2h1V587.2h-1ZM106 575.3h1V591.0h-1ZM107 575.0h1V588.0h-1ZM108 575.1h1V587.0h-1ZM109 575.7h1V587.8h-1ZM110 575.3h1V590.5h-1ZM111 575.6h1V587.4h-1ZM112 575.2h1V589.2h-1ZM113 575.2h1V587.7h-1ZM114 575.5h1V590.3h-1ZM115 575.6h1V587.1h-1ZM116 575.4h1V586.6h-1ZM117 575.3h1V589.8h-1ZM118 574.4h1V587.2h-1ZM119 572.0h1V587.3h-1ZM120 574.7h1V587.1h-1ZM121 574.5h1V586.4h-1ZM122 574.1h1V586.4h-1ZM123 574.3h1V585.9h-1ZM124 574.1h1V585.5h-1ZM125 573.7h1V585.2h-1ZM126 573.8h1V585.6h-1ZM127 572.9h1V585.1h-1ZM128 569.8h1V585.2h-1ZM129 573.0h1V584.5h-1ZM130 572.7h1V584.4h-1ZM131 572.7h1V586.4h-1ZM132 572.0h1V587.8h-1ZM133 571.4h1V583.9h-1ZM134 571.9h1V583.7h-1ZM135 567.1h1V585.2h-1ZM136 568.9h1V586.1h-1ZM137 570.8h1V584.5h-1ZM138 570.0h1V585.3h-1ZM139 569.8h1V581.6h-1ZM140 569.3h1V581.0h-1ZM141 569.1h1V580.7h-1ZM142 568.8h1V580.2h-1ZM143 567.9h1V580.0h-1ZM144 567.8h1V579.6h-1ZM145 567.6h1V580.5h-1ZM146 565.1h1V580.4h-1ZM147 562.7h1V578.3h-1ZM148 565.4h1V576.6h-1ZM149 564.6h1V576.2h-1ZM150 564.7h1V575.8h-1ZM151 564.6h1V576.0h-1ZM152 563.2h1V574.7h-1ZM153 562.4h1V574.4h-1ZM154 560.3h1V573.9h-1ZM155 561.5h1V572.9h-1ZM156 560.6h1V572.0h-1ZM157 560.6h1V571.5h-1ZM158 559.9h1V574.2h-1ZM159 559.2h1V570.5h-1ZM160 555.3h1V569.6h-1ZM161 558.2h1V569.2h-1ZM162 557.9h1V568.5h-1ZM163 557.2h1V570.7h-1ZM164 554.3h1V567.4h-1ZM165 556.3h1V567.2h-1ZM166 555.5h1V565.9h-1ZM167 555.5h1V566.2h-1ZM168 554.3h1V568.0h-1ZM169 553.5h1V564.3h-1ZM170 553.3h1V564.1h-1ZM171 552.9h1V563.5h-1ZM172 552.5h1V563.3h-1ZM173 551.8h1V562.5h-1ZM174 551.2h1V561.7h-1ZM175 551.4h1V561.7h-1ZM176 549.7h1V560.4h-1ZM177 549.8h1V559.9h-1ZM178 549.7h1V561.4h-1ZM179 549.1h1V563.0h-1ZM180 548.1h1V559.0h-1ZM181 545.5h1V558.4h-1ZM182 547.0h1V557.0h-1ZM183 546.2h1V557.2h-1ZM184 546.0h1V555.8h-1ZM185 545.8h1V556.1h-1ZM186 545.0h1V558.0h-1ZM187 544.5h1V558.7h-1ZM188 543.8h1V554.4h-1ZM189 543.2h1V553.2h-1ZM190 543.3h1V552.8h-1ZM191 541.6h1V554.9h-1ZM192 541.4h1V552.0h-1ZM193 540.7h1V550.9h-1ZM194 541.1h1V552.0h-1ZM195 540.5h1V549.5h-1ZM196 539.5h1V553.3h-1ZM197 538.4h1V548.7h-1ZM198 538.8h1V548.5h-1ZM199 537.6h1V547.5h-1ZM200 537.5h1V548.6h-1ZM201 537.1h1V549.5h-1ZM202 536.6h1V546.1h-1ZM203 535.3h1V545.2h-1ZM204 535.5h1V544.4h-1ZM205 534.3h1V544.6h-1ZM206 532.5h1V543.2h-1ZM207 531.0h1V543.4h-1ZM208 532.8h1V543.0h-1ZM209 533.0h1V542.4h-1ZM210 531.9h1V543.4h-1ZM211 529.6h1V541.1h-1ZM212 530.7h1V540.0h-1ZM213 529.8h1V539.7h-1ZM214 529.3h1V541.5h-1ZM215 529.2h1V540.6h-1ZM216 524.8h1V537.8h-1ZM217 527.4h1V536.4h-1ZM218 522.4h1V535.9h-1ZM219 526.4h1V534.6h-1ZM220 525.2h1V536.4h-1ZM221 524.6h1V533.1h-1ZM222 519.7h1V533.0h-1ZM223 523.6h1V532.0h-1ZM224 522.9h1V531.3h-1ZM225 521.3h1V529.9h-1ZM226 518.7h1V530.1h-1ZM227 520.3h1V532.7h-1ZM228 517.4h1V528.5h-1ZM229 517.0h1V526.6h-1ZM230 518.3h1V526.0h-1ZM231 516.5h1V525.5h-1ZM232 514.3h1V525.0h-1ZM233 515.9h1V524.3h-1ZM234 512.9h1V523.3h-1ZM235 513.4h1V525.3h-1ZM236 509.6h1V521.4h-1ZM237 511.3h1V520.5h-1ZM238 510.3h1V521.2h-1ZM239 509.5h1V518.3h-1ZM240 509.6h1V518.4h-1ZM241 507.5h1V516.4h-1ZM242 507.1h1V515.0h-1ZM243 506.5h1V513.3h-1ZM244 504.6h1V513.0h-1ZM245 504.0h1V510.9h-1ZM246 502.8h1V510.0h-1ZM247 501.8h1V510.5h-1ZM248 497.0h1V507.1h-1ZM249 499.2h1V506.2h-1ZM250 495.2h1V504.6h-1ZM251 492.4h1V504.4h-1ZM252 495.1h1V502.0h-1ZM253 493.9h1V500.7h-1ZM254 492.8h1V501.9h-1ZM255 491.5h1V500.2h-1ZM256 490.6h1V496.8h-1ZM257 486.3h1V495.5h-1ZM258 485.2h1V496.2h-1ZM259 487.3h1V493.6h-1ZM260 485.0h1V494.7h-1ZM261 484.9h1V490.3h-1ZM262 483.0h1V489.1h-1ZM263 481.5h1V488.5h-1ZM264 481.0h1V487.3h-1ZM265 480.0h1V486.3h-1ZM266 478.5h1V485.4h-1ZM267 477.8h1V484.4h-1ZM268 474.9h1V486.4h-1ZM269 472.6h1V482.1h-1ZM270 474.6h1V481.2h-1ZM271 470.3h1V480.9h-1ZM272 472.5h1V480.0h-1ZM273 467.6h1V482.7h-1ZM274 471.1h1V477.7h-1ZM275 469.8h1V476.9h-1ZM276 469.6h1V476.1h-1ZM277 468.0h1V474.6h-1ZM278 463.1h1V478.2h-1ZM279 463.7h1V472.7h-1ZM280 465.0h1V472.1h-1ZM281 460.2h1V475.0h-1ZM282 463.9h1V471.0h-1ZM283 460.6h1V469.6h-1ZM284 461.9h1V469.5h-1ZM285 460.8h1V467.8h-1ZM286 460.1h1V467.3h-1ZM287 456.6h1V466.6h-1ZM288 458.8h1V465.4h-1ZM289 457.8h1V464.7h-1ZM290 454.3h1V464.1h-1ZM291 456.0h1V463.5h-1ZM292 454.4h1V461.8h-1ZM293 449.3h1V461.3h-1ZM294 452.7h1V460.0h-1ZM295 452.1h1V459.7h-1ZM296 450.6h1V462.5h-1ZM297 449.8h1V458.4h-1ZM298 446.1h1V457.3h-1ZM299 447.4h1V455.9h-1ZM300 446.8h1V457.4h-1ZM301 442.2h1V454.0h-1ZM302 444.5h1V456.8h-1ZM303 443.8h1V452.8h-1ZM304 443.7h1V451.1h-1ZM305 441.7h1V450.7h-1ZM306 441.2h1V449.7h-1ZM307 440.2h1V452.4h-1ZM308 439.4h1V447.8h-1ZM309 438.2h1V446.8h-1ZM310 433.6h1V446.0h-1ZM311 437.1h1V444.9h-1ZM312 435.6h1V444.8h-1ZM313 432.2h1V443.7h-1ZM314 434.0h1V443.3h-1ZM315 432.8h1V442.1h-1ZM316 432.4h1V441.1h-1ZM317 431.7h1V440.6h-1ZM318 430.6h1V439.3h-1ZM319 429.8h1V438.9h-1ZM320 425.5h1V437.9h-1ZM321 423.7h1V437.0h-1ZM322 424.0h1V440.5h-1ZM323 426.6h1V435.2h-1ZM324 425.4h1V434.8h-1ZM325 424.9h1V438.0h-1ZM326 424.0h1V433.4h-1ZM327 421.2h1V432.7h-1ZM328 422.5h1V431.6h-1ZM329 420.8h1V433.8h-1ZM330 420.3h1V429.9h-1ZM331 419.6h1V429.9h-1ZM332 418.6h1V429.0h-1ZM333 417.7h1V427.4h-1ZM334 416.8h1V426.9h-1ZM335 412.4h1V427.8h-1ZM336 412.7h1V426.1h-1ZM337 415.4h1V425.3h-1ZM338 413.6h1V424.4h-1ZM339 413.9h1V422.8h-1ZM340 412.5h1V422.5h-1ZM341 412.0h1V421.4h-1ZM342 410.8h1V420.7h-1ZM343 409.7h1V420.8h-1ZM344 408.9h1V420.1h-1ZM345 408.3h1V419.5h-1ZM346 407.4h1V418.1h-1ZM347 406.6h1V417.6h-1ZM348 406.8h1V416.2h-1ZM349 405.8h1V415.6h-1ZM350 404.4h1V414.9h-1ZM351 404.5h1V414.8h-1ZM352 403.0h1V413.4h-1ZM353 402.7h1V413.1h-1ZM354 401.3h1V412.3h-1ZM355 401.3h1V411.6h-1ZM356 399.8h1V411.6h-1ZM357 399.4h1V410.7h-1ZM358 399.4h1V409.9h-1ZM359 397.7h1V409.6h-1ZM360 397.3h1V408.3h-1ZM361 397.3h1V407.7h-1ZM362 396.6h1V407.4h-1ZM363 396.2h1V407.2h-1ZM364 395.7h1V406.9h-1ZM365 394.9h1V405.6h-1ZM366 390.1h1V409.8h-1ZM367 393.3h1V405.4h-1ZM368 393.7h1V406.5h-1ZM369 393.4h1V406.8h-1ZM370 390.2h1V403.5h-1ZM371 392.5h1V403.4h-1ZM372 392.4h1V402.8h-1ZM373 391.5h1V403.0h-1ZM374 391.1h1V404.7h-1ZM375 391.4h1V402.0h-1ZM376 390.5h1V406.3h-1ZM377 387.7h1V401.8h-1ZM378 390.4h1V401.6h-1ZM379 389.7h1V401.2h-1ZM380 389.5h1V404.5h-1ZM381 390.1h1V400.7h-1ZM382 386.5h1V401.6h-1ZM383 389.8h1V400.6h-1ZM384 389.1h1V404.0h-1ZM385 388.9h1V400.9h-1ZM386 387.3h1V400.8h-1ZM387 388.8h1V400.8h-1ZM388 388.3h1V400.0h-1ZM389 388.7h1V400.5h-1ZM390 388.2h1V401.8h-1ZM391 388.3h1V402.8h-1ZM392 387.6h1V402.4h-1ZM393 388.1h1V399.2h-1ZM394 385.7h1V399.2h-1ZM395 384.0h1V398.7h-1ZM396 386.8h1V398.5h-1ZM397 386.8h1V398.8h-1ZM398 384.9h1V398.5h-1ZM399 387.0h1V398.6h-1ZM400 386.7h1V400.4h-1ZM401 386.3h1V399.6h-1ZM402 385.6h1V398.2h-1ZM403 386.0h1V397.9h-1ZM404 385.5h1V397.5h-1ZM405 385.3h1V397.0h-1ZM406 385.1h1V396.6h-1ZM407 385.6h1V398.6h-1ZM408 385.2h1V400.4h-1ZM409 380.9h1V396.6h-1ZM410 383.3h1V396.5h-1ZM411 385.0h1V396.2h-1ZM412 384.5h1V396.2h-1ZM413 384.4h1V396.2h-1ZM414 384.3h1V399.8h-1ZM415 384.6h1V396.9h-1ZM416 384.3h1V396.7h-1ZM417 381.1h1V395.9h-1ZM418 384.9h1V396.1h-1ZM419 382.3h1V396.5h-1ZM420 385.0h1V396.8h-1ZM421 384.4h1V396.3h-1ZM422 380.8h1V396.7h-1ZM423 381.4h1V396.2h-1ZM424 384.3h1V396.7h-1ZM425 383.4h1V398.9h-1ZM426 384.8h1V396.3h-1ZM427 385.5h1V399.2h-1ZM428 384.8h1V397.0h-1ZM429 385.4h1V399.2h-1ZM430 385.1h1V397.2h-1ZM431 385.1h1V396.8h-1ZM432 384.0h1V397.7h-1ZM433 385.5h1V400.6h-1ZM434 384.4h1V397.0h-1ZM435 386.3h1V397.6h-1ZM436 382.8h1V402.3h-1ZM437 385.9h1V397.7h-1ZM438 383.1h1V398.6h-1ZM439 383.7h1V398.2h-1ZM440 387.5h1V398.2h-1ZM441 387.8h1V401.9h-1ZM442 387.2h1V398.8h-1ZM443 387.9h1V399.6h-1ZM444 388.3h1V399.4h-1ZM445 387.9h1V399.3h-1ZM446 388.2h1V399.7h-1ZM447 389.0h1V400.0h-1ZM448 389.2h1V400.4h-1ZM449 389.5h1V404.3h-1ZM450 390.3h1V401.1h-1ZM451 390.6h1V401.0h-1ZM452 391.0h1V401.6h-1ZM453 391.2h1V406.0h-1ZM454 391.6h1V404.9h-1ZM455 391.2h1V403.0h-1ZM456 392.2h1V404.8h-1ZM457 391.8h1V403.2h-1ZM458 392.9h1V404.4h-1ZM459 390.6h1V407.0h-1ZM460 392.9h1V405.1h-1ZM461 393.6h1V405.6h-1ZM462 393.9h1V408.7h-1ZM463 394.5h1V405.6h-1ZM464 395.1h1V406.1h-1ZM465 395.4h1V406.5h-1ZM466 393.7h1V410.4h-1ZM467 397.2h1V408.3h-1ZM468 395.0h1V407.7h-1ZM469 395.3h1V408.2h-1ZM470 398.0h1V409.2h-1ZM471 398.6h1V409.5h-1ZM472 399.1h1V413.7h-1ZM473 400.4h1V410.4h-1ZM474 400.6h1V411.9h-1ZM475 401.4h1V415.2h-1ZM476 401.7h1V416.4h-1ZM477 402.9h1V412.7h-1ZM478 400.0h1V413.7h-1ZM479 403.5h1V414.9h-1ZM480 404.7h1V414.9h-1ZM481 402.2h1V415.9h-1ZM482 406.2h1V416.8h-1ZM483 404.4h1V416.6h-1ZM484 407.2h1V419.6h-1ZM485 405.7h1V418.7h-1ZM486 408.4h1V418.9h-1ZM487 408.8h1V419.5h-1ZM488 410.2h1V422.3h-1ZM489 410.2h1V420.4h-1ZM490 407.5h1V422.1h-1ZM491 412.4h1V425.8h-1ZM492 412.3h1V422.8h-1ZM493 409.5h1V423.6h-1ZM494 413.9h1V423.7h-1ZM495 415.0h1V425.4h-1ZM496 415.8h1V426.3h-1ZM497 416.5h1V426.0h-1ZM498 417.6h1V427.5h-1ZM499 413.9h1V428.4h-1ZM500 418.8h1V428.2h-1ZM501 419.3h1V429.2h-1ZM502 420.7h1V432.3h-1ZM503 420.9h1V431.1h-1ZM504 421.9h1V435.4h-1ZM505 421.2h1V432.9h-1ZM506 423.3h1V433.4h-1ZM507 423.9h1V433.5h-1ZM508 425.4h1V434.7h-1ZM509 425.9h1V436.0h-1ZM510 424.6h1V435.7h-1ZM511 428.0h1V436.9h-1ZM512 427.8h1V437.4h-1ZM513 428.6h1V438.3h-1ZM514 429.8h1V442.1h-1ZM515 429.1h1V440.0h-1ZM516 430.8h1V441.9h-1ZM517 429.1h1V441.2h-1ZM518 432.7h1V441.2h-1ZM519 433.7h1V442.3h-1ZM520 434.1h1V443.1h-1ZM521 435.0h1V443.3h-1ZM522 435.6h1V444.2h-1ZM523 432.3h1V447.5h-1ZM524 436.6h1V444.6h-1ZM525 437.5h1V449.1h-1ZM526 437.2h1V449.4h-1ZM527 438.4h1V450.7h-1ZM528 438.9h1V451.1h-1ZM529 437.7h1V447.5h-1ZM530 439.7h1V448.6h-1ZM531 436.3h1V448.6h-1ZM532 441.4h1V449.3h-1ZM533 441.4h1V454.5h-1ZM534 441.9h1V450.6h-1ZM535 443.5h1V453.1h-1ZM536 441.4h1V456.1h-1ZM537 442.1h1V455.8h-1ZM538 445.0h1V453.6h-1ZM539 445.5h1V453.7h-1ZM540 444.2h1V458.3h-1ZM541 447.8h1V455.5h-1ZM542 448.5h1V456.6h-1ZM543 448.6h1V457.5h-1ZM544 449.6h1V460.2h-1ZM545 450.4h1V462.2h-1ZM546 452.1h1V459.2h-1ZM547 452.8h1V460.7h-1ZM548 453.1h1V463.7h-1ZM549 452.2h1V462.5h-1ZM550 454.9h1V462.5h-1ZM551 456.5h1V464.1h-1ZM552 457.2h1V464.5h-1ZM553 455.8h1V468.7h-1ZM554 457.0h1V466.1h-1ZM555 460.4h1V467.8h-1ZM556 461.2h1V471.7h-1ZM557 462.5h1V469.9h-1ZM558 462.7h1V470.8h-1ZM559 463.7h1V473.3h-1ZM560 462.6h1V472.4h-1ZM561 466.0h1V473.3h-1ZM562 466.9h1V474.0h-1ZM563 466.5h1V477.5h-1ZM564 468.7h1V479.6h-1ZM565 470.3h1V477.0h-1ZM566 470.6h1V477.6h-1ZM567 469.8h1V478.2h-1ZM568 473.5h1V479.1h-1ZM569 474.1h1V480.3h-1ZM570 471.9h1V482.1h-1ZM571 475.6h1V482.7h-1ZM572 477.0h1V486.8h-1ZM573 477.6h1V484.7h-1ZM574 474.7h1V485.1h-1ZM575 479.9h1V486.0h-1ZM576 479.3h1V487.0h-1ZM577 478.0h1V490.9h-1ZM578 480.3h1V491.3h-1ZM579 483.8h1V490.4h-1ZM580 485.3h1V494.4h-1ZM581 486.4h1V492.5h-1ZM582 487.0h1V497.0h-1ZM583 485.4h1V494.5h-1ZM584 488.2h1V497.1h-1ZM585 489.0h1V495.8h-1ZM586 491.0h1V497.7h-1ZM587 491.6h1V502.0h-1ZM588 492.8h1V500.9h-1ZM589 493.6h1V499.7h-1ZM590 493.7h1V504.6h-1ZM591 491.1h1V502.3h-1ZM592 495.5h1V503.1h-1ZM593 497.0h1V504.3h-1ZM594 497.8h1V506.7h-1ZM595 498.4h1V505.7h-1ZM596 499.4h1V509.7h-1ZM597 496.6h1V509.9h-1ZM598 500.3h1V512.2h-1ZM599 501.9h1V509.5h-1ZM600 502.7h1V509.5h-1ZM601 502.8h1V511.3h-1ZM602 503.7h1V512.0h-1ZM603 504.3h1V512.5h-1ZM604 505.4h1V512.9h-1ZM605 506.6h1V514.5h-1ZM606 507.5h1V514.4h-1ZM607 508.4h1V515.5h-1ZM608 506.2h1V516.3h-1ZM609 506.9h1V517.7h-1ZM610 509.7h1V517.9h-1ZM611 510.5h1V519.2h-1ZM612 511.9h1V520.0h-1ZM613 508.8h1V520.5h-1ZM614 513.6h1V523.1h-1ZM615 514.4h1V522.6h-1ZM616 514.7h1V523.3h-1ZM617 516.1h1V526.2h-1ZM618 516.1h1V525.5h-1ZM619 517.0h1V525.8h-1ZM620 517.8h1V527.2h-1ZM621 518.9h1V527.7h-1ZM622 519.6h1V528.8h-1ZM623 521.4h1V532.6h-1ZM624 519.0h1V530.3h-1ZM625 522.9h1V531.6h-1ZM626 520.6h1V535.6h-1ZM627 520.0h1V536.4h-1ZM628 525.2h1V533.9h-1ZM629 525.5h1V535.2h-1ZM630 526.2h1V535.4h-1ZM631 525.7h1V536.7h-1ZM632 528.8h1V537.3h-1ZM633 526.4h1V540.9h-1ZM634 530.2h1V543.0h-1ZM635 530.7h1V540.7h-1ZM636 528.1h1V540.8h-1ZM637 532.4h1V541.9h-1ZM638 533.3h1V545.7h-1ZM639 534.6h1V543.2h-1ZM640 534.4h1V544.9h-1ZM641 535.4h1V545.8h-1ZM642 536.6h1V546.4h-1ZM643 537.4h1V546.9h-1ZM644 537.3h1V547.2h-1ZM645 539.1h1V550.1h-1ZM646 539.8h1V549.8h-1ZM647 539.7h1V550.0h-1ZM648 541.4h1V550.4h-1ZM649 541.9h1V551.7h-1ZM650 542.4h1V552.7h-1ZM651 539.7h1V552.9h-1ZM652 540.8h1V553.8h-1ZM653 545.0h1V555.1h-1ZM654 544.9h1V557.8h-1ZM655 545.3h1V556.2h-1ZM656 546.4h1V557.4h-1ZM657 547.6h1V557.9h-1ZM658 548.4h1V558.8h-1ZM659 548.4h1V558.8h-1ZM660 549.0h1V559.8h-1ZM661 550.0h1V560.7h-1ZM662 550.6h1V560.7h-1ZM663 551.2h1V561.9h-1ZM664 552.2h1V562.2h-1ZM665 552.5h1V563.2h-1ZM666 551.2h1V563.6h-1ZM667 553.9h1V564.5h-1ZM668 553.5h1V568.0h-1ZM669 555.0h1V565.7h-1ZM670 554.8h1V567.7h-1ZM671 555.9h1V566.7h-1ZM672 556.7h1V566.5h-1ZM673 556.8h1V569.8h-1ZM674 557.4h1V567.6h-1ZM675 557.6h1V568.1h-1ZM676 558.3h1V568.8h-1ZM677 558.8h1V573.3h-1ZM678 558.6h1V569.7h-1ZM679 559.3h1V573.7h-1ZM680 560.3h1V570.7h-1ZM681 557.3h1V571.7h-1ZM682 560.7h1V575.3h-1ZM683 560.9h1V572.2h-1ZM684 561.2h1V572.8h-1ZM685 561.8h1V573.0h-1ZM686 560.7h1V574.2h-1ZM687 563.2h1V574.0h-1ZM688 563.1h1V575.1h-1ZM689 563.8h1V579.3h-1ZM690 564.2h1V575.8h-1ZM691 564.2h1V576.0h-1ZM692 565.1h1V576.6h-1ZM693 565.0h1V576.5h-1ZM694 565.4h1V577.2h-1ZM695 564.8h1V581.9h-1ZM696 566.8h1V581.1h-1ZM697 567.0h1V578.7h-1ZM698 568.4h1V582.9h-1ZM699 568.6h1V579.6h-1ZM700 568.7h1V579.9h-1ZM701 569.2h1V581.3h-1ZM702 569.9h1V581.0h-1ZM703 570.8h1V581.9h-1ZM704 571.1h1V582.0h-1ZM705 571.7h1V583.2h-1ZM706 572.2h1V586.2h-1ZM707 571.9h1V583.7h-1ZM708 572.4h1V584.9h-1ZM709 573.3h1V585.2h-1ZM710 573.4h1V584.8h-1ZM711 573.4h1V585.5h-1ZM712 574.2h1V586.5h-1ZM713 574.3h1V586.9h-1ZM714 572.9h1V587.2h-1ZM715 574.9h1V587.4h-1ZM716 571.8h1V588.0h-1ZM717 575.1h1V587.1h-1ZM718 571.6h1V587.8h-1ZM719 572.4h1V588.8h-1ZM720 576.8h1V588.5h-1ZM721 572.4h1V588.6h-1ZM722 576.4h1V588.5h-1ZM723 576.8h1V588.5h-1ZM724 576.6h1V589.2h-1ZM725 577.5h1V589.7h-1ZM726 577.4h1V593.1h-1ZM727 577.2h1V590.0h-1ZM728 578.1h1V592.5h-1ZM729 578.0h1V589.7h-1ZM730 578.0h1V590.1h-1ZM731 577.4h1V590.0h-1ZM732 574.3h1V590.6h-1ZM733 574.3h1V590.7h-1ZM734 576.4h1V590.7h-1ZM735 578.1h1V590.3h-1ZM736 578.7h1V594.8h-1ZM737 578.8h1V592.1h-1ZM738 578.8h1V590.4h-1ZM739 578.6h1V590.5h-1ZM740 577.8h1V590.1h-1ZM741 578.9h1V590.4h-1ZM742 578.5h1V590.0h-1ZM743 577.8h1V592.2h-1ZM744 578.4h1V592.5h-1ZM745 578.8h1V590.3h-1ZM746 578.1h1V590.5h-1ZM747 578.4h1V594.9h-1ZM748 578.0h1V590.1h-1ZM749 578.1h1V592.7h-1ZM750 578.0h1V591.0h-1ZM751 578.4h1V590.4h-1ZM752 577.6h1V589.9h-1ZM753 578.6h1V589.7h-1ZM754 578.1h1V592.6h-1ZM755 578.2h1V592.0h-1ZM756 578.1h1V589.9h-1ZM757 578.0h1V592.7h-1ZM758 577.4h1V590.2h-1ZM759 574.0h1V591.7h-1ZM760 573.0h1V590.0h-1ZM761 577.4h1V589.0h-1ZM762 576.5h1V589.5h-1ZM763 577.4h1V588.6h-1ZM764 576.5h1V589.1h-1ZM765 576.7h1V592.3h-1ZM766 575.8h1V588.2h-1ZM767 576.3h1V588.0h-1ZM768 576.3h1V587.8h-1ZM769 574.2h1V588.3h-1ZM770 576.0h1V590.6h-1ZM771 573.4h1V590.5h-1ZM772 572.8h1V587.2h-1ZM773 574.5h1V587.2h-1ZM774 574.8h1V586.5h-1ZM775 574.7h1V586.8h-1ZM776 574.0h1V586.0h-1ZM777 574.2h1V585.9h-1ZM778 573.1h1V585.0h-1ZM779 570.9h1V585.2h-1ZM780 570.0h1V585.1h-1ZM781 572.0h1V584.7h-1ZM782 571.7h1V584.4h-1ZM783 572.1h1V584.0h-1ZM784 571.6h1V583.3h-1ZM785 570.6h1V583.4h-1ZM786 570.3h1V582.2h-1ZM787 570.2h1V585.9h-1ZM788 570.1h1V581.6h-1ZM789 570.3h1V580.9h-1ZM790 569.9h1V581.3h-1ZM791 568.8h1V584.6h-1ZM792 565.5h1V580.4h-1ZM793 568.1h1V581.9h-1ZM794 567.8h1V579.9h-1ZM795 567.0h1V578.5h-1ZM796 562.7h1V578.9h-1ZM797 566.6h1V577.5h-1ZM798 566.2h1V581.5h-1ZM799 565.3h1V576.5h-1ZM800 565.6h1V576.7h-1ZM801 565.0h1V575.4h-1ZM802 563.8h1V575.9h-1ZM803 563.5h1V578.3h-1ZM804 563.4h1V574.2h-1ZM805 562.3h1V574.5h-1ZM806 562.7h1V575.2h-1ZM807 558.3h1V572.8h-1ZM808 561.1h1V575.2h-1ZM809 560.8h1V572.1h-1ZM810 560.1h1V571.2h-1ZM811 559.7h1V570.1h-1ZM812 559.5h1V569.6h-1ZM813 557.9h1V569.8h-1ZM814 558.1h1V568.7h-1ZM815 553.1h1V567.8h-1ZM816 557.3h1V570.0h-1ZM817 553.0h1V567.3h-1ZM818 555.8h1V566.1h-1ZM819 555.5h1V565.9h-1ZM820 554.1h1V564.9h-1ZM821 554.5h1V564.5h-1ZM822 553.2h1V563.5h-1ZM823 549.1h1V565.8h-1ZM824 552.4h1V566.0h-1ZM825 550.9h1V562.5h-1ZM826 551.0h1V561.6h-1ZM827 549.9h1V560.8h-1ZM828 547.7h1V562.6h-1ZM829 549.3h1V559.9h-1ZM830 548.7h1V559.2h-1ZM831 547.1h1V558.4h-1ZM832 547.7h1V560.4h-1ZM833 546.7h1V557.1h-1ZM834 546.3h1V556.1h-1ZM835 545.1h1V555.1h-1ZM836 543.9h1V555.1h-1ZM837 544.1h1V553.3h-1ZM838 542.7h1V554.8h-1ZM839 542.7h1V552.9h-1ZM840 541.5h1V553.4h-1ZM841 540.5h1V550.3h-1ZM842 540.6h1V550.3h-1ZM843 538.8h1V548.9h-1ZM844 538.2h1V548.8h-1ZM845 533.8h1V547.4h-1ZM846 534.4h1V545.8h-1ZM847 535.3h1V544.8h-1ZM848 535.1h1V546.4h-1ZM849 529.7h1V543.7h-1ZM850 533.2h1V541.9h-1ZM851 531.8h1V541.2h-1ZM852 531.1h1V539.9h-1ZM853 530.7h1V539.9h-1ZM854 529.4h1V538.6h-1ZM855 528.6h1V538.6h-1ZM856 528.4h1V537.9h-1ZM857 528.5h1V539.7h-1ZM858 523.8h1V536.8h-1ZM859 526.6h1V536.3h-1ZM860 526.5h1V535.6h-1ZM861 526.0h1V534.8h-1ZM862 525.7h1V536.8h-1ZM863 524.5h1V533.5h-1ZM864 524.6h1V533.3h-1ZM865 522.9h1V535.7h-1ZM866 522.1h1V531.2h-1ZM867 522.1h1V532.9h-1ZM868 521.4h1V529.4h-1ZM869 519.9h1V528.7h-1ZM870 519.7h1V527.7h-1ZM871 517.8h1V526.8h-1ZM872 517.0h1V526.2h-1ZM873 516.0h1V528.2h-1ZM874 514.8h1V523.2h-1ZM875 511.3h1V525.0h-1ZM876 513.5h1V524.6h-1ZM877 512.0h1V519.7h-1ZM878 511.3h1V519.1h-1ZM879 509.8h1V518.1h-1ZM880 508.4h1V516.8h-1ZM881 507.8h1V518.0h-1ZM882 505.9h1V514.5h-1ZM883 500.9h1V512.4h-1ZM884 504.4h1V511.9h-1ZM885 499.6h1V510.3h-1ZM886 500.9h1V508.5h-1ZM887 500.2h1V508.1h-1ZM888 499.1h1V506.3h-1ZM889 495.3h1V505.3h-1ZM890 494.3h1V503.6h-1ZM891 496.4h1V502.6h-1ZM892 495.1h1V502.1h-1ZM893 493.6h1V501.8h-1ZM894 492.8h1V500.2h-1ZM895 493.1h1V499.4h-1ZM896 491.2h1V499.0h-1ZM897 490.7h1V497.7h-1ZM898 489.8h1V496.9h-1ZM899 489.6h1V499.4h-1ZM900 489.0h1V498.7h-1ZM901 487.7h1V499.0h-1ZM902 484.9h1V493.7h-1ZM903 486.4h1V493.0h-1ZM904 482.0h1V492.2h-1ZM905 483.4h1V491.9h-1ZM906 484.7h1V490.5h-1ZM907 484.1h1V490.1h-1ZM908 480.9h1V489.5h-1ZM909 482.4h1V489.0h-1ZM910 481.4h1V491.0h-1ZM911 480.5h1V487.1h-1ZM912 479.6h1V486.3h-1ZM913 478.5h1V484.6h-1ZM914 478.3h1V484.0h-1ZM915 473.8h1V485.1h-1ZM916 471.0h1V480.9h-1ZM917 471.3h1V480.6h-1ZM918 472.0h1V478.8h-1ZM919 470.1h1V479.7h-1ZM920 465.7h1V475.8h-1ZM921 463.9h1V474.9h-1ZM922 461.9h1V473.1h-1ZM923 465.2h1V475.3h-1ZM924 463.6h1V472.5h-1ZM925 458.3h1V468.9h-1ZM926 460.3h1V468.0h-1ZM927 455.4h1V470.4h-1ZM928 458.9h1V465.7h-1ZM929 457.3h1V465.5h-1ZM930 456.4h1V464.6h-1ZM931 456.4h1V464.2h-1ZM932 453.8h1V463.9h-1ZM933 455.6h1V462.5h-1ZM934 454.7h1V463.1h-1ZM935 455.1h1V462.1h-1ZM936 453.7h1V462.1h-1ZM937 453.7h1V461.5h-1ZM938 450.5h1V462.5h-1ZM939 452.3h1V460.5h-1ZM940 452.1h1V460.0h-1ZM941 450.3h1V458.7h-1ZM942 450.0h1V457.7h-1ZM943 449.1h1V457.2h-1ZM944 445.9h1V459.6h-1ZM945 446.0h1V454.6h-1ZM946 445.2h1V455.7h-1ZM947 444.3h1V452.3h-1ZM948 439.4h1V454.0h-1ZM949 441.2h1V454.5h-1ZM950 440.9h1V448.6h-1ZM951 439.1h1V448.1h-1ZM952 435.6h1V447.4h-1ZM953 437.1h1V446.2h-1ZM954 435.7h1V445.2h-1ZM955 432.4h1V444.2h-1ZM956 433.5h1V442.7h-1ZM957 432.6h1V442.5h-1ZM958 432.6h1V440.7h-1ZM959 429.1h1V440.3h-1ZM960 430.8h1V442.2h-1ZM961 429.6h1V438.6h-1ZM962 429.3h1V437.9h-1ZM963 428.3h1V438.4h-1ZM964 428.3h1V436.8h-1ZM965 426.9h1V436.7h-1ZM966 427.1h1V435.7h-1ZM967 425.6h1V435.4h-1ZM968 425.4h1V434.4h-1ZM969 424.4h1V437.7h-1ZM970 424.6h1V433.7h-1ZM971 424.2h1V436.3h-1ZM972 423.4h1V432.1h-1ZM973 422.4h1V432.1h-1ZM974 421.4h1V435.5h-1ZM975 420.7h1V430.2h-1ZM976 420.8h1V429.7h-1ZM977 419.4h1V428.8h-1ZM978 419.4h1V430.4h-1ZM979 417.8h1V431.4h-1ZM980 413.2h1V427.8h-1ZM981 417.2h1V427.0h-1ZM982 416.4h1V425.9h-1ZM983 415.2h1V425.1h-1ZM984 414.2h1V424.8h-1ZM985 413.7h1V424.2h-1ZM986 413.3h1V422.7h-1ZM987 412.0h1V422.5h-1ZM988 408.6h1V421.6h-1ZM989 409.1h1V421.6h-1ZM990 408.3h1V420.5h-1ZM991 406.8h1V420.1h-1ZM992 408.4h1V421.5h-1ZM993 407.7h1V418.2h-1ZM994 408.2h1V417.6h-1ZM995 405.5h1V417.1h-1ZM996 402.1h1V416.9h-1ZM997 406.2h1V416.1h-1ZM998 403.0h1V415.9h-1ZM999 400.5h1V415.4h-1ZM1000 404.0h1V414.4h-1ZM1001 403.9h1V414.4h-1ZM1002 398.9h1V414.1h-1ZM1003 402.1h1V413.1h-1ZM1004 402.0h1V413.2h-1ZM1005 401.0h1V411.7h-1ZM1006 397.2h1V412.0h-1ZM1007 400.1h1V411.4h-1ZM1008 400.2h1V410.3h-1ZM1009 395.7h1V413.6h-1ZM1010 396.5h1V410.0h-1ZM1011 398.5h1V411.1h-1ZM1012 397.5h1V408.8h-1ZM1013 396.9h1V410.5h-1ZM1014 396.6h1V407.7h-1ZM1015 395.2h1V407.2h-1ZM1016 394.8h1V405.8h-1ZM1017 390.8h1V405.4h-1ZM1018 393.2h1V404.6h-1ZM1019 392.2h1V404.1h-1ZM1020 389.8h1V403.2h-1ZM1021 391.8h1V403.4h-1ZM1022 391.4h1V402.7h-1ZM1023 390.5h1V401.4h-1ZM1024 389.2h1V401.5h-1ZM1025 389.0h1V404.9h-1ZM1026 388.7h1V399.7h-1ZM1027 387.8h1V399.1h-1ZM1028 383.7h1V399.3h-1ZM1029 387.0h1V398.2h-1ZM1030 383.0h1V398.3h-1ZM1031 385.7h1V397.8h-1ZM1032 386.5h1V397.9h-1ZM1033 386.0h1V398.9h-1ZM1034 385.7h1V399.0h-1ZM1035 380.8h1V396.8h-1ZM1036 384.6h1V399.0h-1ZM1037 383.9h1V396.2h-1ZM1038 384.5h1V396.1h-1ZM1039 381.8h1V396.0h-1ZM1040 380.3h1V395.4h-1ZM1041 383.1h1V395.2h-1ZM1042 382.9h1V395.4h-1ZM1043 383.0h1V394.6h-1ZM1044 383.7h1V394.5h-1ZM1045 381.0h1V394.8h-1ZM1046 382.3h1V394.2h-1ZM1047 383.0h1V394.3h-1ZM1048 382.7h1V394.4h-1ZM1049 383.1h1V394.1h-1ZM1050 382.2h1V396.0h-1ZM1051 382.9h1V394.1h-1ZM1052 378.4h1V393.9h-1ZM1053 378.3h1V398.4h-1ZM1054 382.3h1V394.4h-1ZM1055 381.7h1V398.3h-1ZM1056 381.4h1V393.8h-1ZM1057 381.7h1V393.9h-1ZM1058 379.9h1V393.5h-1ZM1059 381.5h1V394.2h-1ZM1060 381.9h1V395.8h-1ZM1061 382.0h1V393.2h-1ZM1062 377.9h1V393.8h-1ZM1063 378.7h1V393.2h-1ZM1064 381.7h1V393.6h-1ZM1065 381.3h1V393.6h-1ZM1066 382.0h1V393.3h-1ZM1067 379.9h1V393.9h-1ZM1068 382.0h1V393.3h-1ZM1069 382.0h1V394.4h-1ZM1070 382.4h1V393.8h-1ZM1071 377.9h1V394.5h-1ZM1072 382.5h1V394.4h-1ZM1073 382.7h1V394.2h-1ZM1074 381.9h1V395.7h-1ZM1075 382.6h1V398.7h-1ZM1076 382.9h1V393.9h-1ZM1077 383.0h1V397.5h-1ZM1078 382.3h1V394.3h-1ZM1079 382.3h1V394.3h-1ZM1080 380.5h1V395.4h-1ZM1081 382.7h1V395.6h-1ZM1082 383.6h1V395.5h-1ZM1083 383.6h1V395.0h-1ZM1084 383.9h1V395.2h-1ZM1085 383.9h1V395.5h-1ZM1086 383.8h1V399.6h-1ZM1087 384.3h1V395.3h-1ZM1088 384.6h1V395.5h-1ZM1089 383.9h1V396.5h-1ZM1090 382.3h1V397.0h-1ZM1091 385.4h1V396.6h-1ZM1092 385.1h1V400.5h-1ZM1093 381.9h1V396.6h-1ZM1094 385.0h1V397.1h-1ZM1095 385.4h1V397.6h-1ZM1096 386.3h1V401.2h-1ZM1097 386.4h1V397.8h-1ZM1098 386.8h1V398.5h-1ZM1099 382.8h1V400.1h-1ZM1100 387.3h1V398.6h-1ZM1101 386.9h1V399.2h-1ZM1102 383.5h1V399.9h-1ZM1103 388.1h1V403.5h-1ZM1104 388.1h1V400.4h-1ZM1105 386.8h1V399.8h-1ZM1106 388.7h1V404.4h-1ZM1107 389.2h1V401.3h-1ZM1108 390.3h1V401.8h-1ZM1109 390.0h1V405.0h-1ZM1110 387.4h1V402.4h-1ZM1111 390.5h1V403.0h-1ZM1112 390.9h1V402.6h-1ZM1113 392.3h1V402.7h-1ZM1114 391.8h1V403.6h-1ZM1115 392.2h1V403.7h-1ZM1116 392.9h1V404.8h-1ZM1117 393.9h1V404.3h-1ZM1118 394.2h1V407.8h-1ZM1119 394.5h1V405.8h-1ZM1120 394.7h1V405.4h-1ZM1121 394.9h1V406.0h-1ZM1122 396.1h1V406.4h-1ZM1123 396.8h1V410.4h-1ZM1124 393.4h1V408.4h-1ZM1125 397.0h1V408.4h-1ZM1126 397.5h1V410.6h-1ZM1127 396.9h1V409.2h-1ZM1128 399.4h1V409.8h-1ZM1129 399.3h1V410.4h-1ZM1130 400.7h1V413.3h-1ZM1131 397.0h1V411.3h-1ZM1132 401.9h1V411.8h-1ZM1133 400.3h1V414.9h-1ZM1134 402.5h1V413.7h-1ZM1135 403.6h1V418.0h-1ZM1136 404.0h1V415.7h-1ZM1137 405.3h1V415.4h-1ZM1138 405.6h1V416.3h-1ZM1139 407.4h1V417.8h-1ZM1140 407.6h1V418.5h-1ZM1141 408.5h1V418.9h-1ZM1142 409.7h1V420.3h-1ZM1143 410.3h1V421.1h-1ZM1144 411.6h1V424.6h-1ZM1145 411.7h1V422.0h-1ZM1146 413.6h1V427.2h-1ZM1147 414.3h1V423.9h-1ZM1148 414.7h1V427.9h-1ZM1149 412.2h1V425.4h-1ZM1150 416.8h1V426.4h-1ZM1151 417.7h1V427.1h-1ZM1152 418.7h1V432.4h-1ZM1153 419.1h1V428.7h-1ZM1154 419.8h1V433.8h-1ZM1155 420.6h1V432.9h-1ZM1156 421.6h1V434.9h-1ZM1157 418.8h1V432.1h-1ZM1158 422.6h1V433.2h-1ZM1159 424.3h1V433.8h-1ZM1160 424.9h1V434.2h-1ZM1161 425.6h1V434.9h-1ZM1162 426.0h1V435.0h-1ZM1163 426.3h1V439.4h-1ZM1164 427.1h1V436.7h-1ZM1165 428.4h1V437.0h-1ZM1166 425.2h1V437.8h-1ZM1167 429.0h1V438.5h-1ZM1168 429.7h1V439.2h-1ZM1169 430.5h1V440.1h-1ZM1170 431.8h1V440.1h-1ZM1171 432.1h1V440.8h-1ZM1172 433.4h1V441.8h-1ZM1173 433.6h1V445.6h-1ZM1174 434.4h1V443.8h-1ZM1175 435.3h1V444.3h-1ZM1176 436.0h1V444.5h-1ZM1177 436.9h1V446.9h-1ZM1178 437.8h1V445.7h-1ZM1179 438.3h1V446.2h-1ZM1180 438.9h1V447.7h-1ZM1181 439.8h1V448.0h-1ZM1182 440.2h1V448.8h-1ZM1183 441.7h1V449.5h-1ZM1184 441.5h1V450.2h-1ZM1185 440.0h1V451.4h-1ZM1186 443.2h1V452.3h-1ZM1187 444.3h1V457.1h-1ZM1188 445.7h1V457.7h-1ZM1189 446.7h1V454.2h-1ZM1190 447.2h1V455.6h-1ZM1191 447.5h1V455.9h-1ZM1192 448.6h1V456.4h-1ZM1193 450.1h1V460.7h-1ZM1194 447.7h1V459.8h-1ZM1195 450.8h1V459.1h-1ZM1196 451.9h1V464.0h-1ZM1197 453.5h1V461.3h-1ZM1198 454.3h1V461.9h-1ZM1199 455.0h1V464.2h-1ZM1200 456.1h1V463.1h-1ZM1201 457.2h1V464.1h-1ZM1202 457.4h1V465.9h-1ZM1203 458.3h1V465.7h-1ZM1204 460.0h1V470.7h-1ZM1205 461.0h1V468.2h-1ZM1206 461.8h1V469.6h-1ZM1207 463.2h1V472.9h-1ZM1208 464.6h1V472.9h-1ZM1209 465.2h1V472.5h-1ZM1210 465.9h1V473.6h-1ZM1211 464.5h1V474.4h-1ZM1212 468.9h1V475.9h-1ZM1213 469.7h1V476.3h-1ZM1214 471.3h1V481.2h-1ZM1215 468.6h1V479.6h-1ZM1216 473.8h1V479.7h-1ZM1217 475.3h1V483.4h-1ZM1218 472.3h1V482.8h-1ZM1219 473.6h1V483.4h-1ZM1220 477.7h1V484.6h-1ZM1221 479.5h1V485.9h-1ZM1222 480.3h1V486.2h-1ZM1223 481.1h1V488.0h-1ZM1224 482.1h1V491.2h-1ZM1225 483.5h1V489.7h-1ZM1226 484.0h1V490.6h-1ZM1227 485.1h1V491.7h-1ZM1228 486.6h1V495.2h-1ZM1229 487.9h1V494.2h-1ZM1230 488.6h1V498.4h-1ZM1231 489.3h1V496.5h-1ZM1232 490.5h1V496.8h-1ZM1233 491.3h1V498.2h-1ZM1234 490.3h1V499.3h-1ZM1235 489.0h1V499.7h-1ZM1236 494.4h1V500.7h-1ZM1237 494.6h1V502.3h-1ZM1238 495.8h1V502.7h-1ZM1239 496.7h1V504.2h-1ZM1240 497.2h1V506.3h-1ZM1241 498.9h1V505.1h-1ZM1242 499.5h1V506.4h-1ZM1243 496.2h1V507.7h-1ZM1244 500.3h1V508.6h-1ZM1245 501.7h1V512.3h-1ZM1246 503.0h1V509.9h-1ZM1247 503.8h1V511.2h-1ZM1248 500.4h1V512.1h-1ZM1249 504.6h1V515.1h-1ZM1250 505.3h1V515.8h-1ZM1251 506.9h1V514.3h-1ZM1252 506.9h1V519.1h-1ZM1253 507.7h1V515.8h-1ZM1254 508.0h1V516.9h-1ZM1255 509.3h1V517.0h-1ZM1256 509.7h1V517.7h-1ZM1257 510.8h1V518.9h-1ZM1258 511.1h1V519.2h-1ZM1259 512.6h1V519.8h-1ZM1260 512.8h1V520.5h-1ZM1261 513.1h1V521.5h-1ZM1262 514.8h1V522.6h-1ZM1263 514.5h1V523.7h-1ZM1264 512.7h1V524.2h-1ZM1265 516.6h1V524.8h-1ZM1266 516.6h1V525.4h-1ZM1267 517.3h1V526.5h-1ZM1268 518.5h1V527.5h-1ZM1269 519.2h1V528.2h-1Z"/>
<path fill="#d8ffd8" d="M70 462.8h1V470.6h-1ZM71 460.1h1V471.5h-1ZM72 461.8h1V468.4h-1ZM73 460.7h1V468.1h-1ZM74 457.6h1V471.2h-1ZM75 458.7h1V466.8h-1ZM76 457.9h1V466.2h-1ZM77 457.2h1V464.9h-1ZM78 456.8h1V463.8h-1ZM79 455.5h1V463.8h-1ZM80 454.8h1V466.2h-1ZM81 454.7h1V465.0h-1ZM82 453.6h1V461.2h-1ZM83 449.9h1V460.2h-1ZM84 449.4h1V463.1h-1ZM85 451.2h1V459.5h-1ZM86 448.5h1V458.6h-1ZM87 449.8h1V457.9h-1ZM88 448.2h1V460.6h-1ZM89 447.5h1V460.1h-1ZM90 446.6h1V458.3h-1ZM91 445.9h1V454.4h-1ZM92 445.3h1V456.8h-1ZM93 442.0h1V455.8h-1ZM94 443.1h1V454.3h-1ZM95 442.7h1V455.0h-1ZM96 439.0h1V449.9h-1ZM97 437.5h1V449.2h-1ZM98 436.9h1V448.4h-1ZM99 438.3h1V446.7h-1ZM100 434.4h1V446.3h-1ZM101 436.1h1V444.8h-1ZM102 435.5h1V443.9h-1ZM103 431.8h1V445.8h-1ZM104 429.6h1V441.6h-1ZM105 432.6h1V441.3h-1ZM106 431.5h1V439.9h-1ZM107 430.8h1V439.1h-1ZM108 429.5h1V440.3h-1ZM109 428.4h1V438.2h-1ZM110 424.4h1V440.5h-1ZM111 426.0h1V435.4h-1ZM112 423.4h1V434.5h-1ZM113 424.8h1V434.4h-1ZM114 420.2h1V433.8h-1ZM115 422.4h1V432.5h-1ZM116 421.6h1V431.2h-1ZM117 418.2h1V430.9h-1ZM118 419.9h1V429.6h-1ZM119 418.1h1V428.9h-1ZM120 418.4h1V429.0h-1ZM121 417.9h1V428.1h-1ZM122 417.0h1V429.5h-1ZM123 416.6h1V426.8h-1ZM124 416.4h1V427.9h-1ZM125 414.5h1V425.5h-1ZM126 414.4h1V424.7h-1ZM127 413.9h1V424.2h-1ZM128 413.3h1V423.0h-1ZM129 409.1h1V426.2h-1ZM130 409.8h1V421.5h-1ZM131 410.8h1V421.5h-1ZM132 406.5h1V420.3h-1ZM133 410.0h1V419.3h-1ZM134 409.2h1V422.0h-1ZM135 408.4h1V418.6h-1ZM136 407.4h1V420.6h-1ZM137 406.9h1V416.7h-1ZM138 406.2h1V416.9h-1ZM139 401.3h1V416.4h-1ZM140 404.5h1V415.6h-1ZM141 404.4h1V418.3h-1ZM142 404.0h1V414.3h-1ZM143 402.5h1V413.4h-1ZM144 402.1h1V412.8h-1ZM145 401.6h1V412.1h-1ZM146 400.3h1V411.5h-1ZM147 397.4h1V411.4h-1ZM148 399.0h1V410.4h-1ZM149 398.6h1V411.9h-1ZM150 395.9h1V409.8h-1ZM151 393.5h1V408.3h-1ZM152 397.5h1V409.9h-1ZM153 393.9h1V409.4h-1ZM154 392.3h1V409.1h-1ZM155 394.8h1V406.6h-1ZM156 394.3h1V405.4h-1ZM157 390.8h1V405.3h-1ZM158 393.9h1V404.7h-1ZM159 393.2h1V404.3h-1ZM160 391.9h1V404.0h-1ZM161 388.5h1V407.2h-1ZM162 391.6h1V402.3h-1ZM163 391.2h1V401.7h-1ZM164 390.2h1V402.0h-1ZM165 390.0h1V400.6h-1ZM166 389.8h1V404.6h-1ZM167 388.8h1V399.9h-1ZM168 385.3h1V399.4h-1ZM169 388.4h1V399.7h-1ZM170 387.8h1V399.0h-1ZM171 386.4h1V398.7h-1ZM172 386.4h1V398.5h-1ZM173 386.1h1V401.5h-1ZM174 385.6h1V397.3h-1ZM175 384.7h1V396.9h-1ZM176 384.8h1V396.8h-1ZM177 384.0h1V396.2h-1ZM178 384.3h1V395.6h-1ZM179 383.0h1V397.8h-1ZM180 383.2h1V394.6h-1ZM181 382.8h1V394.1h-1ZM182 382.0h1V394.4h-1ZM183 382.6h1V393.9h-1ZM184 381.6h1V394.1h-1ZM185 377.1h1V397.7h-1ZM186 381.2h1V393.1h-1ZM187 381.4h1V393.0h-1ZM188 381.0h1V393.1h-1ZM189 380.4h1V396.2h-1ZM190 376.5h1V392.7h-1ZM191 376.1h1V391.3h-1ZM192 379.9h1V392.3h-1ZM193 379.5h1V391.3h-1ZM194 379.8h1V390.9h-1ZM195 379.6h1V390.7h-1ZM196 375.8h1V391.6h-1ZM197 378.3h1V394.3h-1ZM198 379.2h1V393.1h-1ZM199 378.4h1V391.0h-1ZM200 375.1h1V390.4h-1ZM201 378.9h1V390.7h-1ZM202 379.0h1V390.4h-1ZM203 378.1h1V390.9h-1ZM204 378.8h1V390.7h-1ZM205 378.4h1V394.4h-1ZM206 378.6h1V390.5h-1ZM207 378.7h1V394.6h-1ZM208 379.0h1V390.1h-1ZM209 378.3h1V391.1h-1ZM210 375.4h1V390.6h-1ZM211 378.6h1V391.2h-1ZM212 378.3h1V391.2h-1ZM213 378.2h1V390.8h-1ZM214 379.0h1V390.2h-1ZM215 378.4h1V391.2h-1ZM216 379.1h1V394.0h-1ZM217 379.3h1V391.4h-1ZM218 378.6h1V390.4h-1ZM219 379.2h1V394.2h-1ZM220 379.5h1V390.5h-1ZM221 376.6h1V391.4h-1ZM222 379.2h1V390.7h-1ZM223 379.7h1V394.9h-1ZM224 379.0h1V391.8h-1ZM225 379.7h1V395.8h-1ZM226 377.4h1V392.0h-1ZM227 379.2h1V391.1h-1ZM228 380.1h1V392.3h-1ZM229 376.2h1V391.4h-1ZM230 380.0h1V392.1h-1ZM231 377.4h1V392.6h-1ZM232 376.2h1V394.3h-1ZM233 380.8h1V395.8h-1ZM234 381.0h1V392.2h-1ZM235 380.2h1V392.7h-1ZM236 381.2h1V392.6h-1ZM237 381.0h1V392.7h-1ZM238 377.5h1V393.8h-1ZM239 381.5h1V393.7h-1ZM240 381.9h1V393.4h-1ZM241 378.1h1V394.5h-1ZM242 382.9h1V393.9h-1ZM243 382.8h1V394.6h-1ZM244 379.9h1V394.8h-1ZM245 383.4h1V397.4h-1ZM246 383.0h1V395.1h-1ZM247 383.4h1V395.3h-1ZM248 384.7h1V398.1h-1ZM249 384.0h1V396.0h-1ZM250 385.4h1V399.7h-1ZM251 385.3h1V396.3h-1ZM252 385.9h1V396.7h-1ZM253 386.5h1V397.2h-1ZM254 382.6h1V398.5h-1ZM255 386.6h1V397.8h-1ZM256 386.9h1V399.0h-1ZM257 387.7h1V399.2h-1ZM258 387.4h1V399.6h-1ZM259 387.9h1V399.8h-1ZM260 388.5h1V400.4h-1ZM261 389.2h1V400.5h-1ZM262 390.2h1V401.3h-1ZM263 388.2h1V402.1h-1ZM264 390.4h1V402.1h-1ZM265 391.4h1V402.1h-1ZM266 391.8h1V403.8h-1ZM267 392.6h1V404.2h-1ZM268 390.3h1V404.1h-1ZM269 393.3h1V408.0h-1ZM270 391.5h1V404.9h-1ZM271 390.9h1V406.1h-1ZM272 395.9h1V406.9h-1ZM273 396.1h1V410.0h-1ZM274 396.6h1V408.5h-1ZM275 397.8h1V410.5h-1ZM276 398.7h1V409.0h-1ZM277 399.6h1V410.4h-1ZM278 400.4h1V410.7h-1ZM279 398.9h1V415.7h-1ZM280 397.4h1V412.9h-1ZM281 402.7h1V416.4h-1ZM282 402.9h1V413.4h-1ZM283 403.7h1V414.3h-1ZM284 405.3h1V415.1h-1ZM285 405.9h1V415.8h-1ZM286 406.3h1V418.7h-1ZM287 406.4h1V417.0h-1ZM288 408.2h1V418.8h-1ZM289 409.0h1V419.0h-1ZM290 408.7h1V419.4h-1ZM291 406.8h1V420.3h-1ZM292 411.0h1V421.5h-1ZM293 411.1h1V421.2h-1ZM294 408.8h1V422.5h-1ZM295 412.4h1V422.9h-1ZM296 413.1h1V423.6h-1ZM297 413.7h1V426.3h-1ZM298 414.7h1V424.9h-1ZM299 415.9h1V425.1h-1ZM300 416.2h1V426.3h-1ZM301 416.8h1V426.9h-1ZM302 418.2h1V427.9h-1ZM303 418.1h1V427.9h-1ZM304 419.2h1V429.4h-1ZM305 420.0h1V430.0h-1ZM306 420.5h1V430.8h-1ZM307 417.0h1V434.0h-1ZM308 421.4h1V431.1h-1ZM309 422.8h1V432.2h-1ZM310 424.0h1V432.6h-1ZM311 423.6h1V433.5h-1ZM312 425.4h1V434.0h-1ZM313 421.6h1V435.6h-1ZM314 424.5h1V436.0h-1ZM315 424.3h1V436.5h-1ZM316 428.1h1V438.9h-1ZM317 424.9h1V438.2h-1ZM318 425.5h1V442.5h-1ZM319 429.8h1V438.8h-1ZM320 428.9h1V444.1h-1ZM321 428.4h1V441.1h-1ZM322 432.4h1V442.1h-1ZM323 430.3h1V442.3h-1ZM324 433.6h1V443.3h-1ZM325 434.4h1V443.2h-1ZM326 436.1h1V446.6h-1ZM327 436.5h1V444.8h-1ZM328 437.2h1V450.4h-1ZM329 438.2h1V446.7h-1ZM330 438.4h1V447.3h-1ZM331 436.9h1V448.0h-1ZM332 441.1h1V449.0h-1ZM333 441.1h1V449.6h-1ZM334 442.5h1V453.9h-1ZM335 443.0h1V452.0h-1ZM336 443.4h1V452.1h-1ZM337 445.3h1V456.1h-1ZM338 442.6h1V453.7h-1ZM339 447.3h1V454.6h-1ZM340 448.1h1V456.1h-1ZM341 448.3h1V458.4h-1ZM342 446.7h1V457.7h-1ZM343 450.3h1V460.5h-1ZM344 451.4h1V459.2h-1ZM345 448.5h1V460.4h-1ZM346 454.5h1V461.3h-1ZM347 455.5h1V462.6h-1ZM348 455.7h1V464.4h-1ZM349 457.7h1V465.3h-1ZM350 459.0h1V465.8h-1ZM351 459.3h1V466.7h-1ZM352 458.7h1V468.8h-1ZM353 461.8h1V469.3h-1ZM354 462.9h1V471.0h-1ZM355 464.5h1V471.2h-1ZM356 465.9h1V472.8h-1ZM357 466.7h1V474.1h-1ZM358 467.6h1V475.4h-1ZM359 468.9h1V480.0h-1ZM360 467.2h1V476.8h-1ZM361 472.1h1V477.8h-1ZM362 470.2h1V479.6h-1ZM363 473.5h1V482.5h-1ZM364 475.0h1V482.1h-1ZM365 476.1h1V482.3h-1ZM366 477.4h1V483.8h-1ZM367 476.5h1V484.3h-1ZM368 479.1h1V485.5h-1ZM369 481.2h1V489.1h-1ZM370 481.6h1V487.6h-1ZM371 482.5h1V489.0h-1ZM372 483.4h1V493.5h-1ZM373 481.1h1V490.9h-1ZM374 481.7h1V492.6h-1ZM375 487.1h1V497.2h-1ZM376 488.1h1V495.2h-1ZM377 489.3h1V495.8h-1ZM378 490.3h1V499.2h-1ZM379 491.1h1V498.4h-1ZM380 492.6h1V498.5h-1ZM381 493.5h1V499.8h-1ZM382 494.8h1V504.8h-1ZM383 495.2h1V502.6h-1ZM384 492.6h1V503.5h-1ZM385 496.7h1V503.9h-1ZM386 498.0h1V505.8h-1ZM387 498.9h1V506.9h-1ZM388 498.6h1V507.6h-1ZM389 500.9h1V508.4h-1ZM390 501.9h1V512.7h-1ZM391 502.6h1V511.1h-1ZM392 503.8h1V511.2h-1ZM393 504.1h1V515.1h-1ZM394 505.4h1V516.8h-1ZM395 502.2h1V517.7h-1ZM396 507.3h1V515.1h-1ZM397 508.3h1V516.7h-1ZM398 508.7h1V517.5h-1ZM399 510.4h1V517.7h-1ZM400 510.7h1V518.7h-1ZM401 507.2h1V519.4h-1ZM402 512.9h1V524.8h-1ZM403 513.4h1V525.0h-1ZM404 514.2h1V522.5h-1ZM405 515.4h1V523.2h-1ZM406 514.1h1V524.0h-1ZM407 516.0h1V526.6h-1ZM408 513.7h1V528.8h-1ZM409 518.1h1V526.0h-1ZM410 518.9h1V527.2h-1ZM411 519.1h1V528.6h-1ZM412 519.8h1V528.5h-1ZM413 521.3h1V530.4h-1ZM414 522.4h1V530.1h-1ZM415 519.2h1V535.1h-1ZM416 521.2h1V532.5h-1ZM417 524.0h1V537.1h-1ZM418 522.3h1V537.7h-1ZM419 525.8h1V534.5h-1ZM420 526.3h1V539.3h-1ZM421 527.0h1V536.2h-1ZM422 528.1h1V540.3h-1ZM423 528.2h1V538.0h-1ZM424 529.2h1V539.3h-1ZM425 529.7h1V539.6h-1ZM426 528.1h1V540.2h-1ZM427 531.3h1V540.9h-1ZM428 532.0h1V542.0h-1ZM429 529.0h1V542.6h-1ZM430 534.2h1V543.3h-1ZM431 534.6h1V544.6h-1ZM432 532.2h1V544.5h-1ZM433 535.7h1V545.7h-1ZM434 533.4h1V546.2h-1ZM435 537.5h1V547.8h-1ZM436 537.6h1V548.3h-1ZM437 535.2h1V552.4h-1ZM438 539.7h1V550.0h-1ZM439 540.5h1V550.5h-1ZM440 541.0h1V550.8h-1ZM441 541.8h1V551.4h-1ZM442 542.5h1V551.8h-1ZM443 539.1h1V552.6h-1ZM444 544.2h1V554.2h-1ZM445 540.6h1V555.1h-1ZM446 540.8h1V555.3h-1ZM447 545.3h1V556.3h-1ZM448 546.2h1V559.4h-1ZM449 546.4h1V557.8h-1ZM450 548.0h1V561.6h-1ZM451 545.5h1V559.3h-1ZM452 549.5h1V559.4h-1ZM453 550.2h1V559.9h-1ZM454 550.5h1V564.8h-1ZM455 551.1h1V561.2h-1ZM456 551.7h1V566.4h-1ZM457 552.5h1V562.4h-1ZM458 552.9h1V563.3h-1ZM459 551.5h1V563.7h-1ZM460 552.4h1V564.6h-1ZM461 554.8h1V565.1h-1ZM462 554.8h1V566.4h-1ZM463 555.7h1V567.1h-1ZM464 556.4h1V567.2h-1ZM465 557.0h1V568.0h-1ZM466 553.1h1V568.8h-1ZM467 557.3h1V569.2h-1ZM468 558.6h1V568.9h-1ZM469 558.9h1V569.5h-1ZM470 558.9h1V570.3h-1ZM471 557.8h1V570.7h-1ZM472 559.6h1V573.4h-1ZM473 560.3h1V571.3h-1ZM474 560.6h1V572.4h-1ZM475 561.6h1V573.1h-1ZM476 558.6h1V573.1h-1ZM477 562.3h1V576.4h-1ZM478 562.9h1V573.6h-1ZM479 562.9h1V578.4h-1ZM480 563.6h1V575.0h-1ZM481 563.7h1V574.7h-1ZM482 564.6h1V578.6h-1ZM483 564.0h1V576.1h-1ZM484 564.9h1V575.8h-1ZM485 564.9h1V576.7h-1ZM486 565.6h1V577.4h-1ZM487 565.2h1V577.7h-1ZM488 565.7h1V581.6h-1ZM489 566.3h1V577.9h-1ZM490 566.5h1V582.3h-1ZM491 563.9h1V577.9h-1ZM492 567.3h1V582.6h-1ZM493 567.3h1V581.4h-1ZM494 567.5h1V579.1h-1ZM495 568.0h1V583.0h-1ZM496 567.9h1V579.8h-1ZM497 569.0h1V580.2h-1ZM498 568.2h1V580.5h-1ZM499 568.6h1V584.9h-1ZM500 567.6h1V580.5h-1ZM501 569.7h1V580.4h-1ZM502 568.9h1V584.7h-1ZM503 569.8h1V581.0h-1ZM504 569.4h1V581.0h-1ZM505 570.4h1V581.2h-1ZM506 569.6h1V581.6h-1ZM507 570.8h1V582.4h-1ZM508 570.8h1V582.1h-1ZM509 570.2h1V586.2h-1ZM510 568.7h1V583.0h-1ZM511 570.3h1V582.3h-1ZM512 570.7h1V585.1h-1ZM513 570.8h1V584.6h-1ZM514 571.5h1V583.1h-1ZM515 571.3h1V582.4h-1ZM516 566.7h1V583.3h-1ZM517 571.5h1V583.3h-1ZM518 568.7h1V583.0h-1ZM519 571.2h1V583.5h-1ZM520 570.6h1V583.4h-1ZM521 567.5h1V583.1h-1ZM522 570.8h1V582.5h-1ZM523 570.7h1V583.2h-1ZM524 570.9h1V582.3h-1ZM525 570.4h1V582.0h-1ZM526 569.2h1V581.9h-1ZM527 570.6h1V582.2h-1ZM528 570.2h1V582.3h-1ZM529 570.3h1V582.1h-1ZM530 570.1h1V581.9h-1ZM531 569.6h1V582.1h-1ZM532 570.2h1V585.7h-1ZM533 569.8h1V583.5h-1ZM534 570.0h1V584.7h-1ZM535 570.0h1V580.6h-1ZM536 567.5h1V580.8h-1ZM537 569.5h1V581.1h-1ZM538 569.4h1V581.0h-1ZM539 568.3h1V580.7h-1ZM540 568.8h1V580.3h-1ZM541 568.7h1V580.4h-1ZM542 568.0h1V579.8h-1ZM543 567.8h1V582.5h-1ZM544 568.6h1V580.2h-1ZM545 567.7h1V581.4h-1ZM546 568.1h1V579.9h-1ZM547 567.6h1V579.1h-1ZM548 567.2h1V578.9h-1ZM549 567.1h1V578.8h-1ZM550 566.8h1V578.4h-1ZM551 567.5h1V579.0h-1ZM552 567.0h1V577.9h-1ZM553 566.8h1V578.3h-1ZM554 566.5h1V577.5h-1ZM555 566.9h1V581.1h-1ZM556 562.5h1V577.7h-1ZM557 565.8h1V577.1h-1ZM558 565.9h1V577.2h-1ZM559 565.7h1V579.9h-1ZM560 565.6h1V577.0h-1ZM561 564.6h1V576.0h-1ZM562 563.2h1V576.5h-1ZM563 564.4h1V576.0h-1ZM564 562.2h1V575.8h-1ZM565 563.8h1V579.0h-1ZM566 561.8h1V574.4h-1ZM567 560.1h1V574.1h-1ZM568 559.8h1V574.7h-1ZM569 562.9h1V573.4h-1ZM570 562.7h1V574.0h-1ZM571 561.8h1V575.8h-1ZM572 558.0h1V574.7h-1ZM573 561.0h1V572.6h-1ZM574 560.7h1V572.3h-1ZM575 558.8h1V571.9h-1ZM576 560.1h1V574.7h-1ZM577 559.8h1V570.8h-1ZM578 558.7h1V570.0h-1ZM579 558.4h1V571.1h-1ZM580 558.0h1V573.1h-1ZM581 555.8h1V568.8h-1ZM582 556.7h1V567.6h-1ZM583 554.8h1V567.6h-1ZM584 556.3h1V566.7h-1ZM585 556.2h1V567.2h-1ZM586 553.0h1V566.7h-1ZM587 555.1h1V566.0h-1ZM588 554.0h1V565.8h-1ZM589 554.1h1V565.2h-1ZM590 553.5h1V567.3h-1ZM591 553.2h1V564.3h-1ZM592 552.7h1V564.0h-1ZM593 552.9h1V563.2h-1ZM594 551.5h1V562.4h-1ZM595 547.6h1V562.5h-1ZM596 551.4h1V561.9h-1ZM597 551.3h1V561.0h-1ZM598 550.3h1V560.4h-1ZM599 549.3h1V560.4h-1ZM600 548.9h1V560.4h-1ZM601 549.5h1V559.3h-1ZM602 549.1h1V558.8h-1ZM603 547.8h1V558.5h-1ZM604 545.9h1V557.6h-1ZM605 547.8h1V558.0h-1ZM606 546.7h1V557.7h-1ZM607 546.7h1V557.2h-1ZM608 545.7h1V556.4h-1ZM609 545.0h1V555.9h-1ZM610 544.7h1V559.4h-1ZM611 544.0h1V554.1h-1ZM612 543.8h1V555.6h-1ZM613 543.7h1V553.2h-1ZM614 539.1h1V553.0h-1ZM615 542.5h1V552.9h-1ZM616 541.9h1V555.4h-1ZM617 540.4h1V554.5h-1ZM618 537.8h1V550.4h-1ZM619 536.0h1V548.9h-1ZM620 538.0h1V549.7h-1ZM621 537.6h1V547.4h-1ZM622 536.2h1V546.3h-1ZM623 535.1h1V545.0h-1ZM624 534.3h1V547.5h-1ZM625 529.3h1V543.1h-1ZM626 533.0h1V542.4h-1ZM627 531.8h1V544.6h-1ZM628 527.5h1V540.4h-1ZM629 529.6h1V539.9h-1ZM630 526.6h1V539.3h-1ZM631 528.5h1V538.7h-1ZM632 528.7h1V537.8h-1ZM633 527.8h1V536.9h-1ZM634 523.4h1V536.1h-1ZM635 526.5h1V535.9h-1ZM636 526.1h1V535.6h-1ZM637 525.4h1V534.9h-1ZM638 523.2h1V534.9h-1ZM639 521.5h1V533.5h-1ZM640 523.7h1V532.3h-1ZM641 523.7h1V531.9h-1ZM642 522.7h1V531.3h-1ZM643 518.7h1V529.5h-1ZM644 519.9h1V528.7h-1ZM645 519.8h1V528.6h-1ZM646 516.9h1V527.2h-1ZM647 517.7h1V526.5h-1ZM648 516.4h1V525.1h-1ZM649 515.8h1V523.9h-1ZM650 515.2h1V525.7h-1ZM651 514.0h1V522.0h-1ZM652 511.2h1V521.1h-1ZM653 509.9h1V519.7h-1ZM654 507.0h1V519.2h-1ZM655 509.1h1V521.7h-1ZM656 508.7h1V516.0h-1ZM657 507.2h1V519.3h-1ZM658 507.2h1V516.7h-1ZM659 505.1h1V512.8h-1ZM660 504.6h1V512.1h-1ZM661 503.4h1V510.9h-1ZM662 503.1h1V509.8h-1ZM663 501.9h1V509.4h-1ZM664 498.2h1V508.5h-1ZM665 495.5h1V507.7h-1ZM666 498.6h1V505.8h-1ZM667 498.1h1V505.4h-1ZM668 497.5h1V504.8h-1ZM669 494.4h1V503.9h-1ZM670 495.0h1V505.3h-1ZM671 494.9h1V501.1h-1ZM672 494.2h1V500.2h-1ZM673 493.1h1V499.5h-1ZM674 492.4h1V503.2h-1ZM675 491.5h1V497.7h-1ZM676 490.4h1V496.9h-1ZM677 486.7h1V498.8h-1ZM678 484.8h1V494.8h-1ZM679 487.2h1V493.8h-1ZM680 486.3h1V492.9h-1ZM681 481.7h1V492.6h-1ZM682 485.1h1V491.6h-1ZM683 481.8h1V491.1h-1ZM684 482.9h1V492.9h-1ZM685 482.4h1V491.6h-1ZM686 482.1h1V488.4h-1ZM687 481.1h1V487.1h-1ZM688 480.4h1V490.0h-1ZM689 479.0h1V484.6h-1ZM690 478.3h1V487.2h-1ZM691 477.5h1V482.9h-1ZM692 475.8h1V481.8h-1ZM693 474.5h1V485.0h-1ZM694 474.1h1V482.8h-1ZM695 472.8h1V479.1h-1ZM696 471.6h1V478.4h-1ZM697 471.4h1V480.5h-1ZM698 470.2h1V476.5h-1ZM699 466.4h1V475.4h-1ZM700 465.1h1V474.6h-1ZM701 463.8h1V473.4h-1ZM702 463.7h1V476.3h-1ZM703 464.4h1V475.6h-1ZM704 463.5h1V471.0h-1ZM705 462.7h1V470.0h-1ZM706 457.8h1V468.8h-1ZM707 457.9h1V467.6h-1ZM708 459.9h1V466.9h-1ZM709 458.6h1V466.0h-1ZM710 458.0h1V464.9h-1ZM711 456.0h1V463.8h-1ZM712 455.8h1V462.7h-1ZM713 452.9h1V464.3h-1ZM714 450.5h1V465.4h-1ZM715 453.0h1V460.9h-1ZM716 451.5h1V459.7h-1ZM717 450.1h1V458.2h-1ZM718 450.0h1V458.0h-1ZM719 449.0h1V456.9h-1ZM720 448.4h1V456.5h-1ZM721 444.5h1V455.4h-1ZM722 445.9h1V454.7h-1ZM723 445.7h1V453.4h-1ZM724 444.4h1V453.1h-1ZM725 443.3h1V455.8h-1ZM726 441.9h1V454.3h-1ZM727 441.6h1V450.1h-1ZM728 440.7h1V449.5h-1ZM729 439.4h1V447.9h-1ZM730 439.5h1V450.3h-1ZM731 438.6h1V446.8h-1ZM732 437.4h1V448.7h-1ZM733 436.5h1V444.9h-1ZM734 434.0h1V443.9h-1ZM735 434.4h1V443.9h-1ZM736 434.1h1V443.0h-1ZM737 432.5h1V443.8h-1ZM738 432.8h1V441.5h-1ZM739 431.9h1V440.3h-1ZM740 430.8h1V439.4h-1ZM741 430.4h1V441.9h-1ZM742 429.3h1V437.9h-1ZM743 427.6h1V437.2h-1ZM744 428.0h1V438.5h-1ZM745 426.4h1V435.9h-1ZM746 425.7h1V438.7h-1ZM747 421.8h1V434.6h-1ZM748 424.4h1V436.4h-1ZM749 424.2h1V433.6h-1ZM750 423.3h1V432.8h-1ZM751 422.6h1V431.3h-1ZM752 421.4h1V434.7h-1ZM753 420.6h1V432.7h-1ZM754 420.4h1V430.3h-1ZM755 415.8h1V429.2h-1ZM756 418.4h1V428.9h-1ZM757 418.2h1V428.3h-1ZM758 416.8h1V426.8h-1ZM759 413.0h1V426.4h-1ZM760 416.1h1V425.9h-1ZM761 415.0h1V425.2h-1ZM762 414.7h1V424.0h-1ZM763 413.4h1V423.7h-1ZM764 411.2h1V422.8h-1ZM765 408.8h1V422.7h-1ZM766 412.1h1V423.7h-1ZM767 411.4h1V422.0h-1ZM768 410.9h1V421.2h-1ZM769 408.1h1V421.6h-1ZM770 409.2h1V420.0h-1ZM771 406.2h1V419.0h-1ZM772 407.8h1V418.1h-1ZM773 407.8h1V417.9h-1ZM774 405.1h1V421.1h-1ZM775 406.5h1V416.2h-1ZM776 401.4h1V415.6h-1ZM777 404.3h1V415.9h-1ZM778 401.8h1V414.3h-1ZM779 403.4h1V413.8h-1ZM780 399.1h1V413.3h-1ZM781 402.5h1V416.4h-1ZM782 401.6h1V412.2h-1ZM783 398.3h1V411.7h-1ZM784 400.6h1V410.8h-1ZM785 399.8h1V414.2h-1ZM786 399.7h1V410.4h-1ZM787 398.5h1V409.5h-1ZM788 398.1h1V413.1h-1ZM789 397.9h1V409.2h-1ZM790 396.9h1V407.7h-1ZM791 396.8h1V407.7h-1ZM792 396.3h1V407.2h-1ZM793 395.2h1V406.6h-1ZM794 393.1h1V408.2h-1ZM795 394.0h1V405.3h-1ZM796 393.0h1V404.6h-1ZM797 393.1h1V404.7h-1ZM798 389.0h1V403.6h-1ZM799 392.3h1V402.8h-1ZM800 391.0h1V405.5h-1ZM801 390.7h1V406.5h-1ZM802 390.1h1V403.6h-1ZM803 387.8h1V401.6h-1ZM804 388.8h1V400.9h-1ZM805 384.3h1V400.2h-1ZM806 387.9h1V399.6h-1ZM807 387.3h1V403.3h-1ZM808 386.7h1V400.4h-1ZM809 387.1h1V402.5h-1ZM810 385.6h1V398.2h-1ZM811 381.8h1V397.3h-1ZM812 385.4h1V397.0h-1ZM813 385.0h1V396.6h-1ZM814 384.5h1V398.2h-1ZM815 383.5h1V395.4h-1ZM816 384.2h1V396.1h-1ZM817 383.0h1V395.2h-1ZM818 382.5h1V394.4h-1ZM819 383.0h1V396.5h-1ZM820 382.4h1V393.7h-1ZM821 377.7h1V395.9h-1ZM822 381.1h1V393.3h-1ZM823 381.3h1V393.2h-1ZM824 376.8h1V393.0h-1ZM825 380.8h1V395.9h-1ZM826 377.8h1V396.1h-1ZM827 379.8h1V392.1h-1ZM828 379.8h1V391.7h-1ZM829 379.6h1V392.2h-1ZM830 379.1h1V394.2h-1ZM831 379.5h1V391.7h-1ZM832 379.3h1V393.0h-1ZM833 378.2h1V390.5h-1ZM834 378.2h1V390.4h-1ZM835 378.2h1V390.5h-1ZM836 377.7h1V390.4h-1ZM837 377.6h1V390.4h-1ZM838 377.5h1V390.5h-1ZM839 375.0h1V389.7h-1ZM840 376.9h1V389.3h-1ZM841 377.6h1V391.0h-1ZM842 377.5h1V389.0h-1ZM843 377.5h1V389.4h-1ZM844 375.1h1V389.1h-1ZM845 374.7h1V389.0h-1ZM846 377.4h1V392.3h-1ZM847 374.2h1V389.3h-1ZM848 376.7h1V388.9h-1ZM849 376.5h1V389.2h-1ZM850 377.2h1V392.0h-1ZM851 373.1h1V390.8h-1ZM852 375.1h1V389.2h-1ZM853 376.9h1V388.6h-1ZM854 372.5h1V389.5h-1ZM855 376.3h1V392.5h-1ZM856 376.7h1V389.2h-1ZM857 377.0h1V388.9h-1ZM858 374.9h1V389.2h-1ZM859 377.1h1V389.0h-1ZM860 377.4h1V389.2h-1ZM861 377.2h1V390.7h-1ZM862 376.6h1V389.6h-1ZM863 376.9h1V393.3h-1ZM864 377.6h1V389.8h-1ZM865 373.9h1V389.5h-1ZM866 377.0h1V392.8h-1ZM867 377.5h1V393.7h-1ZM868 377.1h1V389.6h-1ZM869 378.4h1V389.7h-1ZM870 375.9h1V394.3h-1ZM871 377.7h1V390.2h-1ZM872 378.3h1V390.0h-1ZM873 378.3h1V390.3h-1ZM874 379.2h1V393.7h-1ZM875 378.4h1V391.1h-1ZM876 378.9h1V390.9h-1ZM877 379.1h1V391.9h-1ZM878 379.2h1V393.5h-1ZM879 379.2h1V394.5h-1ZM880 380.0h1V392.4h-1ZM881 379.7h1V394.1h-1ZM882 381.0h1V393.1h-1ZM883 376.9h1V394.9h-1ZM884 380.5h1V395.0h-1ZM885 381.6h1V395.0h-1ZM886 381.7h1V393.5h-1ZM887 381.9h1V397.3h-1ZM888 382.0h1V394.2h-1ZM889 382.7h1V394.1h-1ZM890 382.6h1V394.6h-1ZM891 380.7h1V394.2h-1ZM892 383.3h1V394.9h-1ZM893 383.1h1V395.4h-1ZM894 383.1h1V395.6h-1ZM895 383.6h1V395.5h-1ZM896 383.7h1V395.0h-1ZM897 384.0h1V397.3h-1ZM898 380.7h1V395.4h-1ZM899 379.7h1V398.2h-1ZM900 383.7h1V396.6h-1ZM901 384.1h1V398.2h-1ZM902 384.7h1V398.6h-1ZM903 385.5h1V396.3h-1ZM904 385.6h1V398.9h-1ZM905 386.0h1V397.8h-1ZM906 386.4h1V401.4h-1ZM907 386.8h1V399.8h-1ZM908 383.1h1V399.3h-1ZM909 387.5h1V402.4h-1ZM910 388.0h1V399.8h-1ZM911 389.2h1V401.1h-1ZM912 387.4h1V403.2h-1ZM913 391.2h1V402.5h-1ZM914 387.9h1V405.1h-1ZM915 392.6h1V403.6h-1ZM916 393.4h1V404.5h-1ZM917 394.6h1V405.6h-1ZM918 395.5h1V409.9h-1ZM919 397.0h1V407.7h-1ZM920 397.7h1V408.8h-1ZM921 398.7h1V409.9h-1ZM922 395.2h1V410.6h-1ZM923 399.9h1V410.9h-1ZM924 401.3h1V411.8h-1ZM925 401.6h1V416.1h-1ZM926 402.6h1V413.2h-1ZM927 401.2h1V414.8h-1ZM928 404.5h1V415.4h-1ZM929 405.6h1V415.3h-1ZM930 405.9h1V416.0h-1ZM931 403.9h1V418.9h-1ZM932 403.2h1V416.9h-1ZM933 405.6h1V415.8h-1ZM934 406.1h1V416.0h-1ZM935 405.9h1V416.9h-1ZM936 401.8h1V417.2h-1ZM937 406.6h1V417.2h-1ZM938 406.9h1V417.6h-1ZM939 403.5h1V418.2h-1ZM940 405.6h1V419.2h-1ZM941 408.8h1V419.2h-1ZM942 408.2h1V420.4h-1ZM943 411.1h1V424.1h-1ZM944 413.0h1V425.4h-1ZM945 413.6h1V427.7h-1ZM946 415.5h1V427.5h-1ZM947 416.9h1V425.9h-1ZM948 417.9h1V427.5h-1ZM949 418.6h1V428.2h-1ZM950 417.2h1V429.8h-1ZM951 419.0h1V431.1h-1ZM952 422.9h1V432.6h-1ZM953 423.8h1V434.0h-1ZM954 425.3h1V435.3h-1ZM955 423.6h1V439.4h-1ZM956 425.2h1V440.8h-1ZM957 426.1h1V437.5h-1ZM958 428.8h1V438.2h-1ZM959 430.3h1V438.6h-1ZM960 430.9h1V443.7h-1ZM961 431.3h1V442.0h-1ZM962 431.1h1V440.4h-1ZM963 432.2h1V440.5h-1ZM964 432.0h1V441.1h-1ZM965 433.0h1V443.6h-1ZM966 432.4h1V443.5h-1ZM967 432.7h1V442.3h-1ZM968 430.2h1V442.6h-1ZM969 429.8h1V442.8h-1ZM970 434.6h1V443.6h-1ZM971 430.7h1V443.9h-1ZM972 435.0h1V443.7h-1ZM973 436.0h1V444.9h-1ZM974 436.9h1V449.8h-1ZM975 437.6h1V446.2h-1ZM976 438.9h1V447.2h-1ZM977 435.6h1V450.5h-1ZM978 436.3h1V448.8h-1ZM979 442.0h1V450.6h-1ZM980 443.1h1V451.4h-1ZM981 444.6h1V452.5h-1ZM982 441.3h1V455.8h-1ZM983 446.5h1V454.8h-1ZM984 445.2h1V455.4h-1ZM985 449.6h1V457.7h-1ZM986 450.5h1V458.2h-1ZM987 452.0h1V459.5h-1ZM988 453.3h1V461.2h-1ZM989 453.8h1V462.0h-1ZM990 455.5h1V462.7h-1ZM991 456.2h1V466.1h-1ZM992 457.4h1V465.1h-1ZM993 458.3h1V465.9h-1ZM994 457.0h1V466.5h-1ZM995 460.1h1V470.9h-1ZM996 461.9h1V473.0h-1ZM997 463.0h1V469.4h-1ZM998 464.0h1V471.3h-1ZM999 464.1h1V471.3h-1ZM1000 465.8h1V472.2h-1ZM1001 466.5h1V474.2h-1ZM1002 467.7h1V475.1h-1ZM1003 469.1h1V479.5h-1ZM1004 470.0h1V476.8h-1ZM1005 469.1h1V477.3h-1ZM1006 471.6h1V478.3h-1ZM1007 472.6h1V479.2h-1ZM1008 473.1h1V481.4h-1ZM1009 474.3h1V481.2h-1ZM1010 475.1h1V481.0h-1ZM1011 476.2h1V482.6h-1ZM1012 476.7h1V482.5h-1ZM1013 473.1h1V483.6h-1ZM1014 478.1h1V483.8h-1ZM1015 478.4h1V484.1h-1ZM1016 476.2h1V485.1h-1ZM1017 479.9h1V490.4h-1ZM1018 480.8h1V487.2h-1ZM1019 481.6h1V487.7h-1ZM1020 482.6h1V489.5h-1ZM1021 484.0h1V490.2h-1ZM1022 485.6h1V492.3h-1ZM1023 487.4h1V493.6h-1ZM1024 488.2h1V498.7h-1ZM1025 488.3h1V497.4h-1ZM1026 491.3h1V498.3h-1ZM1027 492.8h1V500.3h-1ZM1028 495.6h1V501.7h-1ZM1029 496.6h1V504.3h-1ZM1030 498.7h1V505.5h-1ZM1031 499.5h1V510.5h-1ZM1032 501.7h1V511.3h-1ZM1033 502.4h1V510.3h-1ZM1034 504.3h1V511.8h-1ZM1035 505.7h1V513.5h-1ZM1036 505.0h1V514.0h-1ZM1037 507.8h1V515.4h-1ZM1038 508.7h1V516.5h-1ZM1039 505.8h1V517.5h-1ZM1040 509.6h1V517.5h-1ZM1041 508.2h1V518.7h-1ZM1042 510.8h1V518.8h-1ZM1043 511.2h1V519.7h-1ZM1044 509.5h1V519.1h-1ZM1045 512.2h1V520.3h-1ZM1046 511.4h1V520.2h-1ZM1047 512.5h1V520.4h-1ZM1048 512.4h1V520.1h-1ZM1049 512.3h1V521.3h-1ZM1050 508.9h1V521.5h-1ZM1051 513.2h1V521.3h-1ZM1052 513.5h1V521.9h-1ZM1053 513.8h1V522.5h-1ZM1054 514.5h1V526.7h-1ZM1055 514.2h1V524.6h-1ZM1056 516.4h1V529.1h-1ZM1057 517.1h1V525.6h-1ZM1058 516.1h1V526.9h-1ZM1059 515.6h1V527.9h-1ZM1060 520.7h1V528.6h-1ZM1061 520.2h1V533.9h-1ZM1062 519.1h1V531.3h-1ZM1063 524.2h1V533.0h-1ZM1064 522.1h1V533.8h-1ZM1065 522.5h1V535.6h-1ZM1066 527.6h1V539.1h-1ZM1067 528.6h1V538.1h-1ZM1068 529.5h1V538.7h-1ZM1069 528.3h1V540.4h-1ZM1070 531.5h1V540.8h-1ZM1071 532.8h1V541.5h-1ZM1072 531.5h1V542.1h-1ZM1073 534.3h1V543.1h-1ZM1074 534.2h1V544.2h-1ZM1075 535.6h1V544.3h-1ZM1076 535.3h1V546.0h-1ZM1077 536.9h1V546.2h-1ZM1078 537.3h1V547.0h-1ZM1079 537.6h1V547.5h-1ZM1080 537.9h1V547.3h-1ZM1081 538.7h1V547.9h-1ZM1082 538.4h1V548.6h-1ZM1083 538.6h1V552.9h-1ZM1084 539.9h1V549.1h-1ZM1085 540.7h1V550.1h-1ZM1086 541.1h1V551.1h-1ZM1087 541.5h1V551.4h-1ZM1088 541.4h1V551.5h-1ZM1089 538.5h1V552.6h-1ZM1090 539.3h1V553.4h-1ZM1091 542.0h1V553.5h-1ZM1092 544.1h1V553.8h-1ZM1093 544.6h1V557.2h-1ZM1094 545.1h1V555.9h-1ZM1095 546.5h1V558.2h-1ZM1096 543.7h1V557.4h-1ZM1097 545.0h1V557.6h-1ZM1098 545.0h1V563.0h-1ZM1099 548.4h1V563.2h-1ZM1100 549.5h1V562.9h-1ZM1101 551.0h1V563.6h-1ZM1102 550.6h1V561.8h-1ZM1103 551.5h1V562.9h-1ZM1104 552.5h1V565.7h-1ZM1105 553.4h1V564.0h-1ZM1106 553.3h1V568.4h-1ZM1107 554.3h1V564.6h-1ZM1108 552.8h1V566.1h-1ZM1109 555.0h1V566.6h-1ZM1110 556.6h1V567.0h-1ZM1111 556.4h1V566.9h-1ZM1112 557.6h1V568.6h-1ZM1113 557.1h1V571.7h-1ZM1114 558.4h1V569.2h-1ZM1115 558.8h1V573.4h-1ZM1116 558.7h1V569.5h-1ZM1117 559.6h1V570.5h-1ZM1118 560.2h1V572.8h-1ZM1119 560.8h1V573.1h-1ZM1120 560.4h1V572.0h-1ZM1121 561.5h1V575.2h-1ZM1122 561.8h1V572.9h-1ZM1123 561.9h1V573.5h-1ZM1124 563.1h1V578.0h-1ZM1125 562.7h1V574.3h-1ZM1126 563.2h1V575.4h-1ZM1127 563.8h1V574.9h-1ZM1128 564.7h1V576.4h-1ZM1129 564.9h1V575.9h-1ZM1130 565.3h1V577.1h-1ZM1131 563.3h1V577.1h-1ZM1132 566.7h1V578.1h-1ZM1133 563.3h1V578.7h-1ZM1134 563.4h1V578.5h-1ZM1135 567.9h1V579.5h-1ZM1136 568.6h1V579.4h-1ZM1137 568.3h1V579.8h-1ZM1138 568.9h1V581.2h-1ZM1139 569.3h1V581.1h-1ZM1140 570.4h1V583.7h-1ZM1141 570.8h1V582.0h-1ZM1142 570.6h1V584.5h-1ZM1143 570.4h1V585.8h-1ZM1144 571.2h1V586.2h-1ZM1145 571.3h1V585.3h-1ZM1146 571.2h1V583.6h-1ZM1147 571.6h1V583.2h-1ZM1148 571.7h1V585.5h-1ZM1149 572.5h1V583.8h-1ZM1150 572.4h1V584.8h-1ZM1151 571.3h1V584.3h-1ZM1152 573.4h1V584.4h-1ZM1153 573.2h1V589.3h-1ZM1154 573.5h1V585.1h-1ZM1155 573.1h1V589.3h-1ZM1156 573.2h1V589.4h-1ZM1157 573.6h1V585.2h-1ZM1158 574.3h1V585.4h-1ZM1159 574.2h1V586.0h-1ZM1160 573.7h1V586.4h-1ZM1161 572.6h1V586.3h-1ZM1162 574.5h1V588.6h-1ZM1163 574.7h1V586.3h-1ZM1164 572.7h1V586.1h-1ZM1165 574.5h1V586.6h-1ZM1166 574.5h1V589.0h-1ZM1167 572.3h1V587.1h-1ZM1168 574.3h1V586.9h-1ZM1169 575.0h1V587.2h-1ZM1170 574.6h1V586.6h-1ZM1171 574.3h1V586.9h-1ZM1172 574.5h1V586.8h-1ZM1173 574.5h1V587.3h-1ZM1174 574.8h1V590.3h-1ZM1175 575.2h1V587.4h-1ZM1176 574.5h1V586.3h-1ZM1177 574.9h1V587.0h-1ZM1178 574.5h1V587.1h-1ZM1179 571.9h1V586.1h-1ZM1180 574.7h1V588.2h-1ZM1181 575.0h1V587.0h-1ZM1182 574.2h1V586.6h-1ZM1183 574.8h1V586.6h-1ZM1184 573.8h1V585.6h-1ZM1185 573.8h1V590.3h-1ZM1186 574.1h1V585.8h-1ZM1187 574.0h1V585.1h-1ZM1188 573.6h1V585.2h-1ZM1189 573.5h1V587.1h-1ZM1190 573.2h1V584.8h-1ZM1191 573.4h1V589.4h-1ZM1192 572.7h1V588.3h-1ZM1193 572.8h1V584.5h-1ZM1194 570.7h1V584.9h-1ZM1195 569.1h1V584.9h-1ZM1196 572.1h1V584.0h-1ZM1197 572.5h1V583.5h-1ZM1198 567.9h1V583.0h-1ZM1199 572.0h1V583.6h-1ZM1200 571.5h1V583.4h-1ZM1201 570.4h1V583.3h-1ZM1202 567.2h1V582.1h-1ZM1203 570.5h1V582.4h-1ZM1204 569.9h1V584.9h-1ZM1205 567.7h1V581.3h-1ZM1206 569.7h1V581.2h-1ZM1207 568.7h1V584.8h-1ZM1208 569.4h1V582.2h-1ZM1209 568.3h1V579.7h-1ZM1210 568.3h1V582.8h-1ZM1211 567.0h1V579.5h-1ZM1212 566.9h1V581.5h-1ZM1213 566.5h1V578.4h-1ZM1214 566.3h1V577.8h-1ZM1215 566.2h1V577.4h-1ZM1216 565.1h1V577.4h-1ZM1217 565.3h1V575.8h-1ZM1218 564.9h1V575.4h-1ZM1219 563.8h1V575.4h-1ZM1220 563.8h1V575.2h-1ZM1221 559.7h1V574.5h-1ZM1222 562.8h1V573.5h-1ZM1223 561.5h1V572.7h-1ZM1224 561.4h1V575.3h-1ZM1225 561.4h1V571.8h-1ZM1226 560.6h1V571.5h-1ZM1227 559.5h1V570.7h-1ZM1228 560.0h1V570.8h-1ZM1229 555.3h1V572.4h-1ZM1230 558.3h1V569.4h-1ZM1231 558.4h1V568.8h-1ZM1232 555.7h1V568.6h-1ZM1233 557.5h1V567.8h-1ZM1234 556.0h1V570.2h-1ZM1235 555.7h1V566.9h-1ZM1236 555.9h1V565.8h-1ZM1237 554.4h1V566.3h-1ZM1238 554.1h1V564.7h-1ZM1239 554.3h1V568.1h-1ZM1240 553.2h1V568.0h-1ZM1241 549.0h1V564.0h-1ZM1242 550.0h1V563.5h-1ZM1243 551.8h1V563.0h-1ZM1244 548.4h1V562.2h-1ZM1245 550.2h1V561.6h-1ZM1246 550.5h1V560.8h-1ZM1247 546.7h1V560.7h-1ZM1248 547.6h1V559.9h-1ZM1249 547.1h1V559.6h-1ZM1250 547.6h1V562.0h-1ZM1251 548.1h1V561.6h-1ZM1252 545.3h1V557.5h-1ZM1253 546.0h1V558.5h-1ZM1254 546.4h1V559.0h-1ZM1255 546.1h1V556.2h-1ZM1256 545.7h1V555.7h-1ZM1257 542.0h1V555.3h-1ZM1258 544.8h1V554.5h-1ZM1259 539.6h1V553.4h-1ZM1260 543.9h1V557.9h-1ZM1261 542.9h1V553.2h-1ZM1262 542.7h1V552.8h-1ZM1263 538.1h1V552.2h-1ZM1264 542.3h1V552.6h-1ZM1265 541.8h1V551.6h-1ZM1266 541.0h1V553.3h-1ZM1267 541.4h1V552.8h-1ZM1268 538.2h1V550.5h-1ZM1269 538.8h1V549.8h-1Z"/>
</g>
<text x="65" y="50.5" font-size="12" fill="#ff69b4" text-anchor="end">32 V</text>
<text x="65" y="78" font-size="12" fill="#ff69b4" text-anchor="end">24 V</text>
<text x="65" y="112.25" font-size="12" fill="#ff69b4" text-anchor="end">16 V</text>
<text x="65" y="146.5" font-size="12" fill="#ff69b4" text-anchor="end">8 V</text>
<text x="65" y="180.75" font-size="12" fill="#ff69b4" text-anchor="end">0 V</text>
<text x="65" y="215" font-size="12" fill="#ff69b4" text-anchor="end">-8 V</text>
<text x="65" y="249.25" font-size="12" fill="#ff69b4" text-anchor="end">-16 V</text>
<text x="65" y="283.5" font-size="12" fill="#ff69b4" text-anchor="end">-24 V</text>
<text x="65" y="311" font-size="12" fill="#ff69b4" text-anchor="end">-32 V</text>
<text x="65" y="358.5" font-size="12" fill="#d8ffd8" text-anchor="end">2 A</text>
<text x="65" y="385.5" font-size="12" fill="#d8ffd8" text-anchor="end">1.5 A</text>
<text x="65" y="419.75" font-size="12" fill="#d8ffd8" text-anchor="end">1 A</text>
<text x="65" y="454" font-size="12" fill="#d8ffd8" text-anchor="end">500 mA</text>
<text x="65" y="488.5" font-size="12" fill="#d8ffd8" text-anchor="end">0 mA</text>
<text x="65" y="522.5" font-size="12" fill="#d8ffd8" text-anchor="end">-500 mA</text>
<text x="65" y="556.75" font-size="12" fill="#d8ffd8" text-anchor="end">-1 A</text>
<text x="65" y="592" font-size="12" fill="#d8ffd8" text-anchor="end">-1.5 A</text>
<text x="65" y="618.75" font-size="12" fill="#d8ffd8" text-anchor="end">-2 A</text>
<text x="71" y="327" font-size="12" fill="#ff69b4" text-anchor="start">175 ms</text>
<text x="71" y="635" font-size="12" fill="#d8ffd8" text-anchor="start">175 ms</text>
<text x="190.5" y="327" font-size="12" fill="#ff69b4" text-anchor="middle">180 ms</text>
<text x="190.5" y="635" font-size="12" fill="#d8ffd8" text-anchor="middle">180 ms</text>
<text x="310.5" y="327" font-size="12" fill="#ff69b4" text-anchor="middle">185 ms</text>
<text x="310.5" y="635" font-size="12" fill="#d8ffd8" text-anchor="middle">185 ms</text>
<text x="430.5" y="327" font-size="12" fill="#ff69b4" text-anchor="middle">190 ms</text>
<text x="430.5" y="635" font-size="12" fill="#d8ffd8" text-anchor="middle">190 ms</text>
<text x="550.5" y="327" font-size="12" fill="#ff69b4" text-anchor="middle">195 ms</text>
<text x="550.5" y="635" font-size="12" fill="#d8ffd8" text-anchor="middle">195 ms</text>
<text x="670.5" y="327" font-size="12" fill="#ff69b4" text-anchor="middle">200 ms</text>
<text x="670.5" y="635" font-size="12" fill="#d8ffd8" text-anchor="middle">200 ms</text>
<text x="790.5" y="327" font-size="12" fill="#ff69b4" text-anchor="middle">205 ms</text>
<text x="790.5" y="635" font-size="12" fill="#d8ffd8" text-anchor="middle">205 ms</text>
<text x="910.5" y="327" font-size="12" fill="#ff69b4" text-anchor="middle">210 ms</text>
<text x="910.5" y="635" font-size="12" fill="#d8ffd8" text-anchor="middle">210 ms</text>
<text x="1030.5" y="327" font-size="12" fill="#ff69b4" text-anchor="middle">215 ms</text>
<text x="1030.5" y="635" font-size="12" fill="#d8ffd8" text-anchor="middle">215 ms</text>
<text x="1150.5" y="327" font-size="12" fill="#ff69b4" text-anchor="middle">220 ms</text>
<text x="1150.5" y="635" font-size="12" fill="#d8ffd8" text-anchor="middle">220 ms</text>
<text x="1270" y="327" font-size="12" fill="#ff69b4" text-anchor="end">225 ms</text>
<text x="1270" y="635" font-size="12" fill="#d8ffd8" text-anchor="end">225 ms</text>
<path d="M64.5 317.5l3-3M64.5 317.5l3 3M64.5 317.5H71" stroke="#ff69b4" stroke-width="1.2" fill="none"/>
<path d="M64.5 625.5l3-3M64.5 625.5l3 3M64.5 625.5H71" stroke="#d8ffd8" stroke-width="1.2" fill="none"/>
<rect x="55" y="163" width="15" height="11" rx="2" fill="#ff69b4"/>
<rect x="60" y="174.5" width="10" height="2.5" fill="#ff69b4"/>
<text x="57" y="172.5" font-size="11" fill="#101010" text-anchor="start">Z2</text>
<rect x="55" y="471" width="15" height="11" rx="2" fill="#d8ffd8"/>
<rect x="60" y="483" width="10" height="2" fill="#d8ffd8"/>
<text x="57" y="480.5" font-size="11" fill="#101010" text-anchor="start">Z5</text>
<rect x="4" y="652" width="97" height="16" fill="#ffff00"/>
<rect x="4" y="668" width="97" height="33" fill="#474747"/>
<rect x="4" y="701" width="97" height="2" fill="#00d000"/>
<text x="7" y="665" font-size="13" fill="#000000" text-anchor="start">Z1</text>
<text x="99" y="665" font-size="13" fill="#000000" text-anchor="end">zoom(C1)</text>
<text x="99" y="681.5" font-size="13" fill="#f0f0f0" text-anchor="end">8.0 V/div</text>
<text x="99" y="697" font-size="13" fill="#f0f0f0" text-anchor="end">5.00 ms/div</text>
<rect x="103" y="651" width="99" height="51" fill="#2196f3"/>
<rect x="105" y="653" width="95" height="15" fill="#ff69b4"/>
<rect x="105" y="668" width="95" height="32" fill="#2a4a62"/>
<rect x="104" y="701" width="97" height="2" fill="#00d000"/>
<text x="107" y="665" font-size="13" fill="#000000" text-anchor="start">Z2</text>
<text x="199" y="665" font-size="13" fill="#000000" text-anchor="end">zoom(C2)</text>
<text x="199" y="681.5" font-size="13" fill="#f0f0f0" text-anchor="end">8.0 V/div</text>
<text x="199" y="697" font-size="13" fill="#f0f0f0" text-anchor="end">5.00 ms/div</text>
<rect x="204" y="652" width="97" height="16" fill="#00ffff"/>
<rect x="204" y="668" width="97" height="33" fill="#474747"/>
<rect x="204" y="701" width="97" height="2" fill="#00d000"/>
<text x="207" y="665" font-size="13" fill="#000000" text-anchor="start">Z3</text>
<text x="299" y="665" font-size="13" fill="#000000" text-anchor="end">zoom(C3)</text>
<text x="299" y="681.5" font-size="13" fill="#f0f0f0" text-anchor="end">8.0 V/div</text>
<text x="299" y="697" font-size="13" fill="#f0f0f0" text-anchor="end">5.00 ms/div</text>
<rect x="304" y="652" width="97" height="16" fill="#00c000"/>
<rect x="304" y="668" width="97" height="33" fill="#474747"/>
<rect x="304" y="701" width="97" height="2" fill="#00d000"/>
<text x="307" y="665" font-size="13" fill="#000000" text-anchor="start">Z4</text>
<text x="399" y="665" font-size="13" fill="#000000" text-anchor="end">zoom(C4)</text>
<text x="399" y="681.5" font-size="13" fill="#f0f0f0" text-anchor="end">500 mA/div</text>
<text x="399" y="697" font-size="13" fill="#f0f0f0" text-anchor="end">5.00 ms/div</text>
<rect x="404" y="652" width="97" height="16" fill="#d8ffd8"/>
<rect x="404" y="668" width="97" height="33" fill="#474747"/>
<rect x="404" y="701" width="97" height="2" fill="#00d000"/>
<text x="407" y="665" font-size="13" fill="#000000" text-anchor="start">Z5</text>
<text x="499" y="665" font-size="13" fill="#000000" text-anchor="end">zoom(C5)</text>
<text x="499" y="681.5" font-size="13" fill="#f0f0f0" text-anchor="end">500 mA/div</text>
<text x="499" y="697" font-size="13" fill="#f0f0f0" text-anchor="end">5.00 ms/div</text>
<rect x="504" y="652" width="97" height="16" fill="#8080ff"/>
<rect x="504" y="668" width="97" height="33" fill="#474747"/>
<rect x="504" y="701" width="97" height="2" fill="#00d000"/>
<text x="507" y="665" font-size="13" fill="#000000" text-anchor="start">Z6</text>
<text x="599" y="665" font-size="13" fill="#000000" text-anchor="end">zoom(C6)</text>
<text x="599" y="681.5" font-size="13" fill="#f0f0f0" text-anchor="end">500 mA/div</text>
<text x="599" y="697" font-size="13" fill="#f0f0f0" text-anchor="end">5.00 ms/div</text>
<rect x="604.5" y="652.5" width="96" height="48" fill="none" stroke="#e0e0e0" stroke-width="1" stroke-dasharray="3 2"/>
<path d="M651 669V683M644 676H658" stroke="#ffffff" stroke-width="2" fill="none"/>
<rect x="1063" y="652" width="112" height="15" fill="#f4f4f4"/>
<rect x="1063" y="667" width="112" height="34" fill="#474747"/>
<text x="1066" y="665" font-size="13" fill="#000" text-anchor="start">Tbase</text>
<text x="1173" y="665" font-size="13" fill="#000" text-anchor="end">-200 ms</text>
<text x="1173" y="681.5" font-size="13" fill="#f0f0f0" text-anchor="end">50.0 ms/div</text>
<text x="1066" y="697" font-size="13" fill="#f0f0f0" text-anchor="start">5 MS</text>
<text x="1173" y="697" font-size="13" fill="#f0f0f0" text-anchor="end">10 MS/s</text>
<rect x="1178" y="652" width="96" height="15" fill="#f4f4f4"/>
<rect x="1178" y="667" width="96" height="34" fill="#474747"/>
<text x="1181" y="665" font-size="13" fill="#000" text-anchor="start">Trigger</text>
<rect x="1229" y="652.5" width="18.5" height="13.5" rx="2.5" fill="#000"/>
<rect x="1251" y="652.5" width="21" height="13.5" rx="2.5" fill="#000"/>
<text x="1238.3" y="663" font-size="10" fill="#fff" text-anchor="middle">C1</text>
<text x="1261.5" y="663" font-size="10" fill="#fff" text-anchor="middle">DC</text>
<text x="1181" y="681.5" font-size="13" fill="#f0f0f0" text-anchor="start">Stop</text>
<text x="1272" y="681.5" font-size="13" fill="#f0f0f0" text-anchor="end">21.2 V</text>
<text x="1181" y="697" font-size="13" fill="#f0f0f0" text-anchor="start">Edge</text>
<text x="1272" y="697" font-size="13" fill="#f0f0f0" text-anchor="end">Positive</text>
<rect x="0" y="703" width="1274" height="79" fill="#1f0019"/>
<rect x="0" y="702" width="1274" height="1" fill="#5e5e5e"/>
<rect x="0" y="703" width="1.5" height="79" fill="#5a5a5a"/>
<rect x="1273" y="703" width="1" height="79" fill="#5a5a5a"/>
<rect x="0" y="781" width="1274" height="1.2" fill="#626262"/>
<rect x="0" y="782.2" width="1280" height="1" fill="#1a1a1a"/>
<rect x="0" y="783.2" width="1280" height="1.2" fill="#5a5f60"/>
<path d="M98.5 705V781M196.5 705V781M294.5 705V781M392.5 705V781M490.5 705V781M588.5 705V781M686.5 705V781M784.5 705V781M882.5 705V781M980.5 705V781M1078.5 705V781M1176.5 705V781M2 718.5H1273M2 734.5H1273M2 750.5H1273M2 766.5H1273" stroke="#9a9a9a" stroke-width="1" stroke-dasharray="1 1" fill="none"/>
<text x="2.5" y="715.3" font-size="13" fill="#f4f4f4" text-anchor="start" font-weight="bold" textLength="58" lengthAdjust="spacingAndGlyphs">Numerics</text>
<text x="194" y="716" font-size="13" fill="#f4f4f4" text-anchor="end" font-weight="bold">Vrms</text>
<text x="292" y="716" font-size="13" fill="#f4f4f4" text-anchor="end" font-weight="bold">Irms</text>
<text x="390" y="716" font-size="13" fill="#f4f4f4" text-anchor="end" font-weight="bold">P</text>
<text x="488" y="716" font-size="13" fill="#f4f4f4" text-anchor="end" font-weight="bold">S</text>
<text x="586" y="716" font-size="13" fill="#f4f4f4" text-anchor="end" font-weight="bold">Q</text>
<text x="684" y="716" font-size="13" fill="#f4f4f4" text-anchor="end" font-weight="bold">PF</text>
<text x="782" y="716" font-size="13" fill="#f4f4f4" text-anchor="end" font-weight="bold">&#981;</text>
<text x="2" y="729.5" font-size="13.5" fill="#f4f4f4" text-anchor="start" font-weight="bold">Vr:Ir</text>
<text x="50" y="726" font-size="9.5" fill="#f4f4f4" text-anchor="start" font-weight="bold" textLength="36" lengthAdjust="spacingAndGlyphs">LL to LN</text>
<text x="194.5" y="732" font-size="13" fill="#f4f4f4" text-anchor="end">1.328 V</text>
<text x="292.5" y="732" font-size="13" fill="#f4f4f4" text-anchor="end">1.0074 A</text>
<text x="390.5" y="730" font-size="13" fill="#f4f4f4" text-anchor="end">1.296 W</text>
<text x="488.5" y="732" font-size="13" fill="#f4f4f4" text-anchor="end">1.3382 VA</text>
<text x="586.5" y="732" font-size="13" fill="#f4f4f4" text-anchor="end">332 mVAR</text>
<text x="684.5" y="732" font-size="13" fill="#f4f4f4" text-anchor="end">969e-3</text>
<text x="782.5" y="732" font-size="13" fill="#f4f4f4" text-anchor="end">14.3487 &#176;</text>
<text x="2" y="745.5" font-size="13.5" fill="#f4f4f4" text-anchor="start" font-weight="bold">Vs:Is</text>
<text x="55" y="742" font-size="9.5" fill="#f4f4f4" text-anchor="start" font-weight="bold" textLength="36" lengthAdjust="spacingAndGlyphs">LL to LN</text>
<text x="194.5" y="748" font-size="13" fill="#f4f4f4" text-anchor="end">1.327 V</text>
<text x="292.5" y="748" font-size="13" fill="#f4f4f4" text-anchor="end">1.0029 A</text>
<text x="390.5" y="746" font-size="13" fill="#f4f4f4" text-anchor="end">1.280 W</text>
<text x="488.5" y="748" font-size="13" fill="#f4f4f4" text-anchor="end">1.3310 VA</text>
<text x="586.5" y="748" font-size="13" fill="#f4f4f4" text-anchor="end">364 mVAR</text>
<text x="684.5" y="748" font-size="13" fill="#f4f4f4" text-anchor="end">962e-3</text>
<text x="782.5" y="748" font-size="13" fill="#f4f4f4" text-anchor="end">15.8721 &#176;</text>
<text x="2" y="761.5" font-size="13.5" fill="#f4f4f4" text-anchor="start" font-weight="bold">Vt:It</text>
<text x="50" y="758" font-size="9.5" fill="#f4f4f4" text-anchor="start" font-weight="bold" textLength="36" lengthAdjust="spacingAndGlyphs">LL to LN</text>
<text x="194.5" y="764" font-size="13" fill="#f4f4f4" text-anchor="end">1.336 V</text>
<text x="292.5" y="764" font-size="13" fill="#f4f4f4" text-anchor="end">988.4 mA</text>
<text x="390.5" y="762" font-size="13" fill="#f4f4f4" text-anchor="end">1.276 W</text>
<text x="488.5" y="764" font-size="13" fill="#f4f4f4" text-anchor="end">1.3207 VA</text>
<text x="586.5" y="764" font-size="13" fill="#f4f4f4" text-anchor="end">340 mVAR</text>
<text x="684.5" y="764" font-size="13" fill="#f4f4f4" text-anchor="end">966e-3</text>
<text x="782.5" y="764" font-size="13" fill="#f4f4f4" text-anchor="end">14.9299 &#176;</text>
<text x="2" y="777.5" font-size="13.5" fill="#f4f4f4" text-anchor="start" font-weight="bold">&#931;rst</text>
<text x="49" y="774" font-size="9.5" fill="#f4f4f4" text-anchor="start" font-weight="bold" textLength="36" lengthAdjust="spacingAndGlyphs">LL to LN</text>
<text x="194.5" y="780" font-size="13" fill="#f4f4f4" text-anchor="end">1.331 V</text>
<text x="292.5" y="780" font-size="13" fill="#f4f4f4" text-anchor="end">999.6 mA</text>
<text x="390.5" y="778" font-size="13" fill="#f4f4f4" text-anchor="end">3.853 W</text>
<text x="488.5" y="780" font-size="13" fill="#f4f4f4" text-anchor="end">3.9898 VA</text>
<text x="586.5" y="780" font-size="13" fill="#f4f4f4" text-anchor="end">1.037 VAR</text>
<text x="684.5" y="780" font-size="13" fill="#f4f4f4" text-anchor="end">966e-3</text>
<text x="782.5" y="780" font-size="13" fill="#f4f4f4" text-anchor="end">15.0621 &#176;</text>
<rect x="0" y="784.4" width="1280" height="15.6" fill="#272727"/>
<defs><linearGradient id="wg" x1="0" y1="0" x2="0" y2="1"><stop offset="0" stop-color="#fffbe8"/><stop offset="0.55" stop-color="#f8d838"/><stop offset="1" stop-color="#e8b800"/></linearGradient></defs>
<path d="M14 784.3L21 796.8H7Z" fill="url(#wg)" stroke="#d8a800" stroke-width="0.7" stroke-linejoin="round"/>
<path d="M14 788.5v5M14 794.6v1.4" stroke="#000" stroke-width="1.5"/>
<text x="26.5" y="796.5" font-size="12" fill="#e8e8e8" text-anchor="start">CvarBagInvariant: Adc Full Scale Range name not VBS friendly</text>
<text x="1262.5" y="796" font-size="12.3" fill="#ececec" text-anchor="end">3/22/2017 6:53:17 AM</text>
</svg>
</body></html>
